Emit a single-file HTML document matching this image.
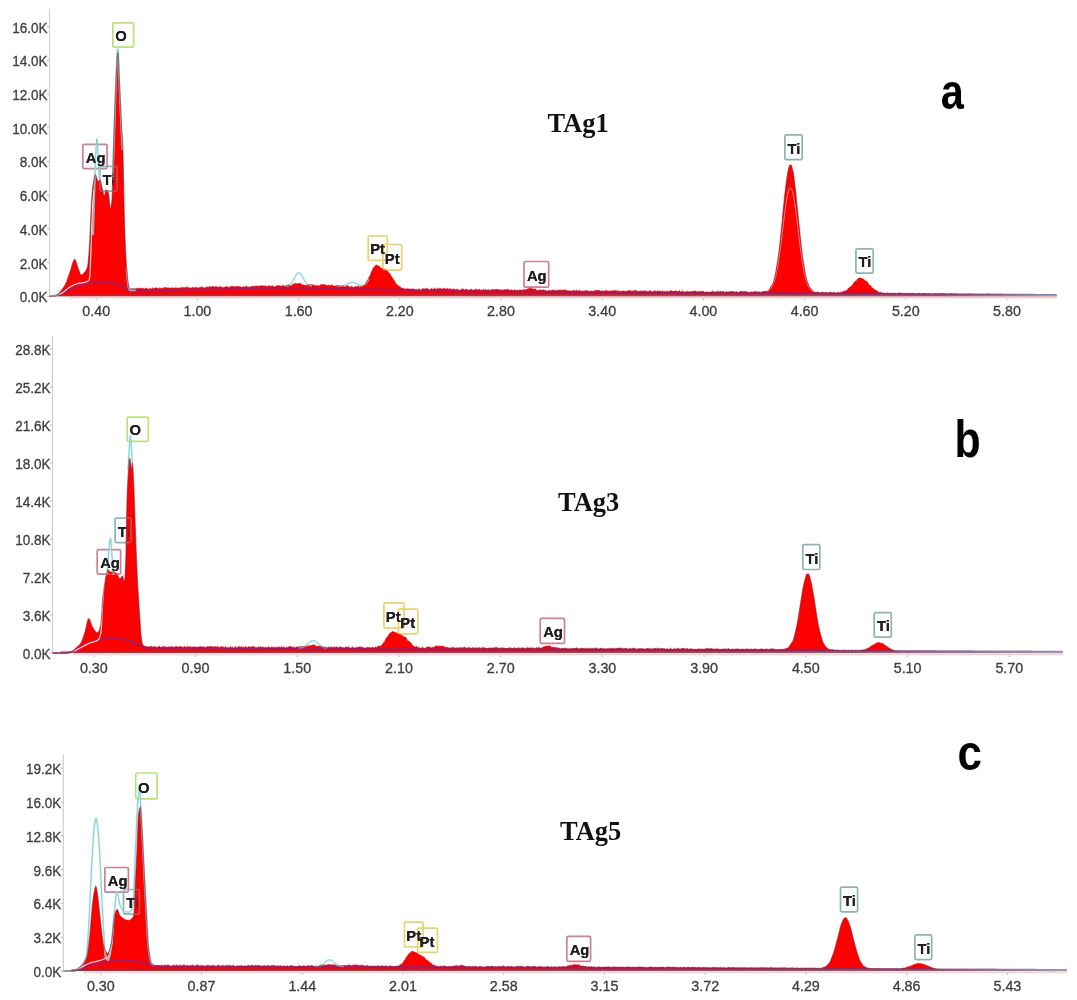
<!DOCTYPE html>
<html><head><meta charset="utf-8"><title>EDS spectra</title><style>
html,body{margin:0;padding:0;background:#fff;}
body{width:1077px;height:1000px;overflow:hidden;}
svg{display:block;}
.yl{font-family:"Liberation Sans", Arial, sans-serif;font-size:15.4px;fill:#3c3c3c;stroke:#3c3c3c;stroke-width:0.3px;text-anchor:end;}
.xl{font-family:"Liberation Sans", Arial, sans-serif;font-size:15.4px;fill:#3c3c3c;stroke:#3c3c3c;stroke-width:0.3px;text-anchor:middle;}
.el{font-family:"Liberation Sans", Arial, sans-serif;font-size:14.8px;font-weight:bold;fill:#1e1e1e;}
.ti{font-family:"Liberation Serif","Times New Roman",serif;font-size:26.4px;font-weight:bold;fill:#111;}
.le{font-family:"Liberation Sans",Arial,sans-serif;font-size:50px;font-weight:bold;fill:#000;}
</style></head><body>
<svg width="1077" height="1000" viewBox="0 0 1077 1000">
<rect width="1077" height="1000" fill="#fff"/>
<g><line x1="49.5" y1="9.0" x2="49.5" y2="296.3" stroke="#cfcfcf" stroke-width="1.2"/>
<line x1="47.0" y1="296.3" x2="49.5" y2="296.3" stroke="#bbb" stroke-width="1"/>
<text x="0" y="0" class="yl" transform="translate(47.6 302.2) scale(0.88 1)">0.0K</text>
<line x1="47.0" y1="262.6" x2="49.5" y2="262.6" stroke="#bbb" stroke-width="1"/>
<text x="0" y="0" class="yl" transform="translate(47.6 268.5) scale(0.88 1)">2.0K</text>
<line x1="47.0" y1="228.9" x2="49.5" y2="228.9" stroke="#bbb" stroke-width="1"/>
<text x="0" y="0" class="yl" transform="translate(47.6 234.8) scale(0.88 1)">4.0K</text>
<line x1="47.0" y1="195.2" x2="49.5" y2="195.2" stroke="#bbb" stroke-width="1"/>
<text x="0" y="0" class="yl" transform="translate(47.6 201.1) scale(0.88 1)">6.0K</text>
<line x1="47.0" y1="161.5" x2="49.5" y2="161.5" stroke="#bbb" stroke-width="1"/>
<text x="0" y="0" class="yl" transform="translate(47.6 167.4) scale(0.88 1)">8.0K</text>
<line x1="47.0" y1="127.8" x2="49.5" y2="127.8" stroke="#bbb" stroke-width="1"/>
<text x="0" y="0" class="yl" transform="translate(47.6 133.7) scale(0.88 1)">10.0K</text>
<line x1="47.0" y1="94.1" x2="49.5" y2="94.1" stroke="#bbb" stroke-width="1"/>
<text x="0" y="0" class="yl" transform="translate(47.6 100.0) scale(0.88 1)">12.0K</text>
<line x1="47.0" y1="60.4" x2="49.5" y2="60.4" stroke="#bbb" stroke-width="1"/>
<text x="0" y="0" class="yl" transform="translate(47.6 66.3) scale(0.88 1)">14.0K</text>
<line x1="47.0" y1="26.7" x2="49.5" y2="26.7" stroke="#bbb" stroke-width="1"/>
<text x="0" y="0" class="yl" transform="translate(47.6 32.6) scale(0.88 1)">16.0K</text>
<line x1="96.2" y1="298.5" x2="96.2" y2="300.1" stroke="#aaa" stroke-width="1"/>
<text x="0" y="0" class="xl" transform="translate(96.2 316.2) scale(0.93 1)">0.40</text>
<line x1="197.4" y1="298.5" x2="197.4" y2="300.1" stroke="#aaa" stroke-width="1"/>
<text x="0" y="0" class="xl" transform="translate(197.4 316.2) scale(0.93 1)">1.00</text>
<line x1="298.6" y1="298.5" x2="298.6" y2="300.1" stroke="#aaa" stroke-width="1"/>
<text x="0" y="0" class="xl" transform="translate(298.6 316.2) scale(0.93 1)">1.60</text>
<line x1="399.8" y1="298.5" x2="399.8" y2="300.1" stroke="#aaa" stroke-width="1"/>
<text x="0" y="0" class="xl" transform="translate(399.8 316.2) scale(0.93 1)">2.20</text>
<line x1="501.0" y1="298.5" x2="501.0" y2="300.1" stroke="#aaa" stroke-width="1"/>
<text x="0" y="0" class="xl" transform="translate(501.0 316.2) scale(0.93 1)">2.80</text>
<line x1="602.2" y1="298.5" x2="602.2" y2="300.1" stroke="#aaa" stroke-width="1"/>
<text x="0" y="0" class="xl" transform="translate(602.2 316.2) scale(0.93 1)">3.40</text>
<line x1="703.4" y1="298.5" x2="703.4" y2="300.1" stroke="#aaa" stroke-width="1"/>
<text x="0" y="0" class="xl" transform="translate(703.4 316.2) scale(0.93 1)">4.00</text>
<line x1="804.6" y1="298.5" x2="804.6" y2="300.1" stroke="#aaa" stroke-width="1"/>
<text x="0" y="0" class="xl" transform="translate(804.6 316.2) scale(0.93 1)">4.60</text>
<line x1="905.8" y1="298.5" x2="905.8" y2="300.1" stroke="#aaa" stroke-width="1"/>
<text x="0" y="0" class="xl" transform="translate(905.8 316.2) scale(0.93 1)">5.20</text>
<line x1="1007.0" y1="298.5" x2="1007.0" y2="300.1" stroke="#aaa" stroke-width="1"/>
<text x="0" y="0" class="xl" transform="translate(1007.0 316.2) scale(0.93 1)">5.80</text>
<rect x="112.8" y="22.9" width="20.8" height="24.3" rx="1.5" fill="none" stroke="#b8e27c" stroke-width="1.7"/><text x="115.2" y="41.2" class="el">O</text><rect x="82.8" y="144.3" width="24.3" height="24.4" rx="1.5" fill="none" stroke="#cc7f96" stroke-width="1.7"/><text x="85.8" y="162.8" class="el">Ag</text><rect x="99.8" y="166.4" width="17.3" height="24.7" rx="1.5" fill="none" stroke="#8fb2b5" stroke-width="1.7"/><text x="102.5" y="185.2" class="el">Ti</text><rect x="368.2" y="236.0" width="19.1" height="24.3" rx="1.5" fill="none" stroke="#e8d46a" stroke-width="1.7"/><text x="370.2" y="254.4" class="el">Pt</text><rect x="382.9" y="244.5" width="18.8" height="25.6" rx="1.5" fill="none" stroke="#e8d46a" stroke-width="1.7"/><text x="384.8" y="264.2" class="el">Pt</text><rect x="524.0" y="261.5" width="24.7" height="25.7" rx="1.5" fill="none" stroke="#cc7f96" stroke-width="1.7"/><text x="526.9" y="281.2" class="el">Ag</text><rect x="784.9" y="134.8" width="17.3" height="24.9" rx="1.5" fill="none" stroke="#8fb2b5" stroke-width="1.7"/><text x="787.5" y="153.8" class="el">Ti</text><rect x="855.9" y="248.8" width="17.3" height="24.3" rx="1.5" fill="none" stroke="#8fb2b5" stroke-width="1.7"/><text x="858.5" y="267.2" class="el">Ti</text>
<defs><path id="sp0path" d="M49.5 296.3 L49.5 296.3 L50.0 296.3 L50.5 296.3 L51.0 296.2 L51.5 296.2 L52.0 296.2 L52.5 296.2 L53.0 296.2 L53.5 296.1 L54.0 296.1 L54.5 296.1 L55.0 296.0 L55.5 295.9 L56.0 295.7 L56.5 295.4 L57.0 295.0 L57.5 294.6 L58.0 294.1 L58.5 293.6 L59.0 293.1 L59.5 292.5 L60.0 292.0 L60.5 291.5 L61.0 290.9 L61.5 290.3 L62.0 289.7 L62.5 289.0 L63.0 288.3 L63.5 287.6 L64.0 286.8 L64.5 286.0 L65.0 285.1 L65.5 284.2 L66.0 283.2 L66.5 282.0 L67.0 280.7 L67.5 279.3 L68.0 277.8 L68.5 276.3 L69.0 274.9 L69.5 273.4 L70.0 272.0 L70.5 270.5 L71.0 268.9 L71.5 267.1 L72.0 265.4 L72.5 263.7 L73.0 262.2 L73.5 260.9 L74.0 260.0 L74.5 259.5 L75.0 259.6 L75.5 260.4 L76.0 261.7 L76.5 263.3 L77.0 265.0 L77.5 266.6 L78.0 268.0 L78.5 269.3 L79.0 270.7 L79.5 272.2 L80.0 273.5 L80.5 274.4 L81.0 274.9 L81.5 275.0 L82.0 274.8 L82.5 274.5 L83.0 274.2 L83.5 273.7 L84.0 273.2 L84.5 272.6 L85.0 272.0 L85.5 271.4 L86.0 270.6 L86.5 269.6 L87.0 268.3 L87.5 266.7 L88.0 264.2 L88.5 259.2 L89.0 252.4 L89.5 245.0 L90.0 235.7 L90.5 224.1 L91.0 212.3 L91.5 202.5 L92.0 195.4 L92.5 189.3 L93.0 185.0 L93.5 182.0 L94.0 179.2 L94.5 177.0 L95.0 175.5 L95.5 175.0 L96.0 175.7 L96.5 177.4 L97.0 179.0 L97.5 180.6 L98.0 181.6 L98.5 181.3 L99.0 180.8 L99.5 180.2 L100.0 180.0 L100.5 180.9 L101.0 183.1 L101.5 185.7 L102.0 188.0 L102.5 190.0 L103.0 192.1 L103.5 194.0 L104.0 195.5 L104.5 196.0 L105.0 194.4 L105.5 191.6 L106.0 190.0 L106.5 190.2 L107.0 190.6 L107.5 191.3 L108.0 192.2 L108.5 193.3 L109.0 197.4 L109.5 203.2 L110.0 207.8 L110.5 208.7 L111.0 207.1 L111.5 204.1 L112.0 200.0 L112.5 188.1 L113.0 167.6 L113.5 147.3 L114.0 131.9 L114.5 117.1 L115.0 103.3 L115.5 90.7 L116.0 80.0 L116.5 69.7 L117.0 59.8 L117.5 53.3 L118.0 52.8 L118.5 60.8 L119.0 73.2 L119.5 85.0 L120.0 95.4 L120.5 106.3 L121.0 117.0 L121.5 126.6 L122.0 134.1 L122.5 140.5 L123.0 153.1 L123.5 177.2 L124.0 203.8 L124.5 223.0 L125.0 237.0 L125.5 249.4 L126.0 259.7 L126.5 267.4 L127.0 273.0 L127.5 278.1 L128.0 282.4 L128.5 285.6 L129.0 287.6 L129.5 288.3 L130.0 288.7 L130.5 289.0 L131.0 289.3 L131.5 288.9 L132.5 288.6 L133.5 289.3 L134.5 288.4 L135.5 289.1 L136.5 288.8 L137.5 288.3 L138.5 289.0 L139.5 288.2 L140.5 288.8 L141.5 288.2 L142.5 288.3 L143.5 288.7 L144.5 289.3 L145.5 288.2 L146.5 288.4 L147.5 288.9 L148.5 289.4 L149.5 288.8 L150.5 288.5 L151.5 289.4 L152.5 287.9 L153.5 289.1 L154.5 288.3 L155.5 288.0 L156.5 287.9 L157.5 288.2 L158.5 288.9 L159.5 288.0 L160.5 288.5 L161.5 288.6 L162.5 288.2 L163.5 288.4 L164.5 287.7 L165.5 287.6 L166.5 287.8 L167.5 288.5 L168.5 288.1 L169.5 287.9 L170.5 288.3 L171.5 288.1 L172.5 287.8 L173.5 288.5 L174.5 288.4 L175.5 287.7 L176.5 288.1 L177.5 288.0 L178.5 288.5 L179.5 288.3 L180.5 287.6 L181.5 288.6 L182.5 287.3 L183.5 287.7 L184.5 288.2 L185.5 287.3 L186.5 287.8 L187.5 287.1 L188.5 288.0 L189.5 288.1 L190.5 287.8 L191.5 288.2 L192.5 287.4 L193.5 287.9 L194.5 287.7 L195.5 287.7 L196.5 287.5 L197.5 288.0 L198.5 288.2 L199.5 287.4 L200.5 287.7 L201.5 286.8 L202.5 287.7 L203.5 287.6 L204.5 288.1 L205.5 287.9 L206.5 287.0 L207.5 287.2 L208.5 287.6 L209.5 286.6 L210.5 287.2 L211.5 286.8 L212.5 286.7 L213.5 286.6 L214.5 287.6 L215.5 286.7 L216.5 286.8 L217.5 287.0 L218.5 287.7 L219.5 286.5 L220.5 287.1 L221.5 287.2 L222.5 287.7 L223.5 287.6 L224.5 287.6 L225.5 286.7 L226.5 286.9 L227.5 286.8 L228.5 287.6 L229.5 287.7 L230.5 286.5 L231.5 286.5 L232.5 286.6 L233.5 286.6 L234.5 286.9 L235.5 287.1 L236.5 286.6 L237.5 286.2 L238.5 286.8 L239.5 286.7 L240.5 287.0 L241.5 287.5 L242.5 287.1 L243.5 286.8 L244.5 287.0 L245.5 287.1 L246.5 286.1 L247.5 287.4 L248.5 287.2 L249.5 287.3 L250.5 287.2 L251.5 286.5 L252.5 286.5 L253.5 286.1 L254.5 286.9 L255.5 286.0 L256.5 286.0 L257.5 286.2 L258.5 286.1 L259.5 286.4 L260.5 285.9 L261.5 285.8 L262.5 286.0 L263.5 285.9 L264.5 286.3 L265.5 285.8 L266.5 287.1 L267.5 286.6 L268.5 285.9 L269.5 286.1 L270.5 286.2 L271.5 286.2 L272.5 285.8 L273.5 286.9 L274.5 287.1 L275.5 286.3 L276.5 286.3 L277.5 285.7 L278.5 285.7 L279.5 286.1 L280.5 285.9 L281.5 286.7 L282.5 285.7 L283.5 285.5 L284.5 286.8 L285.5 286.1 L286.5 285.5 L287.5 285.9 L288.5 285.0 L289.5 285.5 L290.5 286.0 L291.5 285.6 L292.5 285.0 L293.5 284.1 L294.5 283.9 L295.5 283.4 L296.5 284.1 L297.5 283.6 L298.5 284.0 L299.5 283.4 L300.5 283.4 L301.5 284.5 L302.5 285.0 L303.5 285.0 L304.5 285.2 L305.5 285.5 L306.5 285.5 L307.5 284.9 L308.5 285.4 L309.5 285.2 L310.5 284.7 L311.5 284.7 L312.5 285.1 L313.5 285.0 L314.5 285.6 L315.5 286.0 L316.5 285.2 L317.5 285.9 L318.5 285.9 L319.5 285.9 L320.5 285.0 L321.5 284.7 L322.5 284.7 L323.5 284.7 L324.5 284.7 L325.5 285.3 L326.5 285.8 L327.5 285.7 L328.5 285.2 L329.5 285.5 L330.5 285.8 L331.5 284.8 L332.5 285.7 L333.5 286.1 L334.5 286.0 L335.5 286.0 L336.5 285.7 L337.5 285.3 L338.5 286.3 L339.5 285.7 L340.5 286.5 L341.5 286.8 L342.5 286.1 L343.5 286.1 L344.5 287.0 L345.5 286.8 L346.5 286.0 L347.5 286.0 L348.5 286.1 L349.5 287.3 L350.5 287.2 L351.5 286.2 L352.5 287.3 L353.5 287.6 L354.5 287.1 L355.5 286.7 L356.5 287.0 L357.5 286.4 L358.5 286.2 L359.5 287.5 L360.5 286.9 L361.5 286.5 L362.5 286.8 L363.5 285.6 L364.5 285.5 L365.5 284.4 L366.5 282.2 L367.5 280.7 L368.5 278.8 L369.5 276.6 L370.5 274.8 L371.5 272.0 L372.5 270.1 L373.5 267.7 L374.5 267.4 L375.5 265.5 L376.5 265.2 L377.5 265.4 L378.5 266.3 L379.5 266.4 L380.5 268.0 L381.5 268.2 L382.5 269.1 L383.5 269.7 L384.5 269.5 L385.5 270.6 L386.5 270.8 L387.5 271.1 L388.5 273.1 L389.5 273.2 L390.5 275.0 L391.5 276.8 L392.5 278.2 L393.5 279.5 L394.5 281.4 L395.5 283.0 L396.5 284.7 L397.5 284.8 L398.5 286.4 L399.5 286.6 L400.5 287.2 L401.5 288.4 L402.5 288.3 L403.5 288.6 L404.5 289.0 L405.5 289.3 L406.5 288.7 L407.5 289.0 L408.5 288.9 L409.5 289.0 L410.5 289.3 L411.5 289.0 L412.5 289.1 L413.5 289.1 L414.5 289.8 L415.5 289.5 L416.5 289.8 L417.5 289.9 L418.5 288.9 L419.5 289.4 L420.5 290.0 L421.5 289.9 L422.5 288.8 L423.5 288.8 L424.5 289.3 L425.5 288.7 L426.5 288.9 L427.5 288.7 L428.5 289.5 L429.5 289.7 L430.5 289.8 L431.5 288.6 L432.5 289.3 L433.5 289.2 L434.5 288.3 L435.5 289.3 L436.5 289.4 L437.5 288.2 L438.5 289.2 L439.5 288.4 L440.5 288.5 L441.5 289.3 L442.5 289.2 L443.5 288.2 L444.5 288.7 L445.5 289.0 L446.5 288.8 L447.5 288.7 L448.5 289.0 L449.5 289.7 L450.5 288.7 L451.5 289.6 L452.5 289.5 L453.5 288.9 L454.5 289.4 L455.5 289.9 L456.5 289.7 L457.5 289.1 L458.5 290.5 L459.5 290.2 L460.5 290.5 L461.5 289.2 L462.5 289.4 L463.5 289.1 L464.5 290.2 L465.5 289.5 L466.5 289.3 L467.5 289.7 L468.5 290.5 L469.5 290.3 L470.5 289.5 L471.5 289.3 L472.5 290.5 L473.5 290.0 L474.5 290.2 L475.5 289.3 L476.5 289.3 L477.5 290.2 L478.5 289.8 L479.5 289.3 L480.5 290.6 L481.5 290.2 L482.5 290.4 L483.5 289.4 L484.5 290.5 L485.5 289.4 L486.5 290.6 L487.5 290.0 L488.5 289.8 L489.5 290.1 L490.5 290.7 L491.5 289.7 L492.5 289.5 L493.5 290.1 L494.5 289.7 L495.5 289.5 L496.5 289.6 L497.5 289.5 L498.5 289.7 L499.5 289.9 L500.5 289.9 L501.5 290.6 L502.5 289.9 L503.5 290.2 L504.5 289.7 L505.5 290.0 L506.5 289.5 L507.5 289.9 L508.5 289.5 L509.5 290.6 L510.5 290.3 L511.5 289.8 L512.5 290.2 L513.5 290.9 L514.5 289.7 L515.5 290.8 L516.5 290.2 L517.5 290.3 L518.5 290.7 L519.5 290.0 L520.5 290.1 L521.5 290.3 L522.5 290.6 L523.5 289.5 L524.5 290.1 L525.5 289.7 L526.5 289.4 L527.5 289.0 L528.5 288.8 L529.5 288.3 L530.5 288.4 L531.5 288.4 L532.5 289.5 L533.5 288.9 L534.5 289.0 L535.5 289.1 L536.5 290.4 L537.5 290.6 L538.5 290.4 L539.5 290.0 L540.5 290.0 L541.5 290.1 L542.5 290.4 L543.5 290.0 L544.5 290.5 L545.5 290.2 L546.5 291.3 L547.5 291.3 L548.5 290.7 L549.5 290.2 L550.5 291.3 L551.5 290.4 L552.5 290.4 L553.5 289.9 L554.5 290.5 L555.5 290.6 L556.5 290.7 L557.5 290.2 L558.5 290.7 L559.5 290.0 L560.5 290.4 L561.5 290.1 L562.5 290.6 L563.5 290.0 L564.5 290.0 L565.5 290.4 L566.5 290.3 L567.5 290.9 L568.5 290.8 L569.5 291.1 L570.5 291.0 L571.5 291.1 L572.5 291.4 L573.5 290.6 L574.5 290.5 L575.5 291.5 L576.5 290.3 L577.5 291.2 L578.5 291.1 L579.5 290.2 L580.5 291.4 L581.5 291.4 L582.5 291.1 L583.5 291.2 L584.5 291.4 L585.5 290.4 L586.5 290.9 L587.5 290.9 L588.5 291.4 L589.5 291.4 L590.5 291.4 L591.5 291.1 L592.5 291.5 L593.5 291.2 L594.5 291.2 L595.5 290.6 L596.5 290.3 L597.5 290.4 L598.5 290.8 L599.5 290.4 L600.5 291.5 L601.5 291.1 L602.5 291.2 L603.5 291.2 L604.5 291.3 L605.5 291.0 L606.5 290.3 L607.5 291.5 L608.5 291.4 L609.5 291.1 L610.5 291.1 L611.5 291.3 L612.5 290.4 L613.5 291.5 L614.5 290.7 L615.5 290.5 L616.5 290.8 L617.5 291.5 L618.5 290.7 L619.5 291.5 L620.5 291.9 L621.5 291.2 L622.5 291.0 L623.5 291.1 L624.5 291.5 L625.5 291.6 L626.5 291.4 L627.5 291.4 L628.5 290.6 L629.5 290.7 L630.5 290.9 L631.5 291.6 L632.5 291.0 L633.5 291.4 L634.5 290.5 L635.5 290.6 L636.5 290.9 L637.5 291.5 L638.5 291.6 L639.5 291.6 L640.5 291.0 L641.5 291.3 L642.5 291.3 L643.5 291.3 L644.5 290.8 L645.5 291.9 L646.5 290.9 L647.5 292.1 L648.5 292.0 L649.5 290.6 L650.5 291.3 L651.5 291.9 L652.5 292.1 L653.5 291.3 L654.5 291.1 L655.5 291.0 L656.5 292.1 L657.5 291.0 L658.5 291.6 L659.5 290.9 L660.5 291.5 L661.5 292.1 L662.5 290.9 L663.5 292.0 L664.5 291.5 L665.5 292.1 L666.5 291.8 L667.5 291.1 L668.5 292.1 L669.5 291.5 L670.5 290.8 L671.5 290.8 L672.5 291.5 L673.5 291.5 L674.5 291.3 L675.5 291.0 L676.5 291.3 L677.5 291.3 L678.5 292.1 L679.5 290.8 L680.5 292.0 L681.5 292.1 L682.5 291.0 L683.5 292.3 L684.5 292.0 L685.5 292.2 L686.5 291.3 L687.5 291.5 L688.5 291.5 L689.5 292.4 L690.5 291.8 L691.5 291.5 L692.5 291.6 L693.5 291.4 L694.5 291.0 L695.5 291.1 L696.5 292.2 L697.5 291.4 L698.5 292.4 L699.5 291.4 L700.5 291.4 L701.5 291.8 L702.5 291.3 L703.5 291.6 L704.5 292.5 L705.5 292.4 L706.5 292.3 L707.5 292.0 L708.5 292.4 L709.5 292.5 L710.5 291.9 L711.5 292.2 L712.5 291.2 L713.5 292.2 L714.5 291.8 L715.5 292.2 L716.5 292.1 L717.5 291.6 L718.5 291.2 L719.5 292.5 L720.5 291.3 L721.5 291.9 L722.5 291.7 L723.5 291.6 L724.5 292.3 L725.5 292.7 L726.5 291.6 L727.5 292.2 L728.5 291.7 L729.5 292.1 L730.5 291.8 L731.5 291.5 L732.5 291.5 L733.5 291.6 L734.5 292.6 L735.5 292.0 L736.5 291.6 L737.5 292.6 L738.5 292.8 L739.5 292.0 L740.5 291.5 L741.5 291.6 L742.5 291.5 L743.5 291.8 L744.5 291.5 L745.5 291.7 L746.5 291.7 L747.5 292.2 L748.5 292.7 L749.5 292.5 L750.5 292.0 L751.5 292.0 L752.5 292.2 L753.5 292.0 L754.5 291.9 L755.5 291.5 L756.5 291.8 L757.5 292.9 L758.5 291.6 L759.5 292.2 L760.5 292.3 L761.5 292.7 L762.5 291.7 L763.5 291.6 L764.5 291.5 L765.5 291.5 L766.5 291.3 L767.5 291.6 L768.5 290.8 L769.5 289.9 L770.5 287.4 L771.5 285.8 L772.5 284.6 L773.5 282.1 L774.5 277.9 L775.5 273.7 L776.5 267.6 L777.5 261.9 L778.5 255.4 L779.5 247.1 L780.5 238.1 L781.5 228.6 L782.5 217.5 L783.5 207.1 L784.5 197.2 L785.5 188.5 L786.5 180.5 L787.5 174.0 L788.5 168.7 L789.5 165.6 L790.5 164.8 L791.5 165.8 L792.5 169.4 L793.5 174.1 L794.5 182.2 L795.5 190.0 L796.5 200.3 L797.5 210.0 L798.5 219.7 L799.5 229.6 L800.5 239.3 L801.5 248.7 L802.5 256.8 L803.5 263.1 L804.5 269.1 L805.5 274.9 L806.5 279.2 L807.5 282.3 L808.5 284.8 L809.5 287.4 L810.5 288.2 L811.5 289.7 L812.5 290.8 L813.5 292.0 L814.5 292.1 L815.5 292.7 L816.5 292.4 L817.5 292.2 L818.5 292.3 L819.5 293.3 L820.5 293.0 L821.5 292.5 L822.5 292.2 L823.5 292.8 L824.5 293.0 L825.5 292.7 L826.5 292.5 L827.5 293.1 L828.5 293.4 L829.5 292.5 L830.5 292.3 L831.5 292.7 L832.5 292.8 L833.5 293.1 L834.5 292.5 L835.5 293.2 L836.5 293.1 L837.5 292.8 L838.5 292.4 L839.5 293.2 L840.5 292.3 L841.5 292.7 L842.5 291.8 L843.5 291.5 L844.5 291.7 L845.5 290.7 L846.5 290.9 L847.5 289.7 L848.5 288.5 L849.5 287.7 L850.5 286.9 L851.5 286.1 L852.5 285.3 L853.5 283.3 L854.5 282.4 L855.5 281.1 L856.5 281.0 L857.5 279.2 L858.5 278.4 L859.5 278.0 L860.5 278.1 L861.5 278.7 L862.5 278.9 L863.5 279.2 L864.5 280.2 L865.5 281.0 L866.5 281.4 L867.5 282.3 L868.5 284.3 L869.5 285.3 L870.5 285.6 L871.5 287.4 L872.5 288.1 L873.5 289.0 L874.5 289.8 L875.5 290.3 L876.5 290.7 L877.5 291.5 L878.5 292.0 L879.5 293.0 L880.5 292.3 L881.5 293.4 L882.5 292.8 L883.5 293.0 L884.5 293.6 L885.5 293.7 L886.5 293.3 L887.5 293.0 L888.5 293.4 L889.5 293.3 L890.5 293.9 L891.5 293.2 L892.5 293.4 L893.5 293.9 L894.5 293.1 L895.5 293.5 L896.5 293.9 L897.5 293.8 L898.5 293.1 L899.5 293.1 L900.5 293.2 L901.5 294.0 L902.5 293.4 L903.5 293.9 L904.5 294.0 L905.5 293.5 L906.5 293.5 L907.5 294.1 L908.5 293.8 L909.5 293.5 L910.5 293.9 L911.5 293.6 L912.5 293.5 L913.5 293.3 L914.5 294.0 L915.5 294.1 L916.5 293.9 L917.5 294.2 L918.5 293.4 L919.5 293.6 L920.5 293.8 L921.5 294.2 L922.5 294.2 L923.5 293.7 L924.5 293.6 L925.5 293.8 L926.5 293.9 L927.5 294.3 L928.5 293.6 L929.5 294.2 L930.5 294.1 L931.5 294.2 L932.5 294.2 L933.5 294.0 L934.5 293.8 L935.5 293.8 L936.5 293.9 L937.5 294.2 L938.5 293.7 L939.5 293.8 L940.5 294.2 L941.5 293.8 L942.5 293.7 L943.5 293.7 L944.5 294.1 L945.5 293.9 L946.5 294.5 L947.5 294.4 L948.5 294.5 L949.5 293.9 L950.5 293.8 L951.5 293.8 L952.5 294.1 L953.5 294.3 L954.5 294.1 L955.5 294.0 L956.5 294.1 L957.5 294.3 L958.5 294.3 L959.5 294.4 L960.5 294.5 L961.5 294.4 L962.5 294.0 L963.5 294.5 L964.5 294.1 L965.5 294.3 L966.5 294.2 L967.5 294.5 L968.5 294.1 L969.5 294.1 L970.5 294.2 L971.5 294.1 L972.5 294.6 L973.5 294.4 L974.5 294.3 L975.5 294.3 L976.5 294.7 L977.5 294.4 L978.5 294.2 L979.5 294.6 L980.5 294.5 L981.5 294.8 L982.5 294.2 L983.5 294.5 L984.5 294.7 L985.5 294.7 L986.5 294.8 L987.5 294.2 L988.5 294.4 L989.5 294.3 L990.5 294.3 L991.5 294.9 L992.5 294.6 L993.5 294.8 L994.5 294.5 L995.5 294.8 L996.5 294.6 L997.5 294.5 L998.5 294.8 L999.5 294.9 L1000.5 294.4 L1001.5 294.7 L1002.5 294.7 L1003.5 294.5 L1004.5 294.6 L1005.5 294.5 L1006.5 294.6 L1007.5 294.6 L1008.5 294.8 L1009.5 294.9 L1010.5 294.6 L1011.5 294.5 L1012.5 294.7 L1013.5 294.9 L1014.5 294.7 L1015.5 294.8 L1016.5 294.7 L1017.5 295.0 L1018.5 294.9 L1019.5 294.7 L1020.5 294.7 L1021.5 294.9 L1022.5 295.0 L1023.5 295.0 L1024.5 294.8 L1025.5 294.9 L1026.5 295.1 L1027.5 295.0 L1028.5 295.0 L1029.5 295.0 L1030.5 295.3 L1031.5 295.0 L1032.5 295.1 L1033.5 295.1 L1034.5 295.1 L1035.5 295.3 L1036.5 295.4 L1037.5 295.1 L1038.5 295.1 L1039.5 295.3 L1040.5 295.1 L1041.5 295.1 L1042.5 295.4 L1043.5 295.2 L1044.5 295.4 L1045.5 295.3 L1046.5 295.5 L1047.5 295.3 L1048.5 295.2 L1049.5 295.2 L1050.5 295.4 L1051.5 295.4 L1052.5 295.5 L1053.5 295.3 L1054.5 295.5 L1055.5 295.4 L1056.5 295.5 L1056.5 296.3 Z"/></defs>
<use href="#sp0path" fill="#fd0000"/>
<linearGradient id="bl0" gradientUnits="userSpaceOnUse" x1="49.5" y1="0" x2="1057.0" y2="0"><stop offset="0" stop-color="#b02a3c" stop-opacity="0.7"/><stop offset="0.880" stop-color="#8a5a78"/><stop offset="1" stop-color="#86a4b8"/></linearGradient>
<line x1="69.5" y1="297.5" x2="1057.0" y2="297.5" stroke="#f6cfd6" stroke-width="2"/>
<path d="M49.5 296.3 L50.0 296.3 L50.5 296.2 L51.0 296.2 L51.5 296.1 L52.0 296.1 L52.5 296.0 L53.0 295.9 L53.5 295.9 L54.0 295.8 L54.5 295.7 L55.0 295.7 L55.5 295.6 L56.0 295.5 L56.5 295.4 L57.0 295.3 L57.5 295.1 L58.0 295.0 L58.5 294.8 L59.0 294.6 L59.5 294.4 L60.0 294.2 L60.5 294.0 L61.0 293.8 L61.5 293.5 L62.0 293.3 L62.5 293.1 L63.0 292.9 L63.5 292.6 L64.0 292.4 L64.5 292.2 L65.0 292.0 L65.5 291.8 L66.0 291.6 L66.5 291.4 L67.0 291.2 L67.5 291.0 L68.0 290.8 L68.5 290.6 L69.0 290.4 L69.5 290.2 L70.0 290.0 L70.5 289.8 L71.0 289.6 L71.5 289.4 L72.0 289.2 L72.5 289.0 L73.0 288.8 L73.5 288.6 L74.0 288.4 L74.5 288.2 L75.0 288.0 L75.5 287.8 L76.0 287.6 L76.5 287.4 L77.0 287.2 L77.5 287.0 L78.0 286.9 L78.5 286.7 L79.0 286.5 L79.5 286.3 L80.0 286.1 L80.5 285.9 L81.0 285.7 L81.5 285.6 L82.0 285.4 L82.5 285.2 L83.0 285.1 L83.5 284.9 L84.0 284.8 L84.5 284.6 L85.0 284.5 L85.5 284.4 L86.0 284.2 L86.5 284.1 L87.0 284.0 L87.5 283.8 L88.0 283.7 L88.5 283.6 L89.0 283.4 L89.5 283.3 L90.0 283.2 L90.5 283.1 L91.0 283.0 L91.5 282.9 L92.0 282.8 L92.5 282.7 L93.0 282.6 L93.5 282.6 L94.0 282.5 L94.5 282.5 L95.0 282.5 L95.5 282.5 L96.0 282.5 L96.5 282.5 L97.0 282.5 L97.5 282.5 L98.0 282.5 L98.5 282.5 L99.0 282.5 L99.5 282.5 L100.0 282.5 L100.5 282.5 L101.0 282.5 L101.5 282.5 L102.0 282.5 L102.5 282.5 L103.0 282.5 L103.5 282.5 L104.0 282.5 L104.5 282.5 L105.0 282.5 L105.5 282.5 L106.0 282.5 L106.5 282.5 L107.0 282.6 L107.5 282.6 L108.0 282.7 L108.5 282.7 L109.0 282.8 L109.5 282.9 L110.0 283.0 L110.5 283.1 L111.0 283.2 L111.5 283.3 L112.0 283.4 L112.5 283.5 L113.0 283.6 L113.5 283.7 L114.0 283.8 L114.5 283.9 L115.0 284.0 L115.5 284.1 L116.0 284.3 L116.5 284.4 L117.0 284.6 L117.5 284.7 L118.0 284.9 L118.5 285.1 L119.0 285.3 L119.5 285.5 L120.0 285.7 L120.5 286.0 L121.0 286.2 L121.5 286.4 L122.0 286.7 L122.5 286.9 L123.0 287.1 L123.5 287.3 L124.0 287.6 L124.5 287.8 L125.0 288.0 L125.5 288.2 L126.0 288.5 L126.5 288.7 L127.0 289.0 L127.5 289.3 L128.0 289.6 L128.5 289.9 L129.0 290.2 L129.5 290.4 L130.0 290.7 L130.5 290.9 L131.0 291.1 L131.5 291.3 L132.5 291.5 L133.5 291.5 L134.5 291.5 L135.5 291.5 L136.5 291.5 L137.5 291.5 L138.5 291.5 L139.5 291.5 L140.5 291.5 L141.5 291.5 L142.5 291.4 L143.5 291.4 L144.5 291.4 L145.5 291.4 L146.5 291.4 L147.5 291.4 L148.5 291.3 L149.5 291.3 L150.5 291.3 L151.5 291.3 L152.5 291.3 L153.5 291.2 L154.5 291.2 L155.5 291.2 L156.5 291.2 L157.5 291.2 L158.5 291.1 L159.5 291.1 L160.5 291.1 L161.5 291.1 L162.5 291.0 L163.5 291.0 L164.5 291.0 L165.5 290.9 L166.5 290.9 L167.5 290.9 L168.5 290.9 L169.5 290.8 L170.5 290.8 L171.5 290.8 L172.5 290.7 L173.5 290.7 L174.5 290.7 L175.5 290.6 L176.5 290.6 L177.5 290.6 L178.5 290.6 L179.5 290.5 L180.5 290.5 L181.5 290.5 L182.5 290.4 L183.5 290.4 L184.5 290.4 L185.5 290.4 L186.5 290.3 L187.5 290.3 L188.5 290.3 L189.5 290.2 L190.5 290.2 L191.5 290.2 L192.5 290.2 L193.5 290.1 L194.5 290.1 L195.5 290.1 L196.5 290.1 L197.5 290.1 L198.5 290.0 L199.5 290.0 L200.5 290.0 L201.5 290.0 L202.5 290.0 L203.5 289.9 L204.5 289.9 L205.5 289.9 L206.5 289.9 L207.5 289.8 L208.5 289.8 L209.5 289.8 L210.5 289.8 L211.5 289.8 L212.5 289.7 L213.5 289.7 L214.5 289.7 L215.5 289.7 L216.5 289.7 L217.5 289.6 L218.5 289.6 L219.5 289.6 L220.5 289.6 L221.5 289.5 L222.5 289.5 L223.5 289.5 L224.5 289.5 L225.5 289.5 L226.5 289.4 L227.5 289.4 L228.5 289.4 L229.5 289.4 L230.5 289.3 L231.5 289.3 L232.5 289.3 L233.5 289.3 L234.5 289.3 L235.5 289.2 L236.5 289.2 L237.5 289.2 L238.5 289.2 L239.5 289.1 L240.5 289.1 L241.5 289.1 L242.5 289.1 L243.5 289.1 L244.5 289.0 L245.5 289.0 L246.5 289.0 L247.5 289.0 L248.5 289.0 L249.5 288.9 L250.5 288.9 L251.5 288.9 L252.5 288.9 L253.5 288.9 L254.5 288.9 L255.5 288.8 L256.5 288.8 L257.5 288.8 L258.5 288.8 L259.5 288.8 L260.5 288.8 L261.5 288.7 L262.5 288.7 L263.5 288.7 L264.5 288.7 L265.5 288.7 L266.5 288.7 L267.5 288.7 L268.5 288.6 L269.5 288.6 L270.5 288.6 L271.5 288.6 L272.5 288.6 L273.5 288.6 L274.5 288.6 L275.5 288.6 L276.5 288.6 L277.5 288.5 L278.5 288.5 L279.5 288.5 L280.5 288.5 L281.5 288.5 L282.5 288.5 L283.5 288.5 L284.5 288.5 L285.5 288.5 L286.5 288.5 L287.5 288.5 L288.5 288.5 L289.5 288.5 L290.5 288.5 L291.5 288.5 L292.5 288.5 L293.5 288.5 L294.5 288.5 L295.5 288.5 L296.5 288.5 L297.5 288.5 L298.5 288.5 L299.5 288.5 L300.5 288.5 L301.5 288.5 L302.5 288.6 L303.5 288.6 L304.5 288.6 L305.5 288.6 L306.5 288.6 L307.5 288.6 L308.5 288.6 L309.5 288.6 L310.5 288.6 L311.5 288.6 L312.5 288.7 L313.5 288.7 L314.5 288.7 L315.5 288.7 L316.5 288.7 L317.5 288.7 L318.5 288.7 L319.5 288.8 L320.5 288.8 L321.5 288.8 L322.5 288.8 L323.5 288.8 L324.5 288.8 L325.5 288.8 L326.5 288.9 L327.5 288.9 L328.5 288.9 L329.5 288.9 L330.5 288.9 L331.5 289.0 L332.5 289.0 L333.5 289.0 L334.5 289.0 L335.5 289.0 L336.5 289.0 L337.5 289.1 L338.5 289.1 L339.5 289.1 L340.5 289.1 L341.5 289.1 L342.5 289.2 L343.5 289.2 L344.5 289.2 L345.5 289.2 L346.5 289.2 L347.5 289.3 L348.5 289.3 L349.5 289.3 L350.5 289.3 L351.5 289.3 L352.5 289.4 L353.5 289.4 L354.5 289.4 L355.5 289.4 L356.5 289.4 L357.5 289.5 L358.5 289.5 L359.5 289.5 L360.5 289.5 L361.5 289.5 L362.5 289.5 L363.5 289.6 L364.5 289.6 L365.5 289.6 L366.5 289.6 L367.5 289.7 L368.5 289.7 L369.5 289.7 L370.5 289.7 L371.5 289.8 L372.5 289.8 L373.5 289.8 L374.5 289.8 L375.5 289.9 L376.5 289.9 L377.5 289.9 L378.5 289.9 L379.5 290.0 L380.5 290.0 L381.5 290.0 L382.5 290.1 L383.5 290.1 L384.5 290.1 L385.5 290.1 L386.5 290.2 L387.5 290.2 L388.5 290.2 L389.5 290.3 L390.5 290.3 L391.5 290.3 L392.5 290.3 L393.5 290.4 L394.5 290.4 L395.5 290.4 L396.5 290.5 L397.5 290.5 L398.5 290.5 L399.5 290.5 L400.5 290.6 L401.5 290.6 L402.5 290.6 L403.5 290.6 L404.5 290.7 L405.5 290.7 L406.5 290.7 L407.5 290.7 L408.5 290.8 L409.5 290.8 L410.5 290.8 L411.5 290.8 L412.5 290.9 L413.5 290.9 L414.5 290.9 L415.5 290.9 L416.5 290.9 L417.5 291.0 L418.5 291.0 L419.5 291.0 L420.5 291.0 L421.5 291.0 L422.5 291.0 L423.5 291.1 L424.5 291.1 L425.5 291.1 L426.5 291.1 L427.5 291.1 L428.5 291.1 L429.5 291.1 L430.5 291.2 L431.5 291.2 L432.5 291.2 L433.5 291.2 L434.5 291.2 L435.5 291.2 L436.5 291.2 L437.5 291.3 L438.5 291.3 L439.5 291.3 L440.5 291.3 L441.5 291.3 L442.5 291.3 L443.5 291.3 L444.5 291.4 L445.5 291.4 L446.5 291.4 L447.5 291.4 L448.5 291.4 L449.5 291.4 L450.5 291.4 L451.5 291.5 L452.5 291.5 L453.5 291.5 L454.5 291.5 L455.5 291.5 L456.5 291.5 L457.5 291.5 L458.5 291.5 L459.5 291.6 L460.5 291.6 L461.5 291.6 L462.5 291.6 L463.5 291.6 L464.5 291.6 L465.5 291.6 L466.5 291.6 L467.5 291.7 L468.5 291.7 L469.5 291.7 L470.5 291.7 L471.5 291.7 L472.5 291.7 L473.5 291.7 L474.5 291.7 L475.5 291.7 L476.5 291.8 L477.5 291.8 L478.5 291.8 L479.5 291.8 L480.5 291.8 L481.5 291.8 L482.5 291.8 L483.5 291.8 L484.5 291.8 L485.5 291.8 L486.5 291.9 L487.5 291.9 L488.5 291.9 L489.5 291.9 L490.5 291.9 L491.5 291.9 L492.5 291.9 L493.5 291.9 L494.5 291.9 L495.5 291.9 L496.5 292.0 L497.5 292.0 L498.5 292.0 L499.5 292.0 L500.5 292.0 L501.5 292.0 L502.5 292.0 L503.5 292.0 L504.5 292.0 L505.5 292.0 L506.5 292.0 L507.5 292.1 L508.5 292.1 L509.5 292.1 L510.5 292.1 L511.5 292.1 L512.5 292.1 L513.5 292.1 L514.5 292.1 L515.5 292.1 L516.5 292.1 L517.5 292.1 L518.5 292.1 L519.5 292.2 L520.5 292.2 L521.5 292.2 L522.5 292.2 L523.5 292.2 L524.5 292.2 L525.5 292.2 L526.5 292.2 L527.5 292.2 L528.5 292.2 L529.5 292.2 L530.5 292.2 L531.5 292.2 L532.5 292.3 L533.5 292.3 L534.5 292.3 L535.5 292.3 L536.5 292.3 L537.5 292.3 L538.5 292.3 L539.5 292.3 L540.5 292.3 L541.5 292.3 L542.5 292.3 L543.5 292.3 L544.5 292.3 L545.5 292.3 L546.5 292.3 L547.5 292.3 L548.5 292.4 L549.5 292.4 L550.5 292.4 L551.5 292.4 L552.5 292.4 L553.5 292.4 L554.5 292.4 L555.5 292.4 L556.5 292.4 L557.5 292.4 L558.5 292.4 L559.5 292.4 L560.5 292.4 L561.5 292.4 L562.5 292.4 L563.5 292.4 L564.5 292.4 L565.5 292.4 L566.5 292.5 L567.5 292.5 L568.5 292.5 L569.5 292.5 L570.5 292.5 L571.5 292.5 L572.5 292.5 L573.5 292.5 L574.5 292.5 L575.5 292.5 L576.5 292.5 L577.5 292.5 L578.5 292.5 L579.5 292.5 L580.5 292.5 L581.5 292.5 L582.5 292.5 L583.5 292.5 L584.5 292.5 L585.5 292.5 L586.5 292.5 L587.5 292.6 L588.5 292.6 L589.5 292.6 L590.5 292.6 L591.5 292.6 L592.5 292.6 L593.5 292.6 L594.5 292.6 L595.5 292.6 L596.5 292.6 L597.5 292.6 L598.5 292.6 L599.5 292.6 L600.5 292.6 L601.5 292.6 L602.5 292.6 L603.5 292.6 L604.5 292.6 L605.5 292.6 L606.5 292.6 L607.5 292.6 L608.5 292.6 L609.5 292.6 L610.5 292.6 L611.5 292.7 L612.5 292.7 L613.5 292.7 L614.5 292.7 L615.5 292.7 L616.5 292.7 L617.5 292.7 L618.5 292.7 L619.5 292.7 L620.5 292.7 L621.5 292.7 L622.5 292.7 L623.5 292.7 L624.5 292.7 L625.5 292.7 L626.5 292.7 L627.5 292.7 L628.5 292.7 L629.5 292.7 L630.5 292.7 L631.5 292.7 L632.5 292.7 L633.5 292.7 L634.5 292.7 L635.5 292.7 L636.5 292.7 L637.5 292.7 L638.5 292.8 L639.5 292.8 L640.5 292.8 L641.5 292.8 L642.5 292.8 L643.5 292.8 L644.5 292.8 L645.5 292.8 L646.5 292.8 L647.5 292.8 L648.5 292.8 L649.5 292.8 L650.5 292.8 L651.5 292.8 L652.5 292.8 L653.5 292.8 L654.5 292.8 L655.5 292.8 L656.5 292.8 L657.5 292.8 L658.5 292.8 L659.5 292.8 L660.5 292.8 L661.5 292.8 L662.5 292.8 L663.5 292.8 L664.5 292.9 L665.5 292.9 L666.5 292.9 L667.5 292.9 L668.5 292.9 L669.5 292.9 L670.5 292.9 L671.5 292.9 L672.5 292.9 L673.5 292.9 L674.5 292.9 L675.5 292.9 L676.5 292.9 L677.5 292.9 L678.5 292.9 L679.5 292.9 L680.5 292.9 L681.5 292.9 L682.5 292.9 L683.5 292.9 L684.5 292.9 L685.5 292.9 L686.5 292.9 L687.5 292.9 L688.5 292.9 L689.5 293.0 L690.5 293.0 L691.5 293.0 L692.5 293.0 L693.5 293.0 L694.5 293.0 L695.5 293.0 L696.5 293.0 L697.5 293.0 L698.5 293.0 L699.5 293.0 L700.5 293.0 L701.5 293.0 L702.5 293.0 L703.5 293.0 L704.5 293.0 L705.5 293.0 L706.5 293.0 L707.5 293.0 L708.5 293.0 L709.5 293.0 L710.5 293.0 L711.5 293.1 L712.5 293.1 L713.5 293.1 L714.5 293.1 L715.5 293.1 L716.5 293.1 L717.5 293.1 L718.5 293.1 L719.5 293.1 L720.5 293.1 L721.5 293.1 L722.5 293.1 L723.5 293.1 L724.5 293.1 L725.5 293.1 L726.5 293.1 L727.5 293.1 L728.5 293.1 L729.5 293.1 L730.5 293.1 L731.5 293.1 L732.5 293.2 L733.5 293.2 L734.5 293.2 L735.5 293.2 L736.5 293.2 L737.5 293.2 L738.5 293.2 L739.5 293.2 L740.5 293.2 L741.5 293.2 L742.5 293.2 L743.5 293.2 L744.5 293.2 L745.5 293.2 L746.5 293.2 L747.5 293.2 L748.5 293.2 L749.5 293.2 L750.5 293.2 L751.5 293.2 L752.5 293.2 L753.5 293.3 L754.5 293.3 L755.5 293.3 L756.5 293.3 L757.5 293.3 L758.5 293.3 L759.5 293.3 L760.5 293.3 L761.5 293.3 L762.5 293.3 L763.5 293.3 L764.5 293.3 L765.5 293.3 L766.5 293.3 L767.5 293.3 L768.5 293.3 L769.5 293.3 L770.5 293.3 L771.5 293.3 L772.5 293.3 L773.5 293.3 L774.5 293.4 L775.5 293.4 L776.5 293.4 L777.5 293.4 L778.5 293.4 L779.5 293.4 L780.5 293.4 L781.5 293.4 L782.5 293.4 L783.5 293.4 L784.5 293.4 L785.5 293.4 L786.5 293.4 L787.5 293.4 L788.5 293.4 L789.5 293.4 L790.5 293.4 L791.5 293.4 L792.5 293.4 L793.5 293.4 L794.5 293.4 L795.5 293.5 L796.5 293.5 L797.5 293.5 L798.5 293.5 L799.5 293.5 L800.5 293.5 L801.5 293.5 L802.5 293.5 L803.5 293.5 L804.5 293.5 L805.5 293.5 L806.5 293.5 L807.5 293.5 L808.5 293.5 L809.5 293.5 L810.5 293.5 L811.5 293.5 L812.5 293.5 L813.5 293.5 L814.5 293.5 L815.5 293.6 L816.5 293.6 L817.5 293.6 L818.5 293.6 L819.5 293.6 L820.5 293.6 L821.5 293.6 L822.5 293.6 L823.5 293.6 L824.5 293.6 L825.5 293.6 L826.5 293.6 L827.5 293.6 L828.5 293.6 L829.5 293.6 L830.5 293.6 L831.5 293.6 L832.5 293.6 L833.5 293.6 L834.5 293.6 L835.5 293.7 L836.5 293.7 L837.5 293.7 L838.5 293.7 L839.5 293.7 L840.5 293.7 L841.5 293.7 L842.5 293.7 L843.5 293.7 L844.5 293.7 L845.5 293.7 L846.5 293.7 L847.5 293.7 L848.5 293.7 L849.5 293.7 L850.5 293.7 L851.5 293.7 L852.5 293.7 L853.5 293.7 L854.5 293.8 L855.5 293.8 L856.5 293.8 L857.5 293.8 L858.5 293.8 L859.5 293.8 L860.5 293.8 L861.5 293.8 L862.5 293.8 L863.5 293.8 L864.5 293.8 L865.5 293.8 L866.5 293.8 L867.5 293.8 L868.5 293.8 L869.5 293.8 L870.5 293.8 L871.5 293.8 L872.5 293.8 L873.5 293.9 L874.5 293.9 L875.5 293.9 L876.5 293.9 L877.5 293.9 L878.5 293.9 L879.5 293.9 L880.5 293.9 L881.5 293.9 L882.5 293.9 L883.5 293.9 L884.5 293.9 L885.5 293.9 L886.5 293.9 L887.5 293.9 L888.5 293.9 L889.5 293.9 L890.5 293.9 L891.5 294.0 L892.5 294.0 L893.5 294.0 L894.5 294.0 L895.5 294.0 L896.5 294.0 L897.5 294.0 L898.5 294.0 L899.5 294.0 L900.5 294.0 L901.5 294.0 L902.5 294.0 L903.5 294.0 L904.5 294.0 L905.5 294.0 L906.5 294.0 L907.5 294.0 L908.5 294.0 L909.5 294.1 L910.5 294.1 L911.5 294.1 L912.5 294.1 L913.5 294.1 L914.5 294.1 L915.5 294.1 L916.5 294.1 L917.5 294.1 L918.5 294.1 L919.5 294.1 L920.5 294.1 L921.5 294.1 L922.5 294.1 L923.5 294.1 L924.5 294.1 L925.5 294.1 L926.5 294.2 L927.5 294.2 L928.5 294.2 L929.5 294.2 L930.5 294.2 L931.5 294.2 L932.5 294.2 L933.5 294.2 L934.5 294.2 L935.5 294.2 L936.5 294.2 L937.5 294.2 L938.5 294.2 L939.5 294.2 L940.5 294.2 L941.5 294.2 L942.5 294.3 L943.5 294.3 L944.5 294.3 L945.5 294.3 L946.5 294.3 L947.5 294.3 L948.5 294.3 L949.5 294.3 L950.5 294.3 L951.5 294.3 L952.5 294.3 L953.5 294.3 L954.5 294.3 L955.5 294.3 L956.5 294.3 L957.5 294.3 L958.5 294.4 L959.5 294.4 L960.5 294.4 L961.5 294.4 L962.5 294.4 L963.5 294.4 L964.5 294.4 L965.5 294.4 L966.5 294.4 L967.5 294.4 L968.5 294.4 L969.5 294.4 L970.5 294.4 L971.5 294.4 L972.5 294.4 L973.5 294.5 L974.5 294.5 L975.5 294.5 L976.5 294.5 L977.5 294.5 L978.5 294.5 L979.5 294.5 L980.5 294.5 L981.5 294.5 L982.5 294.5 L983.5 294.5 L984.5 294.5 L985.5 294.5 L986.5 294.5 L987.5 294.5 L988.5 294.6 L989.5 294.6 L990.5 294.6 L991.5 294.6 L992.5 294.6 L993.5 294.6 L994.5 294.6 L995.5 294.6 L996.5 294.6 L997.5 294.6 L998.5 294.6 L999.5 294.6 L1000.5 294.6 L1001.5 294.6 L1002.5 294.6 L1003.5 294.7 L1004.5 294.7 L1005.5 294.7 L1006.5 294.7 L1007.5 294.7 L1008.5 294.7 L1009.5 294.7 L1010.5 294.7 L1011.5 294.7 L1012.5 294.7 L1013.5 294.7 L1014.5 294.7 L1015.5 294.7 L1016.5 294.7 L1017.5 294.7 L1018.5 294.7 L1019.5 294.8 L1020.5 294.8 L1021.5 294.8 L1022.5 294.8 L1023.5 294.8 L1024.5 294.8 L1025.5 294.8 L1026.5 294.8 L1027.5 294.8 L1028.5 294.8 L1029.5 294.8 L1030.5 294.8 L1031.5 294.8 L1032.5 294.8 L1033.5 294.8 L1034.5 294.9 L1035.5 294.9 L1036.5 294.9 L1037.5 294.9 L1038.5 294.9 L1039.5 294.9 L1040.5 294.9 L1041.5 294.9 L1042.5 294.9 L1043.5 294.9 L1044.5 294.9 L1045.5 294.9 L1046.5 294.9 L1047.5 294.9 L1048.5 294.9 L1049.5 295.0 L1050.5 295.0 L1051.5 295.0 L1052.5 295.0 L1053.5 295.0 L1054.5 295.0 L1055.5 295.0 L1056.5 295.0" fill="none" stroke="#7a2890" stroke-opacity="0.65" stroke-width="2"/>
<path d="M767.9 291.1 L768.4 290.8 L768.9 290.5 L769.4 290.1 L769.9 289.7 L770.4 289.1 L770.9 288.5 L771.4 287.8 L771.9 287.0 L772.4 286.1 L772.9 285.0 L773.4 283.8 L773.9 282.5 L774.4 281.0 L774.9 279.3 L775.4 277.5 L775.9 275.5 L776.4 273.2 L776.9 270.8 L777.4 268.2 L777.9 265.3 L778.4 262.3 L778.9 259.1 L779.4 255.7 L779.9 252.1 L780.4 248.3 L780.9 244.5 L781.4 240.5 L781.9 236.4 L782.4 232.2 L782.9 228.0 L783.4 223.9 L783.9 219.7 L784.4 215.7 L784.9 211.8 L785.4 208.0 L785.9 204.5 L786.4 201.2 L786.9 198.2 L787.4 195.5 L787.9 193.1 L788.4 191.2 L788.9 189.7 L789.4 188.5 L789.9 187.9 L790.4 187.6 L790.9 187.9 L791.4 188.6 L791.9 189.7 L792.4 191.2 L792.9 193.2 L793.4 195.5 L793.9 198.2 L794.4 201.3 L794.9 204.6 L795.4 208.1 L795.9 211.9 L796.4 215.8 L796.9 219.9 L797.4 224.0 L797.9 228.2 L798.4 232.4 L798.9 236.5 L799.4 240.6 L799.9 244.6 L800.4 248.5 L800.9 252.3 L801.4 255.9 L801.9 259.3 L802.4 262.5 L802.9 265.6 L803.4 268.4 L803.9 271.1 L804.4 273.5 L804.9 275.7 L805.4 277.8 L805.9 279.6 L806.4 281.3 L806.9 282.8 L807.4 284.2 L807.9 285.4 L808.4 286.4 L808.9 287.4 L809.4 288.2 L809.9 288.9 L810.4 289.5 L810.9 290.0 L811.4 290.5 L811.9 290.9 L812.4 291.2 L812.9 291.5" fill="none" stroke="#eaa0a0" stroke-opacity="0.85" stroke-width="1"/>
<path d="M56.0 296.0 L56.5 295.8 L57.0 295.5 L57.5 295.3 L58.0 295.0 L58.5 294.8 L59.0 294.6 L59.5 294.3 L60.0 294.1 L60.5 293.8 L61.0 293.6 L61.5 293.3 L62.0 293.0 L62.5 292.7 L63.0 292.3 L63.5 292.0 L64.0 291.6 L64.5 291.2 L65.0 290.8 L65.5 290.4 L66.0 290.0 L66.5 289.5 L67.0 289.1 L67.5 288.7 L68.0 288.3 L68.5 288.0 L69.0 287.6 L69.5 287.3 L70.0 287.0 L70.5 286.7 L71.0 286.5 L71.5 286.2 L72.0 285.9 L72.5 285.7 L73.0 285.4 L73.5 285.2 L74.0 285.0 L74.5 284.7 L75.0 284.5 L75.5 284.3 L76.0 284.1 L76.5 284.0 L77.0 283.8 L77.5 283.6 L78.0 283.5 L78.5 283.4 L79.0 283.3 L79.5 283.2 L80.0 283.1 L80.5 283.0 L81.0 283.0 L81.5 282.9 L82.0 282.8 L82.5 282.8 L83.0 282.7 L83.5 282.6 L84.0 282.5 L84.5 282.4 L85.0 282.3 L85.5 282.2 L86.0 282.0 L86.5 281.8 L87.0 281.6 L87.5 281.3 L88.0 281.0 L88.5 280.5 L89.0 279.8 L89.5 279.0 L90.0 273.7 L90.5 262.5 L91.0 250.0 L91.5 234.8 L92.0 217.4 L92.5 205.0 L93.0 198.9 L93.5 194.4 L94.0 190.0" fill="none" stroke="#ffd8d8" stroke-width="1.2"/>
<path d="M49.5 296.3 L50.0 296.2 L50.5 296.2 L51.0 296.1 L51.5 296.1 L52.0 296.0 L52.5 296.0 L53.0 295.9 L53.5 295.9 L54.0 295.8 L54.5 295.7 L55.0 295.6 L55.5 295.5 L56.0 295.4 L56.5 295.3 L57.0 295.1 L57.5 295.0 L58.0 294.8 L58.5 294.6 L59.0 294.4 L59.5 294.2 L60.0 294.0 L60.5 293.7 L61.0 293.5 M93.0 235.0 L93.5 216.9 L94.0 200.0 L94.5 184.9 L95.0 171.1 L95.5 160.0 L96.0 150.4 L96.5 142.2 L97.0 138.7 L97.5 143.7 L98.0 154.6 L98.5 165.0 L99.0 172.6 L99.5 180.0 M112.5 180.0 L113.0 166.8 L113.5 153.7 L114.0 140.0 L114.5 124.8 L115.0 108.5 L115.5 93.0 L116.0 80.0 L116.5 68.2 L117.0 57.0 L117.5 49.4 L118.0 49.0 L118.5 57.9 L119.0 71.8 L119.5 85.0 L120.0 96.3 L120.5 107.8 L121.0 119.1 L121.5 130.0 L122.0 140.1 L122.5 150.0 M126.6 268.6 L127.1 274.7 L127.6 280.6 L128.1 284.6 L128.6 287.2 L129.1 288.8 L129.6 289.5 L130.1 289.9 L130.6 290.2 L131.1 290.3 L131.6 290.3 L132.1 290.3 L132.6 290.3 L133.1 290.3 L133.6 290.3 L134.1 290.3 L134.6 290.3 L135.1 290.3 L135.6 290.3 M285.9 286.1 L286.4 286.0 L286.9 285.9 L287.4 285.8 L287.9 285.6 L288.4 285.4 L288.9 285.1 L289.4 284.8 L289.9 284.5 L290.4 284.0 L290.9 283.5 L291.4 283.0 L291.9 282.3 L292.4 281.6 L292.9 280.8 L293.4 279.9 L293.9 279.0 L294.4 278.1 L294.9 277.2 L295.4 276.3 L295.9 275.4 L296.4 274.6 L296.9 273.9 L297.4 273.4 L297.9 273.0 L298.4 272.8 L298.9 272.7 L299.4 272.8 L299.9 273.1 L300.4 273.6 L300.9 274.2 L301.4 274.9 L301.9 275.7 L302.4 276.6 L302.9 277.5 L303.4 278.4 L303.9 279.4 L304.4 280.2 L304.9 281.0 L305.4 281.8 L305.9 282.5 L306.4 283.1 L306.9 283.6 L307.4 284.0 L307.9 284.4 L308.4 284.7 L308.9 284.9 L309.4 285.1 L309.9 285.2 L310.4 285.3 L310.9 285.4 L311.4 285.5 L311.9 285.5 M336.8 285.9 L337.3 285.9 L337.8 285.9 L338.3 286.0 L338.8 286.0 L339.3 286.0 L339.8 286.0 L340.3 286.0 L340.8 286.0 L341.3 286.0 L341.8 285.9 L342.3 285.9 L342.8 285.8 L343.3 285.7 L343.8 285.6 L344.3 285.4 L344.8 285.3 L345.3 285.1 L345.8 284.9 L346.3 284.7 L346.8 284.5 L347.3 284.2 L347.8 284.0 L348.3 283.8 L348.8 283.5 L349.3 283.3 L349.8 283.1 L350.3 282.9 L350.8 282.7 L351.3 282.6 L351.8 282.5 L352.3 282.5 L352.8 282.5 L353.3 282.5 L353.8 282.6 L354.3 282.7 L354.8 282.9 L355.3 283.1 L355.8 283.3 L356.3 283.6 L356.8 283.8 L357.3 284.1 L357.8 284.4 L358.3 284.6 L358.8 284.9 L359.3 285.1 L359.8 285.3 L360.3 285.4 L360.8 285.6 L361.3 285.6 L361.8 285.7 L362.3 285.7 L362.8 285.6 L363.3 285.4 L363.8 285.2 L364.3 284.9 L364.8 284.6 L365.3 284.1 L365.8 283.6 L366.3 283.0 L366.8 282.3 L367.3 281.5 L367.8 280.6 L368.3 279.7 L368.8 278.6" fill="none" stroke="#a8f0f4" stroke-opacity="0.75" stroke-width="2"/><path d="M49.5 296.3 L50.0 296.2 L50.5 296.2 L51.0 296.1 L51.5 296.1 L52.0 296.0 L52.5 296.0 L53.0 295.9 L53.5 295.9 L54.0 295.8 L54.5 295.7 L55.0 295.6 L55.5 295.5 L56.0 295.4 L56.5 295.3 L57.0 295.1 L57.5 295.0 L58.0 294.8 L58.5 294.6 L59.0 294.4 L59.5 294.2 L60.0 294.0 L60.5 293.7 L61.0 293.5 M93.0 235.0 L93.5 216.9 L94.0 200.0 L94.5 184.9 L95.0 171.1 L95.5 160.0 L96.0 150.4 L96.5 142.2 L97.0 138.7 L97.5 143.7 L98.0 154.6 L98.5 165.0 L99.0 172.6 L99.5 180.0 M112.5 180.0 L113.0 166.8 L113.5 153.7 L114.0 140.0 L114.5 124.8 L115.0 108.5 L115.5 93.0 L116.0 80.0 L116.5 68.2 L117.0 57.0 L117.5 49.4 L118.0 49.0 L118.5 57.9 L119.0 71.8 L119.5 85.0 L120.0 96.3 L120.5 107.8 L121.0 119.1 L121.5 130.0 L122.0 140.1 L122.5 150.0 M126.6 268.6 L127.1 274.7 L127.6 280.6 L128.1 284.6 L128.6 287.2 L129.1 288.8 L129.6 289.5 L130.1 289.9 L130.6 290.2 L131.1 290.3 L131.6 290.3 L132.1 290.3 L132.6 290.3 L133.1 290.3 L133.6 290.3 L134.1 290.3 L134.6 290.3 L135.1 290.3 L135.6 290.3 M285.9 286.1 L286.4 286.0 L286.9 285.9 L287.4 285.8 L287.9 285.6 L288.4 285.4 L288.9 285.1 L289.4 284.8 L289.9 284.5 L290.4 284.0 L290.9 283.5 L291.4 283.0 L291.9 282.3 L292.4 281.6 L292.9 280.8 L293.4 279.9 L293.9 279.0 L294.4 278.1 L294.9 277.2 L295.4 276.3 L295.9 275.4 L296.4 274.6 L296.9 273.9 L297.4 273.4 L297.9 273.0 L298.4 272.8 L298.9 272.7 L299.4 272.8 L299.9 273.1 L300.4 273.6 L300.9 274.2 L301.4 274.9 L301.9 275.7 L302.4 276.6 L302.9 277.5 L303.4 278.4 L303.9 279.4 L304.4 280.2 L304.9 281.0 L305.4 281.8 L305.9 282.5 L306.4 283.1 L306.9 283.6 L307.4 284.0 L307.9 284.4 L308.4 284.7 L308.9 284.9 L309.4 285.1 L309.9 285.2 L310.4 285.3 L310.9 285.4 L311.4 285.5 L311.9 285.5 M336.8 285.9 L337.3 285.9 L337.8 285.9 L338.3 286.0 L338.8 286.0 L339.3 286.0 L339.8 286.0 L340.3 286.0 L340.8 286.0 L341.3 286.0 L341.8 285.9 L342.3 285.9 L342.8 285.8 L343.3 285.7 L343.8 285.6 L344.3 285.4 L344.8 285.3 L345.3 285.1 L345.8 284.9 L346.3 284.7 L346.8 284.5 L347.3 284.2 L347.8 284.0 L348.3 283.8 L348.8 283.5 L349.3 283.3 L349.8 283.1 L350.3 282.9 L350.8 282.7 L351.3 282.6 L351.8 282.5 L352.3 282.5 L352.8 282.5 L353.3 282.5 L353.8 282.6 L354.3 282.7 L354.8 282.9 L355.3 283.1 L355.8 283.3 L356.3 283.6 L356.8 283.8 L357.3 284.1 L357.8 284.4 L358.3 284.6 L358.8 284.9 L359.3 285.1 L359.8 285.3 L360.3 285.4 L360.8 285.6 L361.3 285.6 L361.8 285.7 L362.3 285.7 L362.8 285.6 L363.3 285.4 L363.8 285.2 L364.3 284.9 L364.8 284.6 L365.3 284.1 L365.8 283.6 L366.3 283.0 L366.8 282.3 L367.3 281.5 L367.8 280.6 L368.3 279.7 L368.8 278.6" fill="none" stroke="#78b8bc" stroke-opacity="0.85" stroke-width="0.8"/>
<path d="M49.5 296.3 L50.0 296.3 L50.5 296.3 L51.0 296.2 L51.5 296.2 L52.0 296.2 L52.5 296.2 L53.0 296.2 L53.5 296.1 L54.0 296.1 L54.5 296.1 L55.0 296.0 L55.5 295.9 L56.0 295.7 L56.5 295.4 L57.0 295.0 L57.5 294.6 L58.0 294.1 L58.5 293.6 L59.0 293.1 L59.5 292.5 L60.0 292.0 L60.5 291.5 L61.0 290.9 L61.5 290.3 L62.0 289.7 L62.5 289.0 L63.0 288.3 L63.5 287.6 L64.0 286.8 L64.5 286.0 L65.0 285.1 L65.5 284.2 L66.0 283.2 L66.5 282.0 L67.0 280.7 L67.5 279.3 L68.0 277.8 L68.5 276.3 L69.0 274.9 L69.5 273.4 L70.0 272.0 L70.5 270.5 L71.0 268.9 L71.5 267.1 L72.0 265.4 L72.5 263.7 L73.0 262.2 L73.5 260.9 L74.0 260.0 L74.5 259.5 L75.0 259.6 L75.5 260.4 L76.0 261.7 L76.5 263.3 L77.0 265.0 L77.5 266.6 L78.0 268.0 L78.5 269.3 L79.0 270.7 L79.5 272.2 L80.0 273.5 L80.5 274.4 L81.0 274.9 L81.5 275.0 L82.0 274.8 L82.5 274.5 L83.0 274.2 L83.5 273.7 L84.0 273.2 L84.5 272.6 L85.0 272.0 L85.5 271.4 L86.0 270.6 L86.5 269.6 L87.0 268.3 L87.5 266.7 L88.0 264.2 L88.5 259.2 L89.0 252.4 L89.5 245.0 L90.0 235.7 L90.5 224.1 L91.0 212.3 L91.5 202.5 L92.0 195.4 L92.5 189.3 L93.0 185.0 L93.5 182.0 L94.0 179.2 L94.5 177.0 L95.0 175.5 L95.5 175.0 L96.0 175.7 L96.5 177.4 L97.0 179.0 L97.5 180.6 L98.0 181.6 L98.5 181.3 L99.0 180.8 L99.5 180.2 L100.0 180.0 L100.5 180.9 L101.0 183.1 L101.5 185.7 L102.0 188.0 L102.5 190.0 L103.0 192.1 L103.5 194.0 L104.0 195.5 L104.5 196.0 L105.0 194.4 L105.5 191.6 L106.0 190.0 L106.5 190.2 L107.0 190.6 L107.5 191.3 L108.0 192.2 L108.5 193.3 L109.0 197.4 L109.5 203.2 L110.0 207.8 L110.5 208.7 L111.0 207.1 L111.5 204.1 L112.0 200.0 L112.5 188.1 L113.0 167.6 L113.5 147.3 L114.0 131.9 L114.5 117.1 L115.0 103.3 L115.5 90.7 L116.0 80.0 L116.5 69.7 L117.0 59.8 L117.5 53.3 L118.0 52.8 L118.5 60.8 L119.0 73.2 L119.5 85.0 L120.0 95.4 L120.5 106.3 L121.0 117.0 L121.5 126.6 L122.0 134.1 L122.5 140.5 L123.0 153.1 L123.5 177.2 L124.0 203.8 L124.5 223.0 L125.0 237.0 L125.5 249.4 L126.0 259.7 L126.5 267.4 L127.0 273.0 L127.5 278.1 L128.0 282.4 L128.5 285.6 L129.0 287.6 L129.5 288.3 L130.0 288.7 L130.5 289.0 L131.0 289.3 L131.5 288.9 L132.5 288.6 L133.5 289.3 L134.5 288.4 L135.5 289.1 L136.5 288.8 L137.5 288.3 L138.5 289.0 L139.5 288.2 L140.5 288.8 L141.5 288.2 L142.5 288.3 L143.5 288.7 L144.5 289.3 L145.5 288.2 L146.5 288.4 L147.5 288.9 L148.5 289.4 L149.5 288.8 L150.5 288.5 L151.5 289.4 L152.5 287.9 L153.5 289.1 L154.5 288.3 L155.5 288.0 L156.5 287.9 L157.5 288.2 L158.5 288.9 L159.5 288.0 L160.5 288.5 L161.5 288.6 L162.5 288.2 L163.5 288.4 L164.5 287.7 L165.5 287.6 L166.5 287.8 L167.5 288.5 L168.5 288.1 L169.5 287.9 L170.5 288.3 L171.5 288.1 L172.5 287.8 L173.5 288.5 L174.5 288.4 L175.5 287.7 L176.5 288.1 L177.5 288.0 L178.5 288.5 L179.5 288.3 L180.5 287.6 L181.5 288.6 L182.5 287.3 L183.5 287.7 L184.5 288.2 L185.5 287.3 L186.5 287.8 L187.5 287.1 L188.5 288.0 L189.5 288.1 L190.5 287.8 L191.5 288.2 L192.5 287.4 L193.5 287.9 L194.5 287.7 L195.5 287.7 L196.5 287.5 L197.5 288.0 L198.5 288.2 L199.5 287.4 L200.5 287.7 L201.5 286.8 L202.5 287.7 L203.5 287.6 L204.5 288.1 L205.5 287.9 L206.5 287.0 L207.5 287.2 L208.5 287.6 L209.5 286.6 L210.5 287.2 L211.5 286.8 L212.5 286.7 L213.5 286.6 L214.5 287.6 L215.5 286.7 L216.5 286.8 L217.5 287.0 L218.5 287.7 L219.5 286.5 L220.5 287.1 L221.5 287.2 L222.5 287.7 L223.5 287.6 L224.5 287.6 L225.5 286.7 L226.5 286.9 L227.5 286.8 L228.5 287.6 L229.5 287.7 L230.5 286.5 L231.5 286.5 L232.5 286.6 L233.5 286.6 L234.5 286.9 L235.5 287.1 L236.5 286.6 L237.5 286.2 L238.5 286.8 L239.5 286.7 L240.5 287.0 L241.5 287.5 L242.5 287.1 L243.5 286.8 L244.5 287.0 L245.5 287.1 L246.5 286.1 L247.5 287.4 L248.5 287.2 L249.5 287.3 L250.5 287.2 L251.5 286.5 L252.5 286.5 L253.5 286.1 L254.5 286.9 L255.5 286.0 L256.5 286.0 L257.5 286.2 L258.5 286.1 L259.5 286.4 L260.5 285.9 L261.5 285.8 L262.5 286.0 L263.5 285.9 L264.5 286.3 L265.5 285.8 L266.5 287.1 L267.5 286.6 L268.5 285.9 L269.5 286.1 L270.5 286.2 L271.5 286.2 L272.5 285.8 L273.5 286.9 L274.5 287.1 L275.5 286.3 L276.5 286.3 L277.5 285.7 L278.5 285.7 L279.5 286.1 L280.5 285.9 L281.5 286.7 L282.5 285.7 L283.5 285.5 L284.5 286.8 L285.5 286.1 L286.5 285.5 L287.5 285.9 L288.5 285.0 L289.5 285.5 L290.5 286.0 L291.5 285.6 L292.5 285.0 L293.5 284.1 L294.5 283.9 L295.5 283.4 L296.5 284.1 L297.5 283.6 L298.5 284.0 L299.5 283.4 L300.5 283.4 L301.5 284.5 L302.5 285.0 L303.5 285.0 L304.5 285.2 L305.5 285.5 L306.5 285.5 L307.5 284.9 L308.5 285.4 L309.5 285.2 L310.5 284.7 L311.5 284.7 L312.5 285.1 L313.5 285.0 L314.5 285.6 L315.5 286.0 L316.5 285.2 L317.5 285.9 L318.5 285.9 L319.5 285.9 L320.5 285.0 L321.5 284.7 L322.5 284.7 L323.5 284.7 L324.5 284.7 L325.5 285.3 L326.5 285.8 L327.5 285.7 L328.5 285.2 L329.5 285.5 L330.5 285.8 L331.5 284.8 L332.5 285.7 L333.5 286.1 L334.5 286.0 L335.5 286.0 L336.5 285.7 L337.5 285.3 L338.5 286.3 L339.5 285.7 L340.5 286.5 L341.5 286.8 L342.5 286.1 L343.5 286.1 L344.5 287.0 L345.5 286.8 L346.5 286.0 L347.5 286.0 L348.5 286.1 L349.5 287.3 L350.5 287.2 L351.5 286.2 L352.5 287.3 L353.5 287.6 L354.5 287.1 L355.5 286.7 L356.5 287.0 L357.5 286.4 L358.5 286.2 L359.5 287.5 L360.5 286.9 L361.5 286.5 L362.5 286.8 L363.5 285.6 L364.5 285.5 L365.5 284.4 L366.5 282.2 L367.5 280.7 L368.5 278.8 L369.5 276.6 L370.5 274.8 L371.5 272.0 L372.5 270.1 L373.5 267.7 L374.5 267.4 L375.5 265.5 L376.5 265.2 L377.5 265.4 L378.5 266.3 L379.5 266.4 L380.5 268.0 L381.5 268.2 L382.5 269.1 L383.5 269.7 L384.5 269.5 L385.5 270.6 L386.5 270.8 L387.5 271.1 L388.5 273.1 L389.5 273.2 L390.5 275.0 L391.5 276.8 L392.5 278.2 L393.5 279.5 L394.5 281.4 L395.5 283.0 L396.5 284.7 L397.5 284.8 L398.5 286.4 L399.5 286.6 L400.5 287.2 L401.5 288.4 L402.5 288.3 L403.5 288.6 L404.5 289.0 L405.5 289.3 L406.5 288.7 L407.5 289.0 L408.5 288.9 L409.5 289.0 L410.5 289.3 L411.5 289.0 L412.5 289.1 L413.5 289.1 L414.5 289.8 L415.5 289.5 L416.5 289.8 L417.5 289.9 L418.5 288.9 L419.5 289.4 L420.5 290.0 L421.5 289.9 L422.5 288.8 L423.5 288.8 L424.5 289.3 L425.5 288.7 L426.5 288.9 L427.5 288.7 L428.5 289.5 L429.5 289.7 L430.5 289.8 L431.5 288.6 L432.5 289.3 L433.5 289.2 L434.5 288.3 L435.5 289.3 L436.5 289.4 L437.5 288.2 L438.5 289.2 L439.5 288.4 L440.5 288.5 L441.5 289.3 L442.5 289.2 L443.5 288.2 L444.5 288.7 L445.5 289.0 L446.5 288.8 L447.5 288.7 L448.5 289.0 L449.5 289.7 L450.5 288.7 L451.5 289.6 L452.5 289.5 L453.5 288.9 L454.5 289.4 L455.5 289.9 L456.5 289.7 L457.5 289.1 L458.5 290.5 L459.5 290.2 L460.5 290.5 L461.5 289.2 L462.5 289.4 L463.5 289.1 L464.5 290.2 L465.5 289.5 L466.5 289.3 L467.5 289.7 L468.5 290.5 L469.5 290.3 L470.5 289.5 L471.5 289.3 L472.5 290.5 L473.5 290.0 L474.5 290.2 L475.5 289.3 L476.5 289.3 L477.5 290.2 L478.5 289.8 L479.5 289.3 L480.5 290.6 L481.5 290.2 L482.5 290.4 L483.5 289.4 L484.5 290.5 L485.5 289.4 L486.5 290.6 L487.5 290.0 L488.5 289.8 L489.5 290.1 L490.5 290.7 L491.5 289.7 L492.5 289.5 L493.5 290.1 L494.5 289.7 L495.5 289.5 L496.5 289.6 L497.5 289.5 L498.5 289.7 L499.5 289.9 L500.5 289.9 L501.5 290.6 L502.5 289.9 L503.5 290.2 L504.5 289.7 L505.5 290.0 L506.5 289.5 L507.5 289.9 L508.5 289.5 L509.5 290.6 L510.5 290.3 L511.5 289.8 L512.5 290.2 L513.5 290.9 L514.5 289.7 L515.5 290.8 L516.5 290.2 L517.5 290.3 L518.5 290.7 L519.5 290.0 L520.5 290.1 L521.5 290.3 L522.5 290.6 L523.5 289.5 L524.5 290.1 L525.5 289.7 L526.5 289.4 L527.5 289.0 L528.5 288.8 L529.5 288.3 L530.5 288.4 L531.5 288.4 L532.5 289.5 L533.5 288.9 L534.5 289.0 L535.5 289.1 L536.5 290.4 L537.5 290.6 L538.5 290.4 L539.5 290.0 L540.5 290.0 L541.5 290.1 L542.5 290.4 L543.5 290.0 L544.5 290.5 L545.5 290.2 L546.5 291.3 L547.5 291.3 L548.5 290.7 L549.5 290.2 L550.5 291.3 L551.5 290.4 L552.5 290.4 L553.5 289.9 L554.5 290.5 L555.5 290.6 L556.5 290.7 L557.5 290.2 L558.5 290.7 L559.5 290.0 L560.5 290.4 L561.5 290.1 L562.5 290.6 L563.5 290.0 L564.5 290.0 L565.5 290.4 L566.5 290.3 L567.5 290.9 L568.5 290.8 L569.5 291.1 L570.5 291.0 L571.5 291.1 L572.5 291.4 L573.5 290.6 L574.5 290.5 L575.5 291.5 L576.5 290.3 L577.5 291.2 L578.5 291.1 L579.5 290.2 L580.5 291.4 L581.5 291.4 L582.5 291.1 L583.5 291.2 L584.5 291.4 L585.5 290.4 L586.5 290.9 L587.5 290.9 L588.5 291.4 L589.5 291.4 L590.5 291.4 L591.5 291.1 L592.5 291.5 L593.5 291.2 L594.5 291.2 L595.5 290.6 L596.5 290.3 L597.5 290.4 L598.5 290.8 L599.5 290.4 L600.5 291.5 L601.5 291.1 L602.5 291.2 L603.5 291.2 L604.5 291.3 L605.5 291.0 L606.5 290.3 L607.5 291.5 L608.5 291.4 L609.5 291.1 L610.5 291.1 L611.5 291.3 L612.5 290.4 L613.5 291.5 L614.5 290.7 L615.5 290.5 L616.5 290.8 L617.5 291.5 L618.5 290.7 L619.5 291.5 L620.5 291.9 L621.5 291.2 L622.5 291.0 L623.5 291.1 L624.5 291.5 L625.5 291.6 L626.5 291.4 L627.5 291.4 L628.5 290.6 L629.5 290.7 L630.5 290.9 L631.5 291.6 L632.5 291.0 L633.5 291.4 L634.5 290.5 L635.5 290.6 L636.5 290.9 L637.5 291.5 L638.5 291.6 L639.5 291.6 L640.5 291.0 L641.5 291.3 L642.5 291.3 L643.5 291.3 L644.5 290.8 L645.5 291.9 L646.5 290.9 L647.5 292.1 L648.5 292.0 L649.5 290.6 L650.5 291.3 L651.5 291.9 L652.5 292.1 L653.5 291.3 L654.5 291.1 L655.5 291.0 L656.5 292.1 L657.5 291.0 L658.5 291.6 L659.5 290.9 L660.5 291.5 L661.5 292.1 L662.5 290.9 L663.5 292.0 L664.5 291.5 L665.5 292.1 L666.5 291.8 L667.5 291.1 L668.5 292.1 L669.5 291.5 L670.5 290.8 L671.5 290.8 L672.5 291.5 L673.5 291.5 L674.5 291.3 L675.5 291.0 L676.5 291.3 L677.5 291.3 L678.5 292.1 L679.5 290.8 L680.5 292.0 L681.5 292.1 L682.5 291.0 L683.5 292.3 L684.5 292.0 L685.5 292.2 L686.5 291.3 L687.5 291.5 L688.5 291.5 L689.5 292.4 L690.5 291.8 L691.5 291.5 L692.5 291.6 L693.5 291.4 L694.5 291.0 L695.5 291.1 L696.5 292.2 L697.5 291.4 L698.5 292.4 L699.5 291.4 L700.5 291.4 L701.5 291.8 L702.5 291.3 L703.5 291.6 L704.5 292.5 L705.5 292.4 L706.5 292.3 L707.5 292.0 L708.5 292.4 L709.5 292.5 L710.5 291.9 L711.5 292.2 L712.5 291.2 L713.5 292.2 L714.5 291.8 L715.5 292.2 L716.5 292.1 L717.5 291.6 L718.5 291.2 L719.5 292.5 L720.5 291.3 L721.5 291.9 L722.5 291.7 L723.5 291.6 L724.5 292.3 L725.5 292.7 L726.5 291.6 L727.5 292.2 L728.5 291.7 L729.5 292.1 L730.5 291.8 L731.5 291.5 L732.5 291.5 L733.5 291.6 L734.5 292.6 L735.5 292.0 L736.5 291.6 L737.5 292.6 L738.5 292.8 L739.5 292.0 L740.5 291.5 L741.5 291.6 L742.5 291.5 L743.5 291.8 L744.5 291.5 L745.5 291.7 L746.5 291.7 L747.5 292.2 L748.5 292.7 L749.5 292.5 L750.5 292.0 L751.5 292.0 L752.5 292.2 L753.5 292.0 L754.5 291.9 L755.5 291.5 L756.5 291.8 L757.5 292.9 L758.5 291.6 L759.5 292.2 L760.5 292.3 L761.5 292.7 L762.5 291.7 L763.5 291.6 L764.5 291.5 L765.5 291.5 L766.5 291.3 L767.5 291.6 L768.5 290.8 L769.5 289.9 L770.5 287.4 L771.5 285.8 L772.5 284.6 L773.5 282.1 L774.5 277.9 L775.5 273.7 L776.5 267.6 L777.5 261.9 L778.5 255.4 L779.5 247.1 L780.5 238.1 L781.5 228.6 L782.5 217.5 L783.5 207.1 L784.5 197.2 L785.5 188.5 L786.5 180.5 L787.5 174.0 L788.5 168.7 L789.5 165.6 L790.5 164.8 L791.5 165.8 L792.5 169.4 L793.5 174.1 L794.5 182.2 L795.5 190.0 L796.5 200.3 L797.5 210.0 L798.5 219.7 L799.5 229.6 L800.5 239.3 L801.5 248.7 L802.5 256.8 L803.5 263.1 L804.5 269.1 L805.5 274.9 L806.5 279.2 L807.5 282.3 L808.5 284.8 L809.5 287.4 L810.5 288.2 L811.5 289.7 L812.5 290.8 L813.5 292.0 L814.5 292.1 L815.5 292.7 L816.5 292.4 L817.5 292.2 L818.5 292.3 L819.5 293.3 L820.5 293.0 L821.5 292.5 L822.5 292.2 L823.5 292.8 L824.5 293.0 L825.5 292.7 L826.5 292.5 L827.5 293.1 L828.5 293.4 L829.5 292.5 L830.5 292.3 L831.5 292.7 L832.5 292.8 L833.5 293.1 L834.5 292.5 L835.5 293.2 L836.5 293.1 L837.5 292.8 L838.5 292.4 L839.5 293.2 L840.5 292.3 L841.5 292.7 L842.5 291.8 L843.5 291.5 L844.5 291.7 L845.5 290.7 L846.5 290.9 L847.5 289.7 L848.5 288.5 L849.5 287.7 L850.5 286.9 L851.5 286.1 L852.5 285.3 L853.5 283.3 L854.5 282.4 L855.5 281.1 L856.5 281.0 L857.5 279.2 L858.5 278.4 L859.5 278.0 L860.5 278.1 L861.5 278.7 L862.5 278.9 L863.5 279.2 L864.5 280.2 L865.5 281.0 L866.5 281.4 L867.5 282.3 L868.5 284.3 L869.5 285.3 L870.5 285.6 L871.5 287.4 L872.5 288.1 L873.5 289.0 L874.5 289.8 L875.5 290.3 L876.5 290.7 L877.5 291.5 L878.5 292.0 L879.5 293.0 L880.5 292.3 L881.5 293.4 L882.5 292.8 L883.5 293.0 L884.5 293.6 L885.5 293.7 L886.5 293.3 L887.5 293.0 L888.5 293.4 L889.5 293.3 L890.5 293.9 L891.5 293.2 L892.5 293.4 L893.5 293.9 L894.5 293.1 L895.5 293.5 L896.5 293.9 L897.5 293.8 L898.5 293.1 L899.5 293.1 L900.5 293.2 L901.5 294.0 L902.5 293.4 L903.5 293.9 L904.5 294.0 L905.5 293.5 L906.5 293.5 L907.5 294.1 L908.5 293.8 L909.5 293.5 L910.5 293.9 L911.5 293.6 L912.5 293.5 L913.5 293.3 L914.5 294.0 L915.5 294.1 L916.5 293.9 L917.5 294.2 L918.5 293.4 L919.5 293.6 L920.5 293.8 L921.5 294.2 L922.5 294.2 L923.5 293.7 L924.5 293.6 L925.5 293.8 L926.5 293.9 L927.5 294.3 L928.5 293.6 L929.5 294.2 L930.5 294.1 L931.5 294.2 L932.5 294.2 L933.5 294.0 L934.5 293.8 L935.5 293.8 L936.5 293.9 L937.5 294.2 L938.5 293.7 L939.5 293.8 L940.5 294.2 L941.5 293.8 L942.5 293.7 L943.5 293.7 L944.5 294.1 L945.5 293.9 L946.5 294.5 L947.5 294.4 L948.5 294.5 L949.5 293.9 L950.5 293.8 L951.5 293.8 L952.5 294.1 L953.5 294.3 L954.5 294.1 L955.5 294.0 L956.5 294.1 L957.5 294.3 L958.5 294.3 L959.5 294.4 L960.5 294.5 L961.5 294.4 L962.5 294.0 L963.5 294.5 L964.5 294.1 L965.5 294.3 L966.5 294.2 L967.5 294.5 L968.5 294.1 L969.5 294.1 L970.5 294.2 L971.5 294.1 L972.5 294.6 L973.5 294.4 L974.5 294.3 L975.5 294.3 L976.5 294.7 L977.5 294.4 L978.5 294.2 L979.5 294.6 L980.5 294.5 L981.5 294.8 L982.5 294.2 L983.5 294.5 L984.5 294.7 L985.5 294.7 L986.5 294.8 L987.5 294.2 L988.5 294.4 L989.5 294.3 L990.5 294.3 L991.5 294.9 L992.5 294.6 L993.5 294.8 L994.5 294.5 L995.5 294.8 L996.5 294.6 L997.5 294.5 L998.5 294.8 L999.5 294.9 L1000.5 294.4 L1001.5 294.7 L1002.5 294.7 L1003.5 294.5 L1004.5 294.6 L1005.5 294.5 L1006.5 294.6 L1007.5 294.6 L1008.5 294.8 L1009.5 294.9 L1010.5 294.6 L1011.5 294.5 L1012.5 294.7 L1013.5 294.9 L1014.5 294.7 L1015.5 294.8 L1016.5 294.7 L1017.5 295.0 L1018.5 294.9 L1019.5 294.7 L1020.5 294.7 L1021.5 294.9 L1022.5 295.0 L1023.5 295.0 L1024.5 294.8 L1025.5 294.9 L1026.5 295.1 L1027.5 295.0 L1028.5 295.0 L1029.5 295.0 L1030.5 295.3 L1031.5 295.0 L1032.5 295.1 L1033.5 295.1 L1034.5 295.1 L1035.5 295.3 L1036.5 295.4 L1037.5 295.1 L1038.5 295.1 L1039.5 295.3 L1040.5 295.1 L1041.5 295.1 L1042.5 295.4 L1043.5 295.2 L1044.5 295.4 L1045.5 295.3 L1046.5 295.5 L1047.5 295.3 L1048.5 295.2 L1049.5 295.2 L1050.5 295.4 L1051.5 295.4 L1052.5 295.5 L1053.5 295.3 L1054.5 295.5 L1055.5 295.4 L1056.5 295.5" fill="none" stroke="#7a1f2e" stroke-opacity="0.55" stroke-width="1.2"/>
<line x1="57.5" y1="295.4" x2="1057.0" y2="295.4" stroke="url(#bl0)" stroke-width="1.8"/>
<clipPath id="sp0"><use href="#sp0path"/></clipPath>
<g clip-path="url(#sp0)" opacity="0.4"><rect x="112.8" y="22.9" width="20.8" height="24.3" rx="1.5" fill="none" stroke="#b8e27c" stroke-width="1.7"/><text x="115.2" y="41.2" class="el">O</text><rect x="82.8" y="144.3" width="24.3" height="24.4" rx="1.5" fill="none" stroke="#cc7f96" stroke-width="1.7"/><text x="85.8" y="162.8" class="el">Ag</text><rect x="99.8" y="166.4" width="17.3" height="24.7" rx="1.5" fill="none" stroke="#8fb2b5" stroke-width="1.7"/><text x="102.5" y="185.2" class="el">Ti</text><rect x="368.2" y="236.0" width="19.1" height="24.3" rx="1.5" fill="none" stroke="#e8d46a" stroke-width="1.7"/><text x="370.2" y="254.4" class="el">Pt</text><rect x="382.9" y="244.5" width="18.8" height="25.6" rx="1.5" fill="none" stroke="#e8d46a" stroke-width="1.7"/><text x="384.8" y="264.2" class="el">Pt</text><rect x="524.0" y="261.5" width="24.7" height="25.7" rx="1.5" fill="none" stroke="#cc7f96" stroke-width="1.7"/><text x="526.9" y="281.2" class="el">Ag</text><rect x="784.9" y="134.8" width="17.3" height="24.9" rx="1.5" fill="none" stroke="#8fb2b5" stroke-width="1.7"/><text x="787.5" y="153.8" class="el">Ti</text><rect x="855.9" y="248.8" width="17.3" height="24.3" rx="1.5" fill="none" stroke="#8fb2b5" stroke-width="1.7"/><text x="858.5" y="267.2" class="el">Ti</text></g>
<mask id="nm0" maskUnits="userSpaceOnUse" x="0" y="0" width="1077" height="1000"><rect width="1077" height="1000" fill="#fff"/><use href="#sp0path" fill="#000"/></mask>
<g mask="url(#nm0)"><text x="115.2" y="41.2" class="el">O</text><text x="85.8" y="162.8" class="el">Ag</text><text x="102.5" y="185.2" class="el">Ti</text><text x="370.2" y="254.4" class="el">Pt</text><text x="384.8" y="264.2" class="el">Pt</text><text x="526.9" y="281.2" class="el">Ag</text><text x="787.5" y="153.8" class="el">Ti</text><text x="858.5" y="267.2" class="el">Ti</text></g>
<text x="547.6" y="131.8" class="ti">TAg1</text>
<text x="0" y="0" class="le" style="font-size:50px" transform="translate(940.8 108.9) scale(0.83 1)">a</text></g>
<g><line x1="52.5" y1="335.4" x2="52.5" y2="653.1" stroke="#cfcfcf" stroke-width="1.2"/>
<line x1="50.0" y1="653.1" x2="52.5" y2="653.1" stroke="#bbb" stroke-width="1"/>
<text x="0" y="0" class="yl" transform="translate(50.6 659.0) scale(0.88 1)">0.0K</text>
<line x1="50.0" y1="615.1" x2="52.5" y2="615.1" stroke="#bbb" stroke-width="1"/>
<text x="0" y="0" class="yl" transform="translate(50.6 621.0) scale(0.88 1)">3.6K</text>
<line x1="50.0" y1="577.1" x2="52.5" y2="577.1" stroke="#bbb" stroke-width="1"/>
<text x="0" y="0" class="yl" transform="translate(50.6 583.0) scale(0.88 1)">7.2K</text>
<line x1="50.0" y1="539.1" x2="52.5" y2="539.1" stroke="#bbb" stroke-width="1"/>
<text x="0" y="0" class="yl" transform="translate(50.6 545.0) scale(0.88 1)">10.8K</text>
<line x1="50.0" y1="501.1" x2="52.5" y2="501.1" stroke="#bbb" stroke-width="1"/>
<text x="0" y="0" class="yl" transform="translate(50.6 507.0) scale(0.88 1)">14.4K</text>
<line x1="50.0" y1="463.1" x2="52.5" y2="463.1" stroke="#bbb" stroke-width="1"/>
<text x="0" y="0" class="yl" transform="translate(50.6 469.0) scale(0.88 1)">18.0K</text>
<line x1="50.0" y1="425.1" x2="52.5" y2="425.1" stroke="#bbb" stroke-width="1"/>
<text x="0" y="0" class="yl" transform="translate(50.6 431.0) scale(0.88 1)">21.6K</text>
<line x1="50.0" y1="387.1" x2="52.5" y2="387.1" stroke="#bbb" stroke-width="1"/>
<text x="0" y="0" class="yl" transform="translate(50.6 393.0) scale(0.88 1)">25.2K</text>
<line x1="50.0" y1="349.1" x2="52.5" y2="349.1" stroke="#bbb" stroke-width="1"/>
<text x="0" y="0" class="yl" transform="translate(50.6 355.0) scale(0.88 1)">28.8K</text>
<line x1="93.8" y1="655.3" x2="93.8" y2="656.9" stroke="#aaa" stroke-width="1"/>
<text x="0" y="0" class="xl" transform="translate(93.8 673.0) scale(0.93 1)">0.30</text>
<line x1="195.5" y1="655.3" x2="195.5" y2="656.9" stroke="#aaa" stroke-width="1"/>
<text x="0" y="0" class="xl" transform="translate(195.5 673.0) scale(0.93 1)">0.90</text>
<line x1="297.2" y1="655.3" x2="297.2" y2="656.9" stroke="#aaa" stroke-width="1"/>
<text x="0" y="0" class="xl" transform="translate(297.2 673.0) scale(0.93 1)">1.50</text>
<line x1="399.0" y1="655.3" x2="399.0" y2="656.9" stroke="#aaa" stroke-width="1"/>
<text x="0" y="0" class="xl" transform="translate(399.0 673.0) scale(0.93 1)">2.10</text>
<line x1="500.7" y1="655.3" x2="500.7" y2="656.9" stroke="#aaa" stroke-width="1"/>
<text x="0" y="0" class="xl" transform="translate(500.7 673.0) scale(0.93 1)">2.70</text>
<line x1="602.4" y1="655.3" x2="602.4" y2="656.9" stroke="#aaa" stroke-width="1"/>
<text x="0" y="0" class="xl" transform="translate(602.4 673.0) scale(0.93 1)">3.30</text>
<line x1="704.1" y1="655.3" x2="704.1" y2="656.9" stroke="#aaa" stroke-width="1"/>
<text x="0" y="0" class="xl" transform="translate(704.1 673.0) scale(0.93 1)">3.90</text>
<line x1="805.8" y1="655.3" x2="805.8" y2="656.9" stroke="#aaa" stroke-width="1"/>
<text x="0" y="0" class="xl" transform="translate(805.8 673.0) scale(0.93 1)">4.50</text>
<line x1="907.6" y1="655.3" x2="907.6" y2="656.9" stroke="#aaa" stroke-width="1"/>
<text x="0" y="0" class="xl" transform="translate(907.6 673.0) scale(0.93 1)">5.10</text>
<line x1="1009.3" y1="655.3" x2="1009.3" y2="656.9" stroke="#aaa" stroke-width="1"/>
<text x="0" y="0" class="xl" transform="translate(1009.3 673.0) scale(0.93 1)">5.70</text>
<rect x="127.2" y="417.2" width="21.1" height="24.2" rx="1.5" fill="none" stroke="#b8e27c" stroke-width="1.7"/><text x="129.6" y="435.4" class="el">O</text><rect x="115.1" y="518.1" width="16.0" height="24.5" rx="1.5" fill="none" stroke="#8fb2b5" stroke-width="1.7"/><text x="117.8" y="536.6" class="el">Ti</text><rect x="97.2" y="549.6" width="23.4" height="24.6" rx="1.5" fill="none" stroke="#cc7f96" stroke-width="1.7"/><text x="100.2" y="568.2" class="el">Ag</text><rect x="383.9" y="602.9" width="20.2" height="25.3" rx="1.5" fill="none" stroke="#e8d46a" stroke-width="1.7"/><text x="385.8" y="622.2" class="el">Pt</text><rect x="398.4" y="609.1" width="19.5" height="24.7" rx="1.5" fill="none" stroke="#e8d46a" stroke-width="1.7"/><text x="400.3" y="627.8" class="el">Pt</text><rect x="540.2" y="618.4" width="24.3" height="25.0" rx="1.5" fill="none" stroke="#cc7f96" stroke-width="1.7"/><text x="543.2" y="637.4" class="el">Ag</text><rect x="802.8" y="544.6" width="17.1" height="24.9" rx="1.5" fill="none" stroke="#8fb2b5" stroke-width="1.7"/><text x="805.4" y="563.5" class="el">Ti</text><rect x="874.2" y="612.6" width="17.1" height="24.6" rx="1.5" fill="none" stroke="#8fb2b5" stroke-width="1.7"/><text x="876.9" y="631.2" class="el">Ti</text>
<defs><path id="sp1path" d="M52.5 653.1 L52.5 653.1 L53.0 653.1 L53.5 653.1 L54.0 653.1 L54.5 653.1 L55.0 653.1 L55.5 653.1 L56.0 653.1 L56.5 653.1 L57.0 653.1 L57.5 653.1 L58.0 653.1 L58.5 653.1 L59.0 653.1 L59.5 653.1 L60.0 653.1 L60.5 653.1 L61.0 653.1 L61.5 653.1 L62.0 653.1 L62.5 653.1 L63.0 653.1 L63.5 653.1 L64.0 653.1 L64.5 653.1 L65.0 653.1 L65.5 653.1 L66.0 653.1 L66.5 653.0 L67.0 652.9 L67.5 652.8 L68.0 652.7 L68.5 652.6 L69.0 652.4 L69.5 652.3 L70.0 652.1 L70.5 651.9 L71.0 651.8 L71.5 651.6 L72.0 651.3 L72.5 651.0 L73.0 650.6 L73.5 650.2 L74.0 649.8 L74.5 649.4 L75.0 648.9 L75.5 648.4 L76.0 648.0 L76.5 647.6 L77.0 647.2 L77.5 646.8 L78.0 646.3 L78.5 645.9 L79.0 645.4 L79.5 644.9 L80.0 644.3 L80.5 643.7 L81.0 643.0 L81.5 642.1 L82.0 641.0 L82.5 639.7 L83.0 638.3 L83.5 636.8 L84.0 635.2 L84.5 633.6 L85.0 632.0 L85.5 630.2 L86.0 627.9 L86.5 625.6 L87.0 623.2 L87.5 621.2 L88.0 619.6 L88.5 618.8 L89.0 618.8 L89.5 619.5 L90.0 620.6 L90.5 622.0 L91.0 623.5 L91.5 624.9 L92.0 626.0 L92.5 627.0 L93.0 627.9 L93.5 628.8 L94.0 629.7 L94.5 630.4 L95.0 631.0 L95.5 631.6 L96.0 632.1 L96.5 632.5 L97.0 632.7 L97.5 632.6 L98.0 632.3 L98.5 631.7 L99.0 630.8 L99.5 629.7 L100.0 628.3 L100.5 626.7 L101.0 623.6 L101.5 617.3 L102.0 610.0 L102.5 600.8 L103.0 595.6 L103.5 592.8 L104.0 590.0 L104.5 586.1 L105.0 582.0 L105.5 578.8 L106.0 576.4 L106.5 574.2 L107.0 572.2 L107.5 570.7 L108.0 569.9 L108.5 569.8 L109.0 570.5 L109.5 571.5 L110.0 572.0 L110.5 572.0 L111.0 572.0 L111.5 571.9 L112.0 571.9 L112.5 571.8 L113.0 571.8 L113.5 571.8 L114.0 572.0 L114.5 572.2 L115.0 572.6 L115.5 573.0 L116.0 573.4 L116.5 573.8 L117.0 574.3 L117.5 575.0 L118.0 575.9 L118.5 576.9 L119.0 577.7 L119.5 578.4 L120.0 578.8 L120.5 578.6 L121.0 577.9 L121.5 576.9 L122.0 576.2 L122.5 576.1 L123.0 577.5 L123.5 579.4 L124.0 581.1 L124.5 581.4 L125.0 576.6 L125.5 567.0 L126.0 553.0 L126.5 524.6 L127.0 500.0 L127.5 487.4 L128.0 477.8 L128.5 470.0 L129.0 462.2 L129.5 458.0 L130.0 459.3 L130.5 462.0 L131.0 466.7 L131.5 470.0 L132.0 466.5 L132.5 463.0 L133.0 469.0 L133.5 480.0 L134.0 491.8 L134.5 505.0 L135.0 518.9 L135.5 533.5 L136.0 547.5 L136.5 559.6 L137.0 570.6 L137.5 580.7 L138.0 590.0 L138.5 598.4 L139.0 606.2 L139.5 613.6 L140.0 621.1 L140.5 628.9 L141.0 635.0 L141.5 639.1 L142.0 642.4 L142.5 644.4 L143.0 645.1 L143.5 645.7 L144.0 646.1 L144.5 646.3 L145.0 646.5 L145.5 646.6 L146.0 646.7 L146.5 646.7 L147.0 646.8 L147.5 646.8 L148.0 646.8 L148.5 646.9 L149.0 646.9 L149.5 647.0 L150.0 647.0 L150.5 646.4 L151.5 646.6 L152.5 647.0 L153.5 647.6 L154.5 646.4 L155.5 647.0 L156.5 647.4 L157.5 647.7 L158.5 646.5 L159.5 646.4 L160.5 647.6 L161.5 647.7 L162.5 647.0 L163.5 646.3 L164.5 647.6 L165.5 646.8 L166.5 647.6 L167.5 647.2 L168.5 647.5 L169.5 646.5 L170.5 647.4 L171.5 646.6 L172.5 646.9 L173.5 647.5 L174.5 647.5 L175.5 646.6 L176.5 646.6 L177.5 646.9 L178.5 647.1 L179.5 646.9 L180.5 646.5 L181.5 646.7 L182.5 647.4 L183.5 647.7 L184.5 646.4 L185.5 647.2 L186.5 647.5 L187.5 646.4 L188.5 647.6 L189.5 646.5 L190.5 647.2 L191.5 647.2 L192.5 647.3 L193.5 646.8 L194.5 647.0 L195.5 647.2 L196.5 647.0 L197.5 647.3 L198.5 647.0 L199.5 647.0 L200.5 646.4 L201.5 647.3 L202.5 647.1 L203.5 646.7 L204.5 647.5 L205.5 647.6 L206.5 647.1 L207.5 646.7 L208.5 647.1 L209.5 646.6 L210.5 646.6 L211.5 647.1 L212.5 646.5 L213.5 647.1 L214.5 647.2 L215.5 646.5 L216.5 647.4 L217.5 646.5 L218.5 647.5 L219.5 647.6 L220.5 647.2 L221.5 646.5 L222.5 647.2 L223.5 647.0 L224.5 647.9 L225.5 646.7 L226.5 647.7 L227.5 648.0 L228.5 647.6 L229.5 647.7 L230.5 646.8 L231.5 647.9 L232.5 647.2 L233.5 647.9 L234.5 647.9 L235.5 646.7 L236.5 647.7 L237.5 647.9 L238.5 646.6 L239.5 647.0 L240.5 647.6 L241.5 646.7 L242.5 647.9 L243.5 646.9 L244.5 647.7 L245.5 646.7 L246.5 647.3 L247.5 647.9 L248.5 646.8 L249.5 646.9 L250.5 647.3 L251.5 647.0 L252.5 646.6 L253.5 646.8 L254.5 646.8 L255.5 648.0 L256.5 647.6 L257.5 647.9 L258.5 646.8 L259.5 647.7 L260.5 646.7 L261.5 647.4 L262.5 647.5 L263.5 647.1 L264.5 647.9 L265.5 647.4 L266.5 647.5 L267.5 647.9 L268.5 646.8 L269.5 648.1 L270.5 647.5 L271.5 647.2 L272.5 647.8 L273.5 647.0 L274.5 648.1 L275.5 647.5 L276.5 647.2 L277.5 647.8 L278.5 647.3 L279.5 646.9 L280.5 647.8 L281.5 646.7 L282.5 647.9 L283.5 647.0 L284.5 647.6 L285.5 648.1 L286.5 647.5 L287.5 647.7 L288.5 647.1 L289.5 646.7 L290.5 646.7 L291.5 646.9 L292.5 647.6 L293.5 647.3 L294.5 647.4 L295.5 648.0 L296.5 646.9 L297.5 647.0 L298.5 647.6 L299.5 646.7 L300.5 646.6 L301.5 647.1 L302.5 646.6 L303.5 646.9 L304.5 646.6 L305.5 646.9 L306.5 646.7 L307.5 645.9 L308.5 646.3 L309.5 645.9 L310.5 645.2 L311.5 646.2 L312.5 645.1 L313.5 645.0 L314.5 645.0 L315.5 645.9 L316.5 646.5 L317.5 646.6 L318.5 646.3 L319.5 646.3 L320.5 646.1 L321.5 647.3 L322.5 647.3 L323.5 647.1 L324.5 647.6 L325.5 647.4 L326.5 648.1 L327.5 647.9 L328.5 647.1 L329.5 648.1 L330.5 646.9 L331.5 647.6 L332.5 647.4 L333.5 647.2 L334.5 646.9 L335.5 648.0 L336.5 646.8 L337.5 647.6 L338.5 648.2 L339.5 647.0 L340.5 647.1 L341.5 647.7 L342.5 647.6 L343.5 647.8 L344.5 648.1 L345.5 647.1 L346.5 647.3 L347.5 647.3 L348.5 646.9 L349.5 648.2 L350.5 648.0 L351.5 647.9 L352.5 646.9 L353.5 648.1 L354.5 648.0 L355.5 647.6 L356.5 648.0 L357.5 647.6 L358.5 647.2 L359.5 647.0 L360.5 647.2 L361.5 646.9 L362.5 647.4 L363.5 648.0 L364.5 647.9 L365.5 648.2 L366.5 648.0 L367.5 647.3 L368.5 647.7 L369.5 647.6 L370.5 648.1 L371.5 647.7 L372.5 647.3 L373.5 647.8 L374.5 648.3 L375.5 647.1 L376.5 648.0 L377.5 646.5 L378.5 646.6 L379.5 646.1 L380.5 646.3 L381.5 645.8 L382.5 644.6 L383.5 642.8 L384.5 642.2 L385.5 639.8 L386.5 638.0 L387.5 637.3 L388.5 635.3 L389.5 634.0 L390.5 632.9 L391.5 632.6 L392.5 631.5 L393.5 632.0 L394.5 632.1 L395.5 632.9 L396.5 632.8 L397.5 633.9 L398.5 634.3 L399.5 634.4 L400.5 634.7 L401.5 635.8 L402.5 635.4 L403.5 637.3 L404.5 636.8 L405.5 637.5 L406.5 638.6 L407.5 640.9 L408.5 641.1 L409.5 641.9 L410.5 642.8 L411.5 643.8 L412.5 645.6 L413.5 646.2 L414.5 646.8 L415.5 647.3 L416.5 646.6 L417.5 647.6 L418.5 647.4 L419.5 648.2 L420.5 648.2 L421.5 648.4 L422.5 647.2 L423.5 648.4 L424.5 648.4 L425.5 648.5 L426.5 647.2 L427.5 647.3 L428.5 647.1 L429.5 646.9 L430.5 648.0 L431.5 647.8 L432.5 647.4 L433.5 647.5 L434.5 647.0 L435.5 646.4 L436.5 646.0 L437.5 645.9 L438.5 646.8 L439.5 646.0 L440.5 646.3 L441.5 646.5 L442.5 646.1 L443.5 646.6 L444.5 646.9 L445.5 647.7 L446.5 647.3 L447.5 647.4 L448.5 648.4 L449.5 647.8 L450.5 648.4 L451.5 648.1 L452.5 647.2 L453.5 647.8 L454.5 647.9 L455.5 648.4 L456.5 647.8 L457.5 648.3 L458.5 648.1 L459.5 647.6 L460.5 648.6 L461.5 647.4 L462.5 648.5 L463.5 647.5 L464.5 647.3 L465.5 647.6 L466.5 648.4 L467.5 648.8 L468.5 647.3 L469.5 648.0 L470.5 648.1 L471.5 648.5 L472.5 647.6 L473.5 648.1 L474.5 647.9 L475.5 648.6 L476.5 647.7 L477.5 648.8 L478.5 647.8 L479.5 647.7 L480.5 648.4 L481.5 648.1 L482.5 647.5 L483.5 648.3 L484.5 647.5 L485.5 648.6 L486.5 648.4 L487.5 648.6 L488.5 648.3 L489.5 647.9 L490.5 648.0 L491.5 648.0 L492.5 648.8 L493.5 647.6 L494.5 648.8 L495.5 647.5 L496.5 647.7 L497.5 647.8 L498.5 648.8 L499.5 648.2 L500.5 648.0 L501.5 648.8 L502.5 647.8 L503.5 648.2 L504.5 648.3 L505.5 648.6 L506.5 648.6 L507.5 648.5 L508.5 648.0 L509.5 648.0 L510.5 647.7 L511.5 648.8 L512.5 648.5 L513.5 648.6 L514.5 647.8 L515.5 648.2 L516.5 648.7 L517.5 648.4 L518.5 647.7 L519.5 648.2 L520.5 648.9 L521.5 647.9 L522.5 647.8 L523.5 648.0 L524.5 648.6 L525.5 648.8 L526.5 647.8 L527.5 647.8 L528.5 647.9 L529.5 648.1 L530.5 648.4 L531.5 647.8 L532.5 648.1 L533.5 647.9 L534.5 649.0 L535.5 648.6 L536.5 647.6 L537.5 648.9 L538.5 647.5 L539.5 647.8 L540.5 648.5 L541.5 648.0 L542.5 647.7 L543.5 647.0 L544.5 646.4 L545.5 646.9 L546.5 645.9 L547.5 646.0 L548.5 646.3 L549.5 645.8 L550.5 646.5 L551.5 647.2 L552.5 647.3 L553.5 647.3 L554.5 647.7 L555.5 647.7 L556.5 647.4 L557.5 648.2 L558.5 648.1 L559.5 648.7 L560.5 649.0 L561.5 648.3 L562.5 648.6 L563.5 648.8 L564.5 648.4 L565.5 648.1 L566.5 648.8 L567.5 649.1 L568.5 648.9 L569.5 648.8 L570.5 649.0 L571.5 648.8 L572.5 648.7 L573.5 648.5 L574.5 648.3 L575.5 648.7 L576.5 647.9 L577.5 648.4 L578.5 649.0 L579.5 648.9 L580.5 648.8 L581.5 648.2 L582.5 648.5 L583.5 648.5 L584.5 648.8 L585.5 648.4 L586.5 648.9 L587.5 649.2 L588.5 648.1 L589.5 648.8 L590.5 649.0 L591.5 648.4 L592.5 648.6 L593.5 649.3 L594.5 647.9 L595.5 648.7 L596.5 648.1 L597.5 649.1 L598.5 649.3 L599.5 648.7 L600.5 648.1 L601.5 648.8 L602.5 648.7 L603.5 649.0 L604.5 648.7 L605.5 648.9 L606.5 649.2 L607.5 648.7 L608.5 648.6 L609.5 649.4 L610.5 648.3 L611.5 649.0 L612.5 648.5 L613.5 649.1 L614.5 648.1 L615.5 649.4 L616.5 648.5 L617.5 648.1 L618.5 648.4 L619.5 648.6 L620.5 648.0 L621.5 648.6 L622.5 648.6 L623.5 649.1 L624.5 648.5 L625.5 648.4 L626.5 648.4 L627.5 649.1 L628.5 649.4 L629.5 648.8 L630.5 648.4 L631.5 649.2 L632.5 648.6 L633.5 648.4 L634.5 648.2 L635.5 649.2 L636.5 649.3 L637.5 649.0 L638.5 648.8 L639.5 648.9 L640.5 648.4 L641.5 649.5 L642.5 648.6 L643.5 649.1 L644.5 649.3 L645.5 649.3 L646.5 648.8 L647.5 648.6 L648.5 648.9 L649.5 648.3 L650.5 649.4 L651.5 648.7 L652.5 649.4 L653.5 648.5 L654.5 648.7 L655.5 648.5 L656.5 648.8 L657.5 648.4 L658.5 648.2 L659.5 649.2 L660.5 648.6 L661.5 648.5 L662.5 648.6 L663.5 648.9 L664.5 648.8 L665.5 649.1 L666.5 649.2 L667.5 648.7 L668.5 649.6 L669.5 649.5 L670.5 648.3 L671.5 649.5 L672.5 649.6 L673.5 649.4 L674.5 648.4 L675.5 649.5 L676.5 649.2 L677.5 648.3 L678.5 648.3 L679.5 649.7 L680.5 649.2 L681.5 648.6 L682.5 648.4 L683.5 648.5 L684.5 648.6 L685.5 649.4 L686.5 648.8 L687.5 648.5 L688.5 649.6 L689.5 649.5 L690.5 648.6 L691.5 649.6 L692.5 649.2 L693.5 649.5 L694.5 649.3 L695.5 649.7 L696.5 649.5 L697.5 649.6 L698.5 648.7 L699.5 649.4 L700.5 649.1 L701.5 649.5 L702.5 649.0 L703.5 649.7 L704.5 649.2 L705.5 648.8 L706.5 648.7 L707.5 648.6 L708.5 649.1 L709.5 648.5 L710.5 649.1 L711.5 648.6 L712.5 649.1 L713.5 649.2 L714.5 649.2 L715.5 649.7 L716.5 648.5 L717.5 649.7 L718.5 649.1 L719.5 649.3 L720.5 649.4 L721.5 649.7 L722.5 649.0 L723.5 649.1 L724.5 649.9 L725.5 648.6 L726.5 649.4 L727.5 649.4 L728.5 648.6 L729.5 649.4 L730.5 649.5 L731.5 649.8 L732.5 649.0 L733.5 649.9 L734.5 649.3 L735.5 649.2 L736.5 649.8 L737.5 648.6 L738.5 649.6 L739.5 649.5 L740.5 649.1 L741.5 649.8 L742.5 649.1 L743.5 649.3 L744.5 649.3 L745.5 649.7 L746.5 648.9 L747.5 649.2 L748.5 649.2 L749.5 649.4 L750.5 649.8 L751.5 649.1 L752.5 649.8 L753.5 649.2 L754.5 649.4 L755.5 649.0 L756.5 649.4 L757.5 650.0 L758.5 649.6 L759.5 649.8 L760.5 649.2 L761.5 649.1 L762.5 649.1 L763.5 649.5 L764.5 649.6 L765.5 649.8 L766.5 648.8 L767.5 649.7 L768.5 649.9 L769.5 649.5 L770.5 648.8 L771.5 649.2 L772.5 648.8 L773.5 649.0 L774.5 650.0 L775.5 649.6 L776.5 649.7 L777.5 649.8 L778.5 650.0 L779.5 649.6 L780.5 649.6 L781.5 649.6 L782.5 649.6 L783.5 649.4 L784.5 649.4 L785.5 648.6 L786.5 648.8 L787.5 648.1 L788.5 647.8 L789.5 646.0 L790.5 644.9 L791.5 643.1 L792.5 641.9 L793.5 639.4 L794.5 635.8 L795.5 631.5 L796.5 627.5 L797.5 622.3 L798.5 616.3 L799.5 609.8 L800.5 603.5 L801.5 597.3 L802.5 591.1 L803.5 585.7 L804.5 581.3 L805.5 577.9 L806.5 574.5 L807.5 574.1 L808.5 574.0 L809.5 576.0 L810.5 579.9 L811.5 584.0 L812.5 589.7 L813.5 595.1 L814.5 601.0 L815.5 607.8 L816.5 614.3 L817.5 620.6 L818.5 626.0 L819.5 630.4 L820.5 634.5 L821.5 637.8 L822.5 641.2 L823.5 643.2 L824.5 645.0 L825.5 646.3 L826.5 647.4 L827.5 648.8 L828.5 648.9 L829.5 650.1 L830.5 649.5 L831.5 650.5 L832.5 649.9 L833.5 649.9 L834.5 650.6 L835.5 650.3 L836.5 650.7 L837.5 650.3 L838.5 650.2 L839.5 650.9 L840.5 650.8 L841.5 651.0 L842.5 650.9 L843.5 650.3 L844.5 650.8 L845.5 650.9 L846.5 650.7 L847.5 651.1 L848.5 650.6 L849.5 651.2 L850.5 651.0 L851.5 650.4 L852.5 650.5 L853.5 651.0 L854.5 651.1 L855.5 650.6 L856.5 650.7 L857.5 651.0 L858.5 650.6 L859.5 651.0 L860.5 650.7 L861.5 650.2 L862.5 650.3 L863.5 650.2 L864.5 649.8 L865.5 649.7 L866.5 648.9 L867.5 648.8 L868.5 648.0 L869.5 647.6 L870.5 646.9 L871.5 646.1 L872.5 645.4 L873.5 645.0 L874.5 644.5 L875.5 643.8 L876.5 643.3 L877.5 642.8 L878.5 642.5 L879.5 643.0 L880.5 643.0 L881.5 643.4 L882.5 643.5 L883.5 644.2 L884.5 645.1 L885.5 645.7 L886.5 646.3 L887.5 646.9 L888.5 647.7 L889.5 648.6 L890.5 648.9 L891.5 649.6 L892.5 650.1 L893.5 650.6 L894.5 651.0 L895.5 651.0 L896.5 651.2 L897.5 651.5 L898.5 651.7 L899.5 651.9 L900.5 652.0 L901.5 652.1 L902.5 651.8 L903.5 652.1 L904.5 652.2 L905.5 652.2 L906.5 652.1 L907.5 652.0 L908.5 652.2 L909.5 652.2 L910.5 652.2 L911.5 652.2 L912.5 652.0 L913.5 651.9 L914.5 652.1 L915.5 652.2 L916.5 652.0 L917.5 652.2 L918.5 652.3 L919.5 652.0 L920.5 652.2 L921.5 652.2 L922.5 652.1 L923.5 652.0 L924.5 652.0 L925.5 652.2 L926.5 652.2 L927.5 652.1 L928.5 652.0 L929.5 652.2 L930.5 652.2 L931.5 652.1 L932.5 652.2 L933.5 652.3 L934.5 652.3 L935.5 652.2 L936.5 652.1 L937.5 652.2 L938.5 652.1 L939.5 652.1 L940.5 652.1 L941.5 652.2 L942.5 652.1 L943.5 652.2 L944.5 652.1 L945.5 652.2 L946.5 652.1 L947.5 652.0 L948.5 652.4 L949.5 652.1 L950.5 652.1 L951.5 652.2 L952.5 652.3 L953.5 652.1 L954.5 652.2 L955.5 652.2 L956.5 652.2 L957.5 652.1 L958.5 652.1 L959.5 652.4 L960.5 652.3 L961.5 652.2 L962.5 652.2 L963.5 652.1 L964.5 652.3 L965.5 652.2 L966.5 652.4 L967.5 652.3 L968.5 652.3 L969.5 652.4 L970.5 652.2 L971.5 652.1 L972.5 652.2 L973.5 652.2 L974.5 652.1 L975.5 652.1 L976.5 652.3 L977.5 652.4 L978.5 652.2 L979.5 652.4 L980.5 652.4 L981.5 652.1 L982.5 652.3 L983.5 652.2 L984.5 652.2 L985.5 652.4 L986.5 652.2 L987.5 652.3 L988.5 652.3 L989.5 652.4 L990.5 652.3 L991.5 652.3 L992.5 652.3 L993.5 652.2 L994.5 652.4 L995.5 652.4 L996.5 652.2 L997.5 652.2 L998.5 652.2 L999.5 652.3 L1000.5 652.4 L1001.5 652.4 L1002.5 652.4 L1003.5 652.2 L1004.5 652.4 L1005.5 652.4 L1006.5 652.4 L1007.5 652.5 L1008.5 652.2 L1009.5 652.2 L1010.5 652.4 L1011.5 652.5 L1012.5 652.4 L1013.5 652.3 L1014.5 652.4 L1015.5 652.4 L1016.5 652.3 L1017.5 652.3 L1018.5 652.3 L1019.5 652.3 L1020.5 652.4 L1021.5 652.3 L1022.5 652.3 L1023.5 652.3 L1024.5 652.4 L1025.5 652.3 L1026.5 652.4 L1027.5 652.3 L1028.5 652.3 L1029.5 652.5 L1030.5 652.3 L1031.5 652.5 L1032.5 652.5 L1033.5 652.5 L1034.5 652.3 L1035.5 652.4 L1036.5 652.3 L1037.5 652.5 L1038.5 652.5 L1039.5 652.4 L1040.5 652.4 L1041.5 652.4 L1042.5 652.5 L1043.5 652.4 L1044.5 652.5 L1045.5 652.3 L1046.5 652.4 L1047.5 652.3 L1048.5 652.5 L1049.5 652.5 L1050.5 652.4 L1051.5 652.5 L1052.5 652.4 L1053.5 652.4 L1054.5 652.4 L1055.5 652.4 L1056.5 652.5 L1057.5 652.4 L1058.5 652.4 L1059.5 652.5 L1060.5 652.4 L1061.5 652.6 L1062.5 652.4 L1062.5 653.1 Z"/></defs>
<use href="#sp1path" fill="#fd0000"/>
<linearGradient id="bl1" gradientUnits="userSpaceOnUse" x1="52.5" y1="0" x2="1063.0" y2="0"><stop offset="0" stop-color="#b02a3c" stop-opacity="0.7"/><stop offset="0.800" stop-color="#8a5a78"/><stop offset="1" stop-color="#86a4b8"/></linearGradient>
<line x1="72.5" y1="654.3" x2="1063.0" y2="654.3" stroke="#f6cfd6" stroke-width="2"/>
<path d="M52.5 653.1 L53.0 653.1 L53.5 653.1 L54.0 653.1 L54.5 653.1 L55.0 653.1 L55.5 653.1 L56.0 653.1 L56.5 653.1 L57.0 653.1 L57.5 653.1 L58.0 653.1 L58.5 653.1 L59.0 653.1 L59.5 653.1 L60.0 653.1 L60.5 653.1 L61.0 653.0 L61.5 653.0 L62.0 653.0 L62.5 653.0 L63.0 653.0 L63.5 653.0 L64.0 653.0 L64.5 653.0 L65.0 653.0 L65.5 653.0 L66.0 653.0 L66.5 652.9 L67.0 652.9 L67.5 652.8 L68.0 652.7 L68.5 652.7 L69.0 652.6 L69.5 652.5 L70.0 652.4 L70.5 652.3 L71.0 652.2 L71.5 652.1 L72.0 652.0 L72.5 651.9 L73.0 651.7 L73.5 651.6 L74.0 651.4 L74.5 651.2 L75.0 651.0 L75.5 650.8 L76.0 650.5 L76.5 650.3 L77.0 650.0 L77.5 649.8 L78.0 649.5 L78.5 649.3 L79.0 649.0 L79.5 648.7 L80.0 648.5 L80.5 648.3 L81.0 648.0 L81.5 647.7 L82.0 647.4 L82.5 647.1 L83.0 646.8 L83.5 646.5 L84.0 646.2 L84.5 645.9 L85.0 645.6 L85.5 645.3 L86.0 645.0 L86.5 644.7 L87.0 644.5 L87.5 644.2 L88.0 643.9 L88.5 643.7 L89.0 643.4 L89.5 643.2 L90.0 643.0 L90.5 642.8 L91.0 642.6 L91.5 642.4 L92.0 642.3 L92.5 642.1 L93.0 641.9 L93.5 641.7 L94.0 641.6 L94.5 641.4 L95.0 641.3 L95.5 641.1 L96.0 641.0 L96.5 640.8 L97.0 640.7 L97.5 640.6 L98.0 640.4 L98.5 640.3 L99.0 640.2 L99.5 640.1 L100.0 640.0 L100.5 639.9 L101.0 639.8 L101.5 639.7 L102.0 639.6 L102.5 639.5 L103.0 639.4 L103.5 639.3 L104.0 639.2 L104.5 639.1 L105.0 639.0 L105.5 638.9 L106.0 638.8 L106.5 638.8 L107.0 638.7 L107.5 638.6 L108.0 638.6 L108.5 638.6 L109.0 638.5 L109.5 638.5 L110.0 638.5 L110.5 638.5 L111.0 638.5 L111.5 638.5 L112.0 638.5 L112.5 638.6 L113.0 638.6 L113.5 638.6 L114.0 638.6 L114.5 638.7 L115.0 638.7 L115.5 638.8 L116.0 638.8 L116.5 638.9 L117.0 638.9 L117.5 639.0 L118.0 639.0 L118.5 639.1 L119.0 639.1 L119.5 639.2 L120.0 639.3 L120.5 639.3 L121.0 639.4 L121.5 639.5 L122.0 639.5 L122.5 639.6 L123.0 639.7 L123.5 639.8 L124.0 639.8 L124.5 639.9 L125.0 640.0 L125.5 640.1 L126.0 640.2 L126.5 640.3 L127.0 640.4 L127.5 640.6 L128.0 640.7 L128.5 640.9 L129.0 641.0 L129.5 641.2 L130.0 641.4 L130.5 641.6 L131.0 641.8 L131.5 642.0 L132.0 642.2 L132.5 642.4 L133.0 642.6 L133.5 642.9 L134.0 643.1 L134.5 643.3 L135.0 643.5 L135.5 643.7 L136.0 644.0 L136.5 644.2 L137.0 644.4 L137.5 644.6 L138.0 644.8 L138.5 645.0 L139.0 645.2 L139.5 645.3 L140.0 645.5 L140.5 645.7 L141.0 645.8 L141.5 646.0 L142.0 646.2 L142.5 646.4 L143.0 646.6 L143.5 646.8 L144.0 647.0 L144.5 647.2 L145.0 647.4 L145.5 647.6 L146.0 647.7 L146.5 647.9 L147.0 648.0 L147.5 648.2 L148.0 648.3 L148.5 648.4 L149.0 648.4 L149.5 648.5 L150.0 648.5 L150.5 648.5 L151.5 648.5 L152.5 648.5 L153.5 648.5 L154.5 648.5 L155.5 648.5 L156.5 648.6 L157.5 648.6 L158.5 648.6 L159.5 648.6 L160.5 648.6 L161.5 648.6 L162.5 648.6 L163.5 648.6 L164.5 648.6 L165.5 648.6 L166.5 648.6 L167.5 648.6 L168.5 648.6 L169.5 648.7 L170.5 648.7 L171.5 648.7 L172.5 648.7 L173.5 648.7 L174.5 648.7 L175.5 648.7 L176.5 648.7 L177.5 648.7 L178.5 648.7 L179.5 648.7 L180.5 648.7 L181.5 648.7 L182.5 648.7 L183.5 648.7 L184.5 648.7 L185.5 648.7 L186.5 648.7 L187.5 648.8 L188.5 648.8 L189.5 648.8 L190.5 648.8 L191.5 648.8 L192.5 648.8 L193.5 648.8 L194.5 648.8 L195.5 648.8 L196.5 648.8 L197.5 648.8 L198.5 648.8 L199.5 648.8 L200.5 648.8 L201.5 648.8 L202.5 648.8 L203.5 648.8 L204.5 648.8 L205.5 648.8 L206.5 648.8 L207.5 648.8 L208.5 648.8 L209.5 648.8 L210.5 648.8 L211.5 648.8 L212.5 648.8 L213.5 648.8 L214.5 648.8 L215.5 648.8 L216.5 648.8 L217.5 648.8 L218.5 648.9 L219.5 648.9 L220.5 648.9 L221.5 648.9 L222.5 648.9 L223.5 648.9 L224.5 648.9 L225.5 648.9 L226.5 648.9 L227.5 648.9 L228.5 648.9 L229.5 648.9 L230.5 648.9 L231.5 648.9 L232.5 648.9 L233.5 648.9 L234.5 648.9 L235.5 648.9 L236.5 648.9 L237.5 648.9 L238.5 648.9 L239.5 648.9 L240.5 648.9 L241.5 648.9 L242.5 648.9 L243.5 648.9 L244.5 648.9 L245.5 648.9 L246.5 648.9 L247.5 648.9 L248.5 648.9 L249.5 648.9 L250.5 648.9 L251.5 648.9 L252.5 648.9 L253.5 648.9 L254.5 648.9 L255.5 648.9 L256.5 648.9 L257.5 648.9 L258.5 648.9 L259.5 648.9 L260.5 648.9 L261.5 648.9 L262.5 648.9 L263.5 648.9 L264.5 648.9 L265.5 648.9 L266.5 648.9 L267.5 648.9 L268.5 648.9 L269.5 648.9 L270.5 648.9 L271.5 648.9 L272.5 648.9 L273.5 648.9 L274.5 648.9 L275.5 648.9 L276.5 648.9 L277.5 648.9 L278.5 648.9 L279.5 648.9 L280.5 649.0 L281.5 649.0 L282.5 649.0 L283.5 649.0 L284.5 649.0 L285.5 649.0 L286.5 649.0 L287.5 649.0 L288.5 649.0 L289.5 649.0 L290.5 649.0 L291.5 649.0 L292.5 649.0 L293.5 649.0 L294.5 649.0 L295.5 649.0 L296.5 649.0 L297.5 649.0 L298.5 649.0 L299.5 649.0 L300.5 649.0 L301.5 649.0 L302.5 649.0 L303.5 649.0 L304.5 649.0 L305.5 649.0 L306.5 649.0 L307.5 649.0 L308.5 649.0 L309.5 649.0 L310.5 649.0 L311.5 649.0 L312.5 649.0 L313.5 649.0 L314.5 649.0 L315.5 649.0 L316.5 649.1 L317.5 649.1 L318.5 649.1 L319.5 649.1 L320.5 649.1 L321.5 649.1 L322.5 649.1 L323.5 649.1 L324.5 649.1 L325.5 649.1 L326.5 649.1 L327.5 649.1 L328.5 649.1 L329.5 649.1 L330.5 649.1 L331.5 649.1 L332.5 649.1 L333.5 649.1 L334.5 649.1 L335.5 649.1 L336.5 649.1 L337.5 649.1 L338.5 649.1 L339.5 649.1 L340.5 649.1 L341.5 649.1 L342.5 649.1 L343.5 649.1 L344.5 649.1 L345.5 649.1 L346.5 649.1 L347.5 649.2 L348.5 649.2 L349.5 649.2 L350.5 649.2 L351.5 649.2 L352.5 649.2 L353.5 649.2 L354.5 649.2 L355.5 649.2 L356.5 649.2 L357.5 649.2 L358.5 649.2 L359.5 649.2 L360.5 649.2 L361.5 649.2 L362.5 649.2 L363.5 649.2 L364.5 649.2 L365.5 649.2 L366.5 649.2 L367.5 649.2 L368.5 649.2 L369.5 649.2 L370.5 649.2 L371.5 649.2 L372.5 649.2 L373.5 649.2 L374.5 649.2 L375.5 649.2 L376.5 649.2 L377.5 649.2 L378.5 649.2 L379.5 649.2 L380.5 649.2 L381.5 649.3 L382.5 649.3 L383.5 649.3 L384.5 649.3 L385.5 649.3 L386.5 649.3 L387.5 649.3 L388.5 649.3 L389.5 649.3 L390.5 649.3 L391.5 649.3 L392.5 649.3 L393.5 649.3 L394.5 649.3 L395.5 649.3 L396.5 649.3 L397.5 649.3 L398.5 649.3 L399.5 649.3 L400.5 649.3 L401.5 649.3 L402.5 649.3 L403.5 649.3 L404.5 649.3 L405.5 649.3 L406.5 649.3 L407.5 649.3 L408.5 649.3 L409.5 649.3 L410.5 649.3 L411.5 649.3 L412.5 649.3 L413.5 649.3 L414.5 649.3 L415.5 649.3 L416.5 649.3 L417.5 649.3 L418.5 649.3 L419.5 649.3 L420.5 649.3 L421.5 649.3 L422.5 649.4 L423.5 649.4 L424.5 649.4 L425.5 649.4 L426.5 649.4 L427.5 649.4 L428.5 649.4 L429.5 649.4 L430.5 649.4 L431.5 649.4 L432.5 649.4 L433.5 649.4 L434.5 649.4 L435.5 649.4 L436.5 649.4 L437.5 649.4 L438.5 649.4 L439.5 649.4 L440.5 649.4 L441.5 649.4 L442.5 649.4 L443.5 649.4 L444.5 649.4 L445.5 649.4 L446.5 649.4 L447.5 649.4 L448.5 649.4 L449.5 649.4 L450.5 649.4 L451.5 649.4 L452.5 649.4 L453.5 649.4 L454.5 649.4 L455.5 649.4 L456.5 649.4 L457.5 649.4 L458.5 649.4 L459.5 649.4 L460.5 649.4 L461.5 649.4 L462.5 649.4 L463.5 649.4 L464.5 649.4 L465.5 649.4 L466.5 649.4 L467.5 649.4 L468.5 649.4 L469.5 649.4 L470.5 649.4 L471.5 649.4 L472.5 649.4 L473.5 649.4 L474.5 649.5 L475.5 649.5 L476.5 649.5 L477.5 649.5 L478.5 649.5 L479.5 649.5 L480.5 649.5 L481.5 649.5 L482.5 649.5 L483.5 649.5 L484.5 649.5 L485.5 649.5 L486.5 649.5 L487.5 649.5 L488.5 649.5 L489.5 649.5 L490.5 649.5 L491.5 649.5 L492.5 649.5 L493.5 649.5 L494.5 649.5 L495.5 649.5 L496.5 649.5 L497.5 649.5 L498.5 649.5 L499.5 649.5 L500.5 649.5 L501.5 649.5 L502.5 649.5 L503.5 649.5 L504.5 649.5 L505.5 649.5 L506.5 649.5 L507.5 649.5 L508.5 649.5 L509.5 649.5 L510.5 649.5 L511.5 649.5 L512.5 649.5 L513.5 649.5 L514.5 649.5 L515.5 649.5 L516.5 649.5 L517.5 649.5 L518.5 649.5 L519.5 649.5 L520.5 649.5 L521.5 649.5 L522.5 649.5 L523.5 649.5 L524.5 649.5 L525.5 649.5 L526.5 649.5 L527.5 649.5 L528.5 649.5 L529.5 649.5 L530.5 649.5 L531.5 649.6 L532.5 649.6 L533.5 649.6 L534.5 649.6 L535.5 649.6 L536.5 649.6 L537.5 649.6 L538.5 649.6 L539.5 649.6 L540.5 649.6 L541.5 649.6 L542.5 649.6 L543.5 649.6 L544.5 649.6 L545.5 649.6 L546.5 649.6 L547.5 649.6 L548.5 649.6 L549.5 649.6 L550.5 649.6 L551.5 649.6 L552.5 649.6 L553.5 649.6 L554.5 649.6 L555.5 649.6 L556.5 649.6 L557.5 649.6 L558.5 649.6 L559.5 649.6 L560.5 649.6 L561.5 649.6 L562.5 649.6 L563.5 649.6 L564.5 649.6 L565.5 649.6 L566.5 649.6 L567.5 649.6 L568.5 649.6 L569.5 649.6 L570.5 649.6 L571.5 649.6 L572.5 649.6 L573.5 649.6 L574.5 649.6 L575.5 649.6 L576.5 649.6 L577.5 649.6 L578.5 649.6 L579.5 649.6 L580.5 649.7 L581.5 649.7 L582.5 649.7 L583.5 649.7 L584.5 649.7 L585.5 649.7 L586.5 649.7 L587.5 649.7 L588.5 649.7 L589.5 649.7 L590.5 649.7 L591.5 649.7 L592.5 649.7 L593.5 649.7 L594.5 649.7 L595.5 649.7 L596.5 649.7 L597.5 649.7 L598.5 649.7 L599.5 649.7 L600.5 649.7 L601.5 649.7 L602.5 649.7 L603.5 649.7 L604.5 649.7 L605.5 649.7 L606.5 649.7 L607.5 649.7 L608.5 649.7 L609.5 649.7 L610.5 649.7 L611.5 649.7 L612.5 649.7 L613.5 649.7 L614.5 649.7 L615.5 649.7 L616.5 649.7 L617.5 649.8 L618.5 649.8 L619.5 649.8 L620.5 649.8 L621.5 649.8 L622.5 649.8 L623.5 649.8 L624.5 649.8 L625.5 649.8 L626.5 649.8 L627.5 649.8 L628.5 649.8 L629.5 649.8 L630.5 649.8 L631.5 649.8 L632.5 649.8 L633.5 649.8 L634.5 649.8 L635.5 649.8 L636.5 649.8 L637.5 649.8 L638.5 649.8 L639.5 649.8 L640.5 649.8 L641.5 649.8 L642.5 649.8 L643.5 649.8 L644.5 649.8 L645.5 649.8 L646.5 649.8 L647.5 649.8 L648.5 649.9 L649.5 649.9 L650.5 649.9 L651.5 649.9 L652.5 649.9 L653.5 649.9 L654.5 649.9 L655.5 649.9 L656.5 649.9 L657.5 649.9 L658.5 649.9 L659.5 649.9 L660.5 649.9 L661.5 649.9 L662.5 649.9 L663.5 649.9 L664.5 649.9 L665.5 649.9 L666.5 649.9 L667.5 649.9 L668.5 649.9 L669.5 649.9 L670.5 649.9 L671.5 649.9 L672.5 649.9 L673.5 649.9 L674.5 650.0 L675.5 650.0 L676.5 650.0 L677.5 650.0 L678.5 650.0 L679.5 650.0 L680.5 650.0 L681.5 650.0 L682.5 650.0 L683.5 650.0 L684.5 650.0 L685.5 650.0 L686.5 650.0 L687.5 650.0 L688.5 650.0 L689.5 650.0 L690.5 650.0 L691.5 650.0 L692.5 650.0 L693.5 650.0 L694.5 650.0 L695.5 650.0 L696.5 650.0 L697.5 650.0 L698.5 650.1 L699.5 650.1 L700.5 650.1 L701.5 650.1 L702.5 650.1 L703.5 650.1 L704.5 650.1 L705.5 650.1 L706.5 650.1 L707.5 650.1 L708.5 650.1 L709.5 650.1 L710.5 650.1 L711.5 650.1 L712.5 650.1 L713.5 650.1 L714.5 650.1 L715.5 650.1 L716.5 650.1 L717.5 650.1 L718.5 650.1 L719.5 650.1 L720.5 650.1 L721.5 650.1 L722.5 650.2 L723.5 650.2 L724.5 650.2 L725.5 650.2 L726.5 650.2 L727.5 650.2 L728.5 650.2 L729.5 650.2 L730.5 650.2 L731.5 650.2 L732.5 650.2 L733.5 650.2 L734.5 650.2 L735.5 650.2 L736.5 650.2 L737.5 650.2 L738.5 650.2 L739.5 650.2 L740.5 650.2 L741.5 650.2 L742.5 650.2 L743.5 650.2 L744.5 650.3 L745.5 650.3 L746.5 650.3 L747.5 650.3 L748.5 650.3 L749.5 650.3 L750.5 650.3 L751.5 650.3 L752.5 650.3 L753.5 650.3 L754.5 650.3 L755.5 650.3 L756.5 650.3 L757.5 650.3 L758.5 650.3 L759.5 650.3 L760.5 650.3 L761.5 650.3 L762.5 650.3 L763.5 650.3 L764.5 650.3 L765.5 650.3 L766.5 650.4 L767.5 650.4 L768.5 650.4 L769.5 650.4 L770.5 650.4 L771.5 650.4 L772.5 650.4 L773.5 650.4 L774.5 650.4 L775.5 650.4 L776.5 650.4 L777.5 650.4 L778.5 650.4 L779.5 650.4 L780.5 650.4 L781.5 650.4 L782.5 650.4 L783.5 650.4 L784.5 650.4 L785.5 650.4 L786.5 650.4 L787.5 650.4 L788.5 650.4 L789.5 650.5 L790.5 650.5 L791.5 650.5 L792.5 650.5 L793.5 650.5 L794.5 650.5 L795.5 650.5 L796.5 650.5 L797.5 650.5 L798.5 650.5 L799.5 650.5 L800.5 650.5 L801.5 650.5 L802.5 650.5 L803.5 650.5 L804.5 650.5 L805.5 650.5 L806.5 650.5 L807.5 650.5 L808.5 650.5 L809.5 650.5 L810.5 650.5 L811.5 650.6 L812.5 650.6 L813.5 650.6 L814.5 650.6 L815.5 650.6 L816.5 650.6 L817.5 650.6 L818.5 650.6 L819.5 650.6 L820.5 650.6 L821.5 650.6 L822.5 650.6 L823.5 650.6 L824.5 650.6 L825.5 650.6 L826.5 650.6 L827.5 650.6 L828.5 650.6 L829.5 650.6 L830.5 650.6 L831.5 650.6 L832.5 650.6 L833.5 650.7 L834.5 650.7 L835.5 650.7 L836.5 650.7 L837.5 650.7 L838.5 650.7 L839.5 650.7 L840.5 650.7 L841.5 650.7 L842.5 650.7 L843.5 650.7 L844.5 650.7 L845.5 650.7 L846.5 650.7 L847.5 650.7 L848.5 650.7 L849.5 650.7 L850.5 650.7 L851.5 650.7 L852.5 650.7 L853.5 650.7 L854.5 650.8 L855.5 650.8 L856.5 650.8 L857.5 650.8 L858.5 650.8 L859.5 650.8 L860.5 650.8 L861.5 650.8 L862.5 650.8 L863.5 650.8 L864.5 650.8 L865.5 650.8 L866.5 650.8 L867.5 650.8 L868.5 650.8 L869.5 650.8 L870.5 650.8 L871.5 650.8 L872.5 650.8 L873.5 650.8 L874.5 650.8 L875.5 650.9 L876.5 650.9 L877.5 650.9 L878.5 650.9 L879.5 650.9 L880.5 650.9 L881.5 650.9 L882.5 650.9 L883.5 650.9 L884.5 650.9 L885.5 650.9 L886.5 650.9 L887.5 650.9 L888.5 650.9 L889.5 650.9 L890.5 650.9 L891.5 650.9 L892.5 650.9 L893.5 650.9 L894.5 650.9 L895.5 651.0 L896.5 651.0 L897.5 651.0 L898.5 651.0 L899.5 651.0 L900.5 651.0 L901.5 651.0 L902.5 651.0 L903.5 651.0 L904.5 651.0 L905.5 651.0 L906.5 651.0 L907.5 651.0 L908.5 651.0 L909.5 651.0 L910.5 651.0 L911.5 651.0 L912.5 651.0 L913.5 651.0 L914.5 651.0 L915.5 651.1 L916.5 651.1 L917.5 651.1 L918.5 651.1 L919.5 651.1 L920.5 651.1 L921.5 651.1 L922.5 651.1 L923.5 651.1 L924.5 651.1 L925.5 651.1 L926.5 651.1 L927.5 651.1 L928.5 651.1 L929.5 651.1 L930.5 651.1 L931.5 651.1 L932.5 651.1 L933.5 651.1 L934.5 651.1 L935.5 651.2 L936.5 651.2 L937.5 651.2 L938.5 651.2 L939.5 651.2 L940.5 651.2 L941.5 651.2 L942.5 651.2 L943.5 651.2 L944.5 651.2 L945.5 651.2 L946.5 651.2 L947.5 651.2 L948.5 651.2 L949.5 651.2 L950.5 651.2 L951.5 651.2 L952.5 651.2 L953.5 651.2 L954.5 651.2 L955.5 651.3 L956.5 651.3 L957.5 651.3 L958.5 651.3 L959.5 651.3 L960.5 651.3 L961.5 651.3 L962.5 651.3 L963.5 651.3 L964.5 651.3 L965.5 651.3 L966.5 651.3 L967.5 651.3 L968.5 651.3 L969.5 651.3 L970.5 651.3 L971.5 651.3 L972.5 651.3 L973.5 651.3 L974.5 651.4 L975.5 651.4 L976.5 651.4 L977.5 651.4 L978.5 651.4 L979.5 651.4 L980.5 651.4 L981.5 651.4 L982.5 651.4 L983.5 651.4 L984.5 651.4 L985.5 651.4 L986.5 651.4 L987.5 651.4 L988.5 651.4 L989.5 651.4 L990.5 651.4 L991.5 651.4 L992.5 651.4 L993.5 651.4 L994.5 651.5 L995.5 651.5 L996.5 651.5 L997.5 651.5 L998.5 651.5 L999.5 651.5 L1000.5 651.5 L1001.5 651.5 L1002.5 651.5 L1003.5 651.5 L1004.5 651.5 L1005.5 651.5 L1006.5 651.5 L1007.5 651.5 L1008.5 651.5 L1009.5 651.5 L1010.5 651.5 L1011.5 651.5 L1012.5 651.5 L1013.5 651.6 L1014.5 651.6 L1015.5 651.6 L1016.5 651.6 L1017.5 651.6 L1018.5 651.6 L1019.5 651.6 L1020.5 651.6 L1021.5 651.6 L1022.5 651.6 L1023.5 651.6 L1024.5 651.6 L1025.5 651.6 L1026.5 651.6 L1027.5 651.6 L1028.5 651.6 L1029.5 651.6 L1030.5 651.6 L1031.5 651.6 L1032.5 651.6 L1033.5 651.7 L1034.5 651.7 L1035.5 651.7 L1036.5 651.7 L1037.5 651.7 L1038.5 651.7 L1039.5 651.7 L1040.5 651.7 L1041.5 651.7 L1042.5 651.7 L1043.5 651.7 L1044.5 651.7 L1045.5 651.7 L1046.5 651.7 L1047.5 651.7 L1048.5 651.7 L1049.5 651.7 L1050.5 651.7 L1051.5 651.7 L1052.5 651.7 L1053.5 651.8 L1054.5 651.8 L1055.5 651.8 L1056.5 651.8 L1057.5 651.8 L1058.5 651.8 L1059.5 651.8 L1060.5 651.8 L1061.5 651.8 L1062.5 651.8" fill="none" stroke="#7a2890" stroke-opacity="0.65" stroke-width="2"/>
<path d="M72.0 652.5 L72.5 652.2 L73.0 651.9 L73.5 651.6 L74.0 651.4 L74.5 651.1 L75.0 650.8 L75.5 650.5 L76.0 650.2 L76.5 649.9 L77.0 649.7 L77.5 649.4 L78.0 649.1 L78.5 648.8 L79.0 648.5 L79.5 648.3 L80.0 648.0 L80.5 647.7 L81.0 647.5 L81.5 647.2 L82.0 646.9 L82.5 646.7 L83.0 646.4 L83.5 646.1 L84.0 645.9 L84.5 645.6 L85.0 645.4 L85.5 645.1 L86.0 644.9 L86.5 644.6 L87.0 644.4 L87.5 644.1 L88.0 643.9 L88.5 643.7 L89.0 643.4 L89.5 643.2 L90.0 643.0 L90.5 642.8 L91.0 642.6 L91.5 642.5 L92.0 642.3 L92.5 642.2 L93.0 642.1 L93.5 641.9 L94.0 641.8 L94.5 641.7 L95.0 641.5 L95.5 641.3 L96.0 641.1 L96.5 640.9 L97.0 640.7 L97.5 640.3 L98.0 640.0 L98.5 639.5 L99.0 638.7 L99.5 637.6 L100.0 636.2 L100.5 634.3 L101.0 632.0 L101.5 625.6 L102.0 614.8 L102.5 605.0 L103.0 597.9 L103.5 591.4 L104.0 585.0" fill="none" stroke="#ffd8d8" stroke-width="1.2"/>
<path d="M107.0 575.0 L107.5 568.0 L108.0 561.0 L108.5 555.0 L109.0 549.4 L109.5 543.9 L110.0 539.7 L110.5 538.0 L111.0 541.0 L111.5 547.9 L112.0 555.0 L112.5 561.4 L113.0 568.2 L113.5 575.0 M128.0 470.0 L128.5 461.1 L129.0 452.3 L129.5 445.0 L130.0 438.8 L130.5 435.5 L131.0 440.9 L131.5 450.0 L132.0 457.5 L132.5 465.0 M299.2 647.5 L299.7 647.5 L300.2 647.4 L300.7 647.4 L301.2 647.3 L301.7 647.3 L302.2 647.2 L302.7 647.0 L303.2 646.9 L303.7 646.7 L304.2 646.5 L304.7 646.3 L305.2 646.0 L305.7 645.7 L306.2 645.3 L306.7 645.0 L307.2 644.5 L307.7 644.1 L308.2 643.7 L308.7 643.2 L309.2 642.8 L309.7 642.3 L310.2 641.9 L310.7 641.5 L311.2 641.2 L311.7 641.0 L312.2 640.8 L312.7 640.7 L313.2 640.6 L313.7 640.7 L314.2 640.8 L314.7 641.0 L315.2 641.3 L315.7 641.6 L316.2 642.0 L316.7 642.4 L317.2 642.9 L317.7 643.3 L318.2 643.8 L318.7 644.2 L319.2 644.7 L319.7 645.1 L320.2 645.5 L320.7 645.8 L321.2 646.1 L321.7 646.4 L322.2 646.6 L322.7 646.8 L323.2 647.0 L323.7 647.1 L324.2 647.3 L324.7 647.4 L325.2 647.4 L325.7 647.5 L326.2 647.5 L326.7 647.6 L327.2 647.6" fill="none" stroke="#a8f0f4" stroke-opacity="0.75" stroke-width="2"/><path d="M107.0 575.0 L107.5 568.0 L108.0 561.0 L108.5 555.0 L109.0 549.4 L109.5 543.9 L110.0 539.7 L110.5 538.0 L111.0 541.0 L111.5 547.9 L112.0 555.0 L112.5 561.4 L113.0 568.2 L113.5 575.0 M128.0 470.0 L128.5 461.1 L129.0 452.3 L129.5 445.0 L130.0 438.8 L130.5 435.5 L131.0 440.9 L131.5 450.0 L132.0 457.5 L132.5 465.0 M299.2 647.5 L299.7 647.5 L300.2 647.4 L300.7 647.4 L301.2 647.3 L301.7 647.3 L302.2 647.2 L302.7 647.0 L303.2 646.9 L303.7 646.7 L304.2 646.5 L304.7 646.3 L305.2 646.0 L305.7 645.7 L306.2 645.3 L306.7 645.0 L307.2 644.5 L307.7 644.1 L308.2 643.7 L308.7 643.2 L309.2 642.8 L309.7 642.3 L310.2 641.9 L310.7 641.5 L311.2 641.2 L311.7 641.0 L312.2 640.8 L312.7 640.7 L313.2 640.6 L313.7 640.7 L314.2 640.8 L314.7 641.0 L315.2 641.3 L315.7 641.6 L316.2 642.0 L316.7 642.4 L317.2 642.9 L317.7 643.3 L318.2 643.8 L318.7 644.2 L319.2 644.7 L319.7 645.1 L320.2 645.5 L320.7 645.8 L321.2 646.1 L321.7 646.4 L322.2 646.6 L322.7 646.8 L323.2 647.0 L323.7 647.1 L324.2 647.3 L324.7 647.4 L325.2 647.4 L325.7 647.5 L326.2 647.5 L326.7 647.6 L327.2 647.6" fill="none" stroke="#78b8bc" stroke-opacity="0.85" stroke-width="0.8"/>
<path d="M52.5 653.1 L53.0 653.1 L53.5 653.1 L54.0 653.1 L54.5 653.1 L55.0 653.1 L55.5 653.1 L56.0 653.1 L56.5 653.1 L57.0 653.1 L57.5 653.1 L58.0 653.1 L58.5 653.1 L59.0 653.1 L59.5 653.1 L60.0 653.1 L60.5 653.1 L61.0 653.1 L61.5 653.1 L62.0 653.1 L62.5 653.1 L63.0 653.1 L63.5 653.1 L64.0 653.1 L64.5 653.1 L65.0 653.1 L65.5 653.1 L66.0 653.1 L66.5 653.0 L67.0 652.9 L67.5 652.8 L68.0 652.7 L68.5 652.6 L69.0 652.4 L69.5 652.3 L70.0 652.1 L70.5 651.9 L71.0 651.8 L71.5 651.6 L72.0 651.3 L72.5 651.0 L73.0 650.6 L73.5 650.2 L74.0 649.8 L74.5 649.4 L75.0 648.9 L75.5 648.4 L76.0 648.0 L76.5 647.6 L77.0 647.2 L77.5 646.8 L78.0 646.3 L78.5 645.9 L79.0 645.4 L79.5 644.9 L80.0 644.3 L80.5 643.7 L81.0 643.0 L81.5 642.1 L82.0 641.0 L82.5 639.7 L83.0 638.3 L83.5 636.8 L84.0 635.2 L84.5 633.6 L85.0 632.0 L85.5 630.2 L86.0 627.9 L86.5 625.6 L87.0 623.2 L87.5 621.2 L88.0 619.6 L88.5 618.8 L89.0 618.8 L89.5 619.5 L90.0 620.6 L90.5 622.0 L91.0 623.5 L91.5 624.9 L92.0 626.0 L92.5 627.0 L93.0 627.9 L93.5 628.8 L94.0 629.7 L94.5 630.4 L95.0 631.0 L95.5 631.6 L96.0 632.1 L96.5 632.5 L97.0 632.7 L97.5 632.6 L98.0 632.3 L98.5 631.7 L99.0 630.8 L99.5 629.7 L100.0 628.3 L100.5 626.7 L101.0 623.6 L101.5 617.3 L102.0 610.0 L102.5 600.8 L103.0 595.6 L103.5 592.8 L104.0 590.0 L104.5 586.1 L105.0 582.0 L105.5 578.8 L106.0 576.4 L106.5 574.2 L107.0 572.2 L107.5 570.7 L108.0 569.9 L108.5 569.8 L109.0 570.5 L109.5 571.5 L110.0 572.0 L110.5 572.0 L111.0 572.0 L111.5 571.9 L112.0 571.9 L112.5 571.8 L113.0 571.8 L113.5 571.8 L114.0 572.0 L114.5 572.2 L115.0 572.6 L115.5 573.0 L116.0 573.4 L116.5 573.8 L117.0 574.3 L117.5 575.0 L118.0 575.9 L118.5 576.9 L119.0 577.7 L119.5 578.4 L120.0 578.8 L120.5 578.6 L121.0 577.9 L121.5 576.9 L122.0 576.2 L122.5 576.1 L123.0 577.5 L123.5 579.4 L124.0 581.1 L124.5 581.4 L125.0 576.6 L125.5 567.0 L126.0 553.0 L126.5 524.6 L127.0 500.0 L127.5 487.4 L128.0 477.8 L128.5 470.0 L129.0 462.2 L129.5 458.0 L130.0 459.3 L130.5 462.0 L131.0 466.7 L131.5 470.0 L132.0 466.5 L132.5 463.0 L133.0 469.0 L133.5 480.0 L134.0 491.8 L134.5 505.0 L135.0 518.9 L135.5 533.5 L136.0 547.5 L136.5 559.6 L137.0 570.6 L137.5 580.7 L138.0 590.0 L138.5 598.4 L139.0 606.2 L139.5 613.6 L140.0 621.1 L140.5 628.9 L141.0 635.0 L141.5 639.1 L142.0 642.4 L142.5 644.4 L143.0 645.1 L143.5 645.7 L144.0 646.1 L144.5 646.3 L145.0 646.5 L145.5 646.6 L146.0 646.7 L146.5 646.7 L147.0 646.8 L147.5 646.8 L148.0 646.8 L148.5 646.9 L149.0 646.9 L149.5 647.0 L150.0 647.0 L150.5 646.4 L151.5 646.6 L152.5 647.0 L153.5 647.6 L154.5 646.4 L155.5 647.0 L156.5 647.4 L157.5 647.7 L158.5 646.5 L159.5 646.4 L160.5 647.6 L161.5 647.7 L162.5 647.0 L163.5 646.3 L164.5 647.6 L165.5 646.8 L166.5 647.6 L167.5 647.2 L168.5 647.5 L169.5 646.5 L170.5 647.4 L171.5 646.6 L172.5 646.9 L173.5 647.5 L174.5 647.5 L175.5 646.6 L176.5 646.6 L177.5 646.9 L178.5 647.1 L179.5 646.9 L180.5 646.5 L181.5 646.7 L182.5 647.4 L183.5 647.7 L184.5 646.4 L185.5 647.2 L186.5 647.5 L187.5 646.4 L188.5 647.6 L189.5 646.5 L190.5 647.2 L191.5 647.2 L192.5 647.3 L193.5 646.8 L194.5 647.0 L195.5 647.2 L196.5 647.0 L197.5 647.3 L198.5 647.0 L199.5 647.0 L200.5 646.4 L201.5 647.3 L202.5 647.1 L203.5 646.7 L204.5 647.5 L205.5 647.6 L206.5 647.1 L207.5 646.7 L208.5 647.1 L209.5 646.6 L210.5 646.6 L211.5 647.1 L212.5 646.5 L213.5 647.1 L214.5 647.2 L215.5 646.5 L216.5 647.4 L217.5 646.5 L218.5 647.5 L219.5 647.6 L220.5 647.2 L221.5 646.5 L222.5 647.2 L223.5 647.0 L224.5 647.9 L225.5 646.7 L226.5 647.7 L227.5 648.0 L228.5 647.6 L229.5 647.7 L230.5 646.8 L231.5 647.9 L232.5 647.2 L233.5 647.9 L234.5 647.9 L235.5 646.7 L236.5 647.7 L237.5 647.9 L238.5 646.6 L239.5 647.0 L240.5 647.6 L241.5 646.7 L242.5 647.9 L243.5 646.9 L244.5 647.7 L245.5 646.7 L246.5 647.3 L247.5 647.9 L248.5 646.8 L249.5 646.9 L250.5 647.3 L251.5 647.0 L252.5 646.6 L253.5 646.8 L254.5 646.8 L255.5 648.0 L256.5 647.6 L257.5 647.9 L258.5 646.8 L259.5 647.7 L260.5 646.7 L261.5 647.4 L262.5 647.5 L263.5 647.1 L264.5 647.9 L265.5 647.4 L266.5 647.5 L267.5 647.9 L268.5 646.8 L269.5 648.1 L270.5 647.5 L271.5 647.2 L272.5 647.8 L273.5 647.0 L274.5 648.1 L275.5 647.5 L276.5 647.2 L277.5 647.8 L278.5 647.3 L279.5 646.9 L280.5 647.8 L281.5 646.7 L282.5 647.9 L283.5 647.0 L284.5 647.6 L285.5 648.1 L286.5 647.5 L287.5 647.7 L288.5 647.1 L289.5 646.7 L290.5 646.7 L291.5 646.9 L292.5 647.6 L293.5 647.3 L294.5 647.4 L295.5 648.0 L296.5 646.9 L297.5 647.0 L298.5 647.6 L299.5 646.7 L300.5 646.6 L301.5 647.1 L302.5 646.6 L303.5 646.9 L304.5 646.6 L305.5 646.9 L306.5 646.7 L307.5 645.9 L308.5 646.3 L309.5 645.9 L310.5 645.2 L311.5 646.2 L312.5 645.1 L313.5 645.0 L314.5 645.0 L315.5 645.9 L316.5 646.5 L317.5 646.6 L318.5 646.3 L319.5 646.3 L320.5 646.1 L321.5 647.3 L322.5 647.3 L323.5 647.1 L324.5 647.6 L325.5 647.4 L326.5 648.1 L327.5 647.9 L328.5 647.1 L329.5 648.1 L330.5 646.9 L331.5 647.6 L332.5 647.4 L333.5 647.2 L334.5 646.9 L335.5 648.0 L336.5 646.8 L337.5 647.6 L338.5 648.2 L339.5 647.0 L340.5 647.1 L341.5 647.7 L342.5 647.6 L343.5 647.8 L344.5 648.1 L345.5 647.1 L346.5 647.3 L347.5 647.3 L348.5 646.9 L349.5 648.2 L350.5 648.0 L351.5 647.9 L352.5 646.9 L353.5 648.1 L354.5 648.0 L355.5 647.6 L356.5 648.0 L357.5 647.6 L358.5 647.2 L359.5 647.0 L360.5 647.2 L361.5 646.9 L362.5 647.4 L363.5 648.0 L364.5 647.9 L365.5 648.2 L366.5 648.0 L367.5 647.3 L368.5 647.7 L369.5 647.6 L370.5 648.1 L371.5 647.7 L372.5 647.3 L373.5 647.8 L374.5 648.3 L375.5 647.1 L376.5 648.0 L377.5 646.5 L378.5 646.6 L379.5 646.1 L380.5 646.3 L381.5 645.8 L382.5 644.6 L383.5 642.8 L384.5 642.2 L385.5 639.8 L386.5 638.0 L387.5 637.3 L388.5 635.3 L389.5 634.0 L390.5 632.9 L391.5 632.6 L392.5 631.5 L393.5 632.0 L394.5 632.1 L395.5 632.9 L396.5 632.8 L397.5 633.9 L398.5 634.3 L399.5 634.4 L400.5 634.7 L401.5 635.8 L402.5 635.4 L403.5 637.3 L404.5 636.8 L405.5 637.5 L406.5 638.6 L407.5 640.9 L408.5 641.1 L409.5 641.9 L410.5 642.8 L411.5 643.8 L412.5 645.6 L413.5 646.2 L414.5 646.8 L415.5 647.3 L416.5 646.6 L417.5 647.6 L418.5 647.4 L419.5 648.2 L420.5 648.2 L421.5 648.4 L422.5 647.2 L423.5 648.4 L424.5 648.4 L425.5 648.5 L426.5 647.2 L427.5 647.3 L428.5 647.1 L429.5 646.9 L430.5 648.0 L431.5 647.8 L432.5 647.4 L433.5 647.5 L434.5 647.0 L435.5 646.4 L436.5 646.0 L437.5 645.9 L438.5 646.8 L439.5 646.0 L440.5 646.3 L441.5 646.5 L442.5 646.1 L443.5 646.6 L444.5 646.9 L445.5 647.7 L446.5 647.3 L447.5 647.4 L448.5 648.4 L449.5 647.8 L450.5 648.4 L451.5 648.1 L452.5 647.2 L453.5 647.8 L454.5 647.9 L455.5 648.4 L456.5 647.8 L457.5 648.3 L458.5 648.1 L459.5 647.6 L460.5 648.6 L461.5 647.4 L462.5 648.5 L463.5 647.5 L464.5 647.3 L465.5 647.6 L466.5 648.4 L467.5 648.8 L468.5 647.3 L469.5 648.0 L470.5 648.1 L471.5 648.5 L472.5 647.6 L473.5 648.1 L474.5 647.9 L475.5 648.6 L476.5 647.7 L477.5 648.8 L478.5 647.8 L479.5 647.7 L480.5 648.4 L481.5 648.1 L482.5 647.5 L483.5 648.3 L484.5 647.5 L485.5 648.6 L486.5 648.4 L487.5 648.6 L488.5 648.3 L489.5 647.9 L490.5 648.0 L491.5 648.0 L492.5 648.8 L493.5 647.6 L494.5 648.8 L495.5 647.5 L496.5 647.7 L497.5 647.8 L498.5 648.8 L499.5 648.2 L500.5 648.0 L501.5 648.8 L502.5 647.8 L503.5 648.2 L504.5 648.3 L505.5 648.6 L506.5 648.6 L507.5 648.5 L508.5 648.0 L509.5 648.0 L510.5 647.7 L511.5 648.8 L512.5 648.5 L513.5 648.6 L514.5 647.8 L515.5 648.2 L516.5 648.7 L517.5 648.4 L518.5 647.7 L519.5 648.2 L520.5 648.9 L521.5 647.9 L522.5 647.8 L523.5 648.0 L524.5 648.6 L525.5 648.8 L526.5 647.8 L527.5 647.8 L528.5 647.9 L529.5 648.1 L530.5 648.4 L531.5 647.8 L532.5 648.1 L533.5 647.9 L534.5 649.0 L535.5 648.6 L536.5 647.6 L537.5 648.9 L538.5 647.5 L539.5 647.8 L540.5 648.5 L541.5 648.0 L542.5 647.7 L543.5 647.0 L544.5 646.4 L545.5 646.9 L546.5 645.9 L547.5 646.0 L548.5 646.3 L549.5 645.8 L550.5 646.5 L551.5 647.2 L552.5 647.3 L553.5 647.3 L554.5 647.7 L555.5 647.7 L556.5 647.4 L557.5 648.2 L558.5 648.1 L559.5 648.7 L560.5 649.0 L561.5 648.3 L562.5 648.6 L563.5 648.8 L564.5 648.4 L565.5 648.1 L566.5 648.8 L567.5 649.1 L568.5 648.9 L569.5 648.8 L570.5 649.0 L571.5 648.8 L572.5 648.7 L573.5 648.5 L574.5 648.3 L575.5 648.7 L576.5 647.9 L577.5 648.4 L578.5 649.0 L579.5 648.9 L580.5 648.8 L581.5 648.2 L582.5 648.5 L583.5 648.5 L584.5 648.8 L585.5 648.4 L586.5 648.9 L587.5 649.2 L588.5 648.1 L589.5 648.8 L590.5 649.0 L591.5 648.4 L592.5 648.6 L593.5 649.3 L594.5 647.9 L595.5 648.7 L596.5 648.1 L597.5 649.1 L598.5 649.3 L599.5 648.7 L600.5 648.1 L601.5 648.8 L602.5 648.7 L603.5 649.0 L604.5 648.7 L605.5 648.9 L606.5 649.2 L607.5 648.7 L608.5 648.6 L609.5 649.4 L610.5 648.3 L611.5 649.0 L612.5 648.5 L613.5 649.1 L614.5 648.1 L615.5 649.4 L616.5 648.5 L617.5 648.1 L618.5 648.4 L619.5 648.6 L620.5 648.0 L621.5 648.6 L622.5 648.6 L623.5 649.1 L624.5 648.5 L625.5 648.4 L626.5 648.4 L627.5 649.1 L628.5 649.4 L629.5 648.8 L630.5 648.4 L631.5 649.2 L632.5 648.6 L633.5 648.4 L634.5 648.2 L635.5 649.2 L636.5 649.3 L637.5 649.0 L638.5 648.8 L639.5 648.9 L640.5 648.4 L641.5 649.5 L642.5 648.6 L643.5 649.1 L644.5 649.3 L645.5 649.3 L646.5 648.8 L647.5 648.6 L648.5 648.9 L649.5 648.3 L650.5 649.4 L651.5 648.7 L652.5 649.4 L653.5 648.5 L654.5 648.7 L655.5 648.5 L656.5 648.8 L657.5 648.4 L658.5 648.2 L659.5 649.2 L660.5 648.6 L661.5 648.5 L662.5 648.6 L663.5 648.9 L664.5 648.8 L665.5 649.1 L666.5 649.2 L667.5 648.7 L668.5 649.6 L669.5 649.5 L670.5 648.3 L671.5 649.5 L672.5 649.6 L673.5 649.4 L674.5 648.4 L675.5 649.5 L676.5 649.2 L677.5 648.3 L678.5 648.3 L679.5 649.7 L680.5 649.2 L681.5 648.6 L682.5 648.4 L683.5 648.5 L684.5 648.6 L685.5 649.4 L686.5 648.8 L687.5 648.5 L688.5 649.6 L689.5 649.5 L690.5 648.6 L691.5 649.6 L692.5 649.2 L693.5 649.5 L694.5 649.3 L695.5 649.7 L696.5 649.5 L697.5 649.6 L698.5 648.7 L699.5 649.4 L700.5 649.1 L701.5 649.5 L702.5 649.0 L703.5 649.7 L704.5 649.2 L705.5 648.8 L706.5 648.7 L707.5 648.6 L708.5 649.1 L709.5 648.5 L710.5 649.1 L711.5 648.6 L712.5 649.1 L713.5 649.2 L714.5 649.2 L715.5 649.7 L716.5 648.5 L717.5 649.7 L718.5 649.1 L719.5 649.3 L720.5 649.4 L721.5 649.7 L722.5 649.0 L723.5 649.1 L724.5 649.9 L725.5 648.6 L726.5 649.4 L727.5 649.4 L728.5 648.6 L729.5 649.4 L730.5 649.5 L731.5 649.8 L732.5 649.0 L733.5 649.9 L734.5 649.3 L735.5 649.2 L736.5 649.8 L737.5 648.6 L738.5 649.6 L739.5 649.5 L740.5 649.1 L741.5 649.8 L742.5 649.1 L743.5 649.3 L744.5 649.3 L745.5 649.7 L746.5 648.9 L747.5 649.2 L748.5 649.2 L749.5 649.4 L750.5 649.8 L751.5 649.1 L752.5 649.8 L753.5 649.2 L754.5 649.4 L755.5 649.0 L756.5 649.4 L757.5 650.0 L758.5 649.6 L759.5 649.8 L760.5 649.2 L761.5 649.1 L762.5 649.1 L763.5 649.5 L764.5 649.6 L765.5 649.8 L766.5 648.8 L767.5 649.7 L768.5 649.9 L769.5 649.5 L770.5 648.8 L771.5 649.2 L772.5 648.8 L773.5 649.0 L774.5 650.0 L775.5 649.6 L776.5 649.7 L777.5 649.8 L778.5 650.0 L779.5 649.6 L780.5 649.6 L781.5 649.6 L782.5 649.6 L783.5 649.4 L784.5 649.4 L785.5 648.6 L786.5 648.8 L787.5 648.1 L788.5 647.8 L789.5 646.0 L790.5 644.9 L791.5 643.1 L792.5 641.9 L793.5 639.4 L794.5 635.8 L795.5 631.5 L796.5 627.5 L797.5 622.3 L798.5 616.3 L799.5 609.8 L800.5 603.5 L801.5 597.3 L802.5 591.1 L803.5 585.7 L804.5 581.3 L805.5 577.9 L806.5 574.5 L807.5 574.1 L808.5 574.0 L809.5 576.0 L810.5 579.9 L811.5 584.0 L812.5 589.7 L813.5 595.1 L814.5 601.0 L815.5 607.8 L816.5 614.3 L817.5 620.6 L818.5 626.0 L819.5 630.4 L820.5 634.5 L821.5 637.8 L822.5 641.2 L823.5 643.2 L824.5 645.0 L825.5 646.3 L826.5 647.4 L827.5 648.8 L828.5 648.9 L829.5 650.1 L830.5 649.5 L831.5 650.5 L832.5 649.9 L833.5 649.9 L834.5 650.6 L835.5 650.3 L836.5 650.7 L837.5 650.3 L838.5 650.2 L839.5 650.9 L840.5 650.8 L841.5 651.0 L842.5 650.9 L843.5 650.3 L844.5 650.8 L845.5 650.9 L846.5 650.7 L847.5 651.1 L848.5 650.6 L849.5 651.2 L850.5 651.0 L851.5 650.4 L852.5 650.5 L853.5 651.0 L854.5 651.1 L855.5 650.6 L856.5 650.7 L857.5 651.0 L858.5 650.6 L859.5 651.0 L860.5 650.7 L861.5 650.2 L862.5 650.3 L863.5 650.2 L864.5 649.8 L865.5 649.7 L866.5 648.9 L867.5 648.8 L868.5 648.0 L869.5 647.6 L870.5 646.9 L871.5 646.1 L872.5 645.4 L873.5 645.0 L874.5 644.5 L875.5 643.8 L876.5 643.3 L877.5 642.8 L878.5 642.5 L879.5 643.0 L880.5 643.0 L881.5 643.4 L882.5 643.5 L883.5 644.2 L884.5 645.1 L885.5 645.7 L886.5 646.3 L887.5 646.9 L888.5 647.7 L889.5 648.6 L890.5 648.9 L891.5 649.6 L892.5 650.1 L893.5 650.6 L894.5 651.0 L895.5 651.0 L896.5 651.2 L897.5 651.5 L898.5 651.7 L899.5 651.9 L900.5 652.0 L901.5 652.1 L902.5 651.8 L903.5 652.1 L904.5 652.2 L905.5 652.2 L906.5 652.1 L907.5 652.0 L908.5 652.2 L909.5 652.2 L910.5 652.2 L911.5 652.2 L912.5 652.0 L913.5 651.9 L914.5 652.1 L915.5 652.2 L916.5 652.0 L917.5 652.2 L918.5 652.3 L919.5 652.0 L920.5 652.2 L921.5 652.2 L922.5 652.1 L923.5 652.0 L924.5 652.0 L925.5 652.2 L926.5 652.2 L927.5 652.1 L928.5 652.0 L929.5 652.2 L930.5 652.2 L931.5 652.1 L932.5 652.2 L933.5 652.3 L934.5 652.3 L935.5 652.2 L936.5 652.1 L937.5 652.2 L938.5 652.1 L939.5 652.1 L940.5 652.1 L941.5 652.2 L942.5 652.1 L943.5 652.2 L944.5 652.1 L945.5 652.2 L946.5 652.1 L947.5 652.0 L948.5 652.4 L949.5 652.1 L950.5 652.1 L951.5 652.2 L952.5 652.3 L953.5 652.1 L954.5 652.2 L955.5 652.2 L956.5 652.2 L957.5 652.1 L958.5 652.1 L959.5 652.4 L960.5 652.3 L961.5 652.2 L962.5 652.2 L963.5 652.1 L964.5 652.3 L965.5 652.2 L966.5 652.4 L967.5 652.3 L968.5 652.3 L969.5 652.4 L970.5 652.2 L971.5 652.1 L972.5 652.2 L973.5 652.2 L974.5 652.1 L975.5 652.1 L976.5 652.3 L977.5 652.4 L978.5 652.2 L979.5 652.4 L980.5 652.4 L981.5 652.1 L982.5 652.3 L983.5 652.2 L984.5 652.2 L985.5 652.4 L986.5 652.2 L987.5 652.3 L988.5 652.3 L989.5 652.4 L990.5 652.3 L991.5 652.3 L992.5 652.3 L993.5 652.2 L994.5 652.4 L995.5 652.4 L996.5 652.2 L997.5 652.2 L998.5 652.2 L999.5 652.3 L1000.5 652.4 L1001.5 652.4 L1002.5 652.4 L1003.5 652.2 L1004.5 652.4 L1005.5 652.4 L1006.5 652.4 L1007.5 652.5 L1008.5 652.2 L1009.5 652.2 L1010.5 652.4 L1011.5 652.5 L1012.5 652.4 L1013.5 652.3 L1014.5 652.4 L1015.5 652.4 L1016.5 652.3 L1017.5 652.3 L1018.5 652.3 L1019.5 652.3 L1020.5 652.4 L1021.5 652.3 L1022.5 652.3 L1023.5 652.3 L1024.5 652.4 L1025.5 652.3 L1026.5 652.4 L1027.5 652.3 L1028.5 652.3 L1029.5 652.5 L1030.5 652.3 L1031.5 652.5 L1032.5 652.5 L1033.5 652.5 L1034.5 652.3 L1035.5 652.4 L1036.5 652.3 L1037.5 652.5 L1038.5 652.5 L1039.5 652.4 L1040.5 652.4 L1041.5 652.4 L1042.5 652.5 L1043.5 652.4 L1044.5 652.5 L1045.5 652.3 L1046.5 652.4 L1047.5 652.3 L1048.5 652.5 L1049.5 652.5 L1050.5 652.4 L1051.5 652.5 L1052.5 652.4 L1053.5 652.4 L1054.5 652.4 L1055.5 652.4 L1056.5 652.5 L1057.5 652.4 L1058.5 652.4 L1059.5 652.5 L1060.5 652.4 L1061.5 652.6 L1062.5 652.4" fill="none" stroke="#7a1f2e" stroke-opacity="0.55" stroke-width="1.2"/>
<line x1="60.5" y1="652.2" x2="1063.0" y2="652.2" stroke="url(#bl1)" stroke-width="1.8"/>
<clipPath id="sp1"><use href="#sp1path"/></clipPath>
<g clip-path="url(#sp1)" opacity="0.4"><rect x="127.2" y="417.2" width="21.1" height="24.2" rx="1.5" fill="none" stroke="#b8e27c" stroke-width="1.7"/><text x="129.6" y="435.4" class="el">O</text><rect x="115.1" y="518.1" width="16.0" height="24.5" rx="1.5" fill="none" stroke="#8fb2b5" stroke-width="1.7"/><text x="117.8" y="536.6" class="el">Ti</text><rect x="97.2" y="549.6" width="23.4" height="24.6" rx="1.5" fill="none" stroke="#cc7f96" stroke-width="1.7"/><text x="100.2" y="568.2" class="el">Ag</text><rect x="383.9" y="602.9" width="20.2" height="25.3" rx="1.5" fill="none" stroke="#e8d46a" stroke-width="1.7"/><text x="385.8" y="622.2" class="el">Pt</text><rect x="398.4" y="609.1" width="19.5" height="24.7" rx="1.5" fill="none" stroke="#e8d46a" stroke-width="1.7"/><text x="400.3" y="627.8" class="el">Pt</text><rect x="540.2" y="618.4" width="24.3" height="25.0" rx="1.5" fill="none" stroke="#cc7f96" stroke-width="1.7"/><text x="543.2" y="637.4" class="el">Ag</text><rect x="802.8" y="544.6" width="17.1" height="24.9" rx="1.5" fill="none" stroke="#8fb2b5" stroke-width="1.7"/><text x="805.4" y="563.5" class="el">Ti</text><rect x="874.2" y="612.6" width="17.1" height="24.6" rx="1.5" fill="none" stroke="#8fb2b5" stroke-width="1.7"/><text x="876.9" y="631.2" class="el">Ti</text></g>
<mask id="nm1" maskUnits="userSpaceOnUse" x="0" y="0" width="1077" height="1000"><rect width="1077" height="1000" fill="#fff"/><use href="#sp1path" fill="#000"/></mask>
<g mask="url(#nm1)"><text x="129.6" y="435.4" class="el">O</text><text x="117.8" y="536.6" class="el">Ti</text><text x="100.2" y="568.2" class="el">Ag</text><text x="385.8" y="622.2" class="el">Pt</text><text x="400.3" y="627.8" class="el">Pt</text><text x="543.2" y="637.4" class="el">Ag</text><text x="805.4" y="563.5" class="el">Ti</text><text x="876.9" y="631.2" class="el">Ti</text></g>
<text x="558.1" y="511.1" class="ti">TAg3</text>
<text x="0" y="0" class="le" style="font-size:51px" transform="translate(954.6 456.8) scale(0.84 1)">b</text></g>
<g><line x1="63.3" y1="754.7" x2="63.3" y2="971.0" stroke="#cfcfcf" stroke-width="1.2"/>
<line x1="60.8" y1="971.0" x2="63.3" y2="971.0" stroke="#bbb" stroke-width="1"/>
<text x="0" y="0" class="yl" transform="translate(61.4 976.9) scale(0.88 1)">0.0K</text>
<line x1="60.8" y1="937.2" x2="63.3" y2="937.2" stroke="#bbb" stroke-width="1"/>
<text x="0" y="0" class="yl" transform="translate(61.4 943.1) scale(0.88 1)">3.2K</text>
<line x1="60.8" y1="903.4" x2="63.3" y2="903.4" stroke="#bbb" stroke-width="1"/>
<text x="0" y="0" class="yl" transform="translate(61.4 909.3) scale(0.88 1)">6.4K</text>
<line x1="60.8" y1="869.6" x2="63.3" y2="869.6" stroke="#bbb" stroke-width="1"/>
<text x="0" y="0" class="yl" transform="translate(61.4 875.5) scale(0.88 1)">9.6K</text>
<line x1="60.8" y1="835.8" x2="63.3" y2="835.8" stroke="#bbb" stroke-width="1"/>
<text x="0" y="0" class="yl" transform="translate(61.4 841.7) scale(0.88 1)">12.8K</text>
<line x1="60.8" y1="802.0" x2="63.3" y2="802.0" stroke="#bbb" stroke-width="1"/>
<text x="0" y="0" class="yl" transform="translate(61.4 807.9) scale(0.88 1)">16.0K</text>
<line x1="60.8" y1="768.2" x2="63.3" y2="768.2" stroke="#bbb" stroke-width="1"/>
<text x="0" y="0" class="yl" transform="translate(61.4 774.1) scale(0.88 1)">19.2K</text>
<line x1="100.8" y1="973.2" x2="100.8" y2="974.8" stroke="#aaa" stroke-width="1"/>
<text x="0" y="0" class="xl" transform="translate(100.8 990.9) scale(0.93 1)">0.30</text>
<line x1="201.5" y1="973.2" x2="201.5" y2="974.8" stroke="#aaa" stroke-width="1"/>
<text x="0" y="0" class="xl" transform="translate(201.5 990.9) scale(0.93 1)">0.87</text>
<line x1="302.3" y1="973.2" x2="302.3" y2="974.8" stroke="#aaa" stroke-width="1"/>
<text x="0" y="0" class="xl" transform="translate(302.3 990.9) scale(0.93 1)">1.44</text>
<line x1="403.0" y1="973.2" x2="403.0" y2="974.8" stroke="#aaa" stroke-width="1"/>
<text x="0" y="0" class="xl" transform="translate(403.0 990.9) scale(0.93 1)">2.01</text>
<line x1="503.7" y1="973.2" x2="503.7" y2="974.8" stroke="#aaa" stroke-width="1"/>
<text x="0" y="0" class="xl" transform="translate(503.7 990.9) scale(0.93 1)">2.58</text>
<line x1="604.5" y1="973.2" x2="604.5" y2="974.8" stroke="#aaa" stroke-width="1"/>
<text x="0" y="0" class="xl" transform="translate(604.5 990.9) scale(0.93 1)">3.15</text>
<line x1="705.2" y1="973.2" x2="705.2" y2="974.8" stroke="#aaa" stroke-width="1"/>
<text x="0" y="0" class="xl" transform="translate(705.2 990.9) scale(0.93 1)">3.72</text>
<line x1="805.9" y1="973.2" x2="805.9" y2="974.8" stroke="#aaa" stroke-width="1"/>
<text x="0" y="0" class="xl" transform="translate(805.9 990.9) scale(0.93 1)">4.29</text>
<line x1="906.6" y1="973.2" x2="906.6" y2="974.8" stroke="#aaa" stroke-width="1"/>
<text x="0" y="0" class="xl" transform="translate(906.6 990.9) scale(0.93 1)">4.86</text>
<line x1="1007.4" y1="973.2" x2="1007.4" y2="974.8" stroke="#aaa" stroke-width="1"/>
<text x="0" y="0" class="xl" transform="translate(1007.4 990.9) scale(0.93 1)">5.43</text>
<rect x="135.7" y="773.0" width="21.4" height="25.8" rx="1.5" fill="none" stroke="#b8e27c" stroke-width="1.7"/><text x="138.0" y="792.8" class="el">O</text><rect x="104.8" y="867.5" width="23.6" height="24.7" rx="1.5" fill="none" stroke="#cc7f96" stroke-width="1.7"/><text x="107.8" y="886.2" class="el">Ag</text><rect x="123.5" y="889.5" width="15.9" height="24.7" rx="1.5" fill="none" stroke="#8fb2b5" stroke-width="1.7"/><text x="126.2" y="908.2" class="el">Ti</text><rect x="404.4" y="922.1" width="18.7" height="24.9" rx="1.5" fill="none" stroke="#e8d46a" stroke-width="1.7"/><text x="406.3" y="941.0" class="el">Pt</text><rect x="417.7" y="928.2" width="19.7" height="24.2" rx="1.5" fill="none" stroke="#e8d46a" stroke-width="1.7"/><text x="419.6" y="946.5" class="el">Pt</text><rect x="566.8" y="936.4" width="23.8" height="24.9" rx="1.5" fill="none" stroke="#cc7f96" stroke-width="1.7"/><text x="569.7" y="955.3" class="el">Ag</text><rect x="840.5" y="887.1" width="17.1" height="24.7" rx="1.5" fill="none" stroke="#8fb2b5" stroke-width="1.7"/><text x="843.1" y="905.9" class="el">Ti</text><rect x="914.9" y="934.9" width="16.8" height="24.7" rx="1.5" fill="none" stroke="#8fb2b5" stroke-width="1.7"/><text x="917.5" y="953.6" class="el">Ti</text>
<defs><path id="sp2path" d="M63.3 971.0 L63.3 971.0 L63.8 971.0 L64.3 971.0 L64.8 971.0 L65.3 971.0 L65.8 971.0 L66.3 971.0 L66.8 971.0 L67.3 971.0 L67.8 971.0 L68.3 971.0 L68.8 971.0 L69.3 971.0 L69.8 971.0 L70.3 971.0 L70.8 971.0 L71.3 971.0 L71.8 971.0 L72.3 971.0 L72.8 971.0 L73.3 970.9 L73.8 970.8 L74.3 970.7 L74.8 970.5 L75.3 970.4 L75.8 970.2 L76.3 970.0 L76.8 969.8 L77.3 969.6 L77.8 969.2 L78.3 968.8 L78.8 968.3 L79.3 967.8 L79.8 967.3 L80.3 966.8 L80.8 966.2 L81.3 965.7 L81.8 965.1 L82.3 964.6 L82.8 964.1 L83.3 963.5 L83.8 962.8 L84.3 962.1 L84.8 961.4 L85.3 960.5 L85.8 959.5 L86.3 958.3 L86.8 956.9 L87.3 954.6 L87.8 951.7 L88.3 948.2 L88.8 944.3 L89.3 940.1 L89.8 935.8 L90.3 930.6 L90.8 924.3 L91.3 917.6 L91.8 911.6 L92.3 906.6 L92.8 901.8 L93.3 897.5 L93.8 894.1 L94.3 891.5 L94.8 889.2 L95.3 887.3 L95.8 886.4 L96.3 887.3 L96.8 890.1 L97.3 893.6 L97.8 897.1 L98.3 901.1 L98.8 905.6 L99.3 910.2 L99.8 914.7 L100.3 919.2 L100.8 923.8 L101.3 928.3 L101.8 932.7 L102.3 937.3 L102.8 941.2 L103.3 943.9 L103.8 946.2 L104.3 948.1 L104.8 949.5 L105.3 950.6 L105.8 951.6 L106.3 952.5 L106.8 953.1 L107.3 953.4 L107.8 953.2 L108.3 952.6 L108.8 951.6 L109.3 950.5 L109.8 949.2 L110.3 947.5 L110.8 945.5 L111.3 943.0 L111.8 940.2 L112.3 936.4 L112.8 931.6 L113.3 926.7 L113.8 922.4 L114.3 918.0 L114.8 914.6 L115.3 912.9 L115.8 911.5 L116.3 910.5 L116.8 909.8 L117.3 909.5 L117.8 910.1 L118.3 911.5 L118.8 913.2 L119.3 914.6 L119.8 915.4 L120.3 916.1 L120.8 916.6 L121.3 917.1 L121.8 917.5 L122.3 917.9 L122.8 918.3 L123.3 918.6 L123.8 919.0 L124.3 919.3 L124.8 919.6 L125.3 919.8 L125.8 920.0 L126.3 920.1 L126.8 920.2 L127.3 920.2 L127.8 920.3 L128.3 920.4 L128.8 920.4 L129.3 920.4 L129.8 920.3 L130.3 920.0 L130.8 919.6 L131.3 919.2 L131.8 918.7 L132.3 918.3 L132.8 917.7 L133.3 916.9 L133.8 915.5 L134.3 908.6 L134.8 896.9 L135.3 884.3 L135.8 874.1 L136.3 864.3 L136.8 854.2 L137.3 842.6 L137.8 828.5 L138.3 817.3 L138.8 812.9 L139.3 810.0 L139.8 808.0 L140.3 807.3 L140.8 810.4 L141.3 817.8 L141.8 826.7 L142.3 835.0 L142.8 844.3 L143.3 854.5 L143.8 865.0 L144.3 875.2 L144.8 884.8 L145.3 893.9 L145.8 902.6 L146.3 911.4 L146.8 920.8 L147.3 931.2 L147.8 940.0 L148.3 945.3 L148.8 949.9 L149.3 954.0 L149.8 957.5 L150.3 960.3 L150.8 962.3 L151.3 963.3 L151.8 963.8 L152.3 964.3 L152.8 964.7 L153.3 965.0 L153.8 965.2 L154.3 965.4 L154.8 965.5 L155.3 965.5 L155.8 965.5 L156.3 965.5 L156.8 965.5 L157.3 965.5 L157.8 965.5 L158.3 965.5 L158.8 965.5 L159.3 965.5 L159.8 965.5 L160.3 966.4 L161.3 965.0 L162.3 966.3 L163.3 965.9 L164.3 965.2 L165.3 965.6 L166.3 965.4 L167.3 965.3 L168.3 965.2 L169.3 965.5 L170.3 966.4 L171.3 966.4 L172.3 966.3 L173.3 965.1 L174.3 965.4 L175.3 966.3 L176.3 965.0 L177.3 966.1 L178.3 965.4 L179.3 966.4 L180.3 965.0 L181.3 966.2 L182.3 965.5 L183.3 965.2 L184.3 965.0 L185.3 966.2 L186.3 965.8 L187.3 965.3 L188.3 965.7 L189.3 966.4 L190.3 965.3 L191.3 965.9 L192.3 965.2 L193.3 965.3 L194.3 966.2 L195.3 966.1 L196.3 965.3 L197.3 965.2 L198.3 965.2 L199.3 966.0 L200.3 965.8 L201.3 965.5 L202.3 965.4 L203.3 966.0 L204.3 966.1 L205.3 966.3 L206.3 965.9 L207.3 965.4 L208.3 965.2 L209.3 966.2 L210.3 965.7 L211.3 966.2 L212.3 965.2 L213.3 966.3 L214.3 965.6 L215.3 966.4 L216.3 966.4 L217.3 965.8 L218.3 965.1 L219.3 966.5 L220.3 965.8 L221.3 966.4 L222.3 965.5 L223.3 965.4 L224.3 966.4 L225.3 965.7 L226.3 965.4 L227.3 965.7 L228.3 966.0 L229.3 965.2 L230.3 965.9 L231.3 965.8 L232.3 965.9 L233.3 965.3 L234.3 966.2 L235.3 966.4 L236.3 966.5 L237.3 965.7 L238.3 966.2 L239.3 965.8 L240.3 966.3 L241.3 965.3 L242.3 966.5 L243.3 966.6 L244.3 965.9 L245.3 966.0 L246.3 966.0 L247.3 966.0 L248.3 965.2 L249.3 966.7 L250.3 965.6 L251.3 965.5 L252.3 965.4 L253.3 965.6 L254.3 966.5 L255.3 965.3 L256.3 965.4 L257.3 966.3 L258.3 965.5 L259.3 965.3 L260.3 966.2 L261.3 966.1 L262.3 966.0 L263.3 966.3 L264.3 965.4 L265.3 966.6 L266.3 966.4 L267.3 965.4 L268.3 965.5 L269.3 966.0 L270.3 966.0 L271.3 965.7 L272.3 965.5 L273.3 965.9 L274.3 965.5 L275.3 966.2 L276.3 966.6 L277.3 965.5 L278.3 966.2 L279.3 966.4 L280.3 965.6 L281.3 966.6 L282.3 966.7 L283.3 965.9 L284.3 966.0 L285.3 966.6 L286.3 966.1 L287.3 965.9 L288.3 966.8 L289.3 966.5 L290.3 965.9 L291.3 965.7 L292.3 965.9 L293.3 966.0 L294.3 966.9 L295.3 966.6 L296.3 966.8 L297.3 966.6 L298.3 966.7 L299.3 965.5 L300.3 966.2 L301.3 966.8 L302.3 966.8 L303.3 965.8 L304.3 966.0 L305.3 966.4 L306.3 966.0 L307.3 966.2 L308.3 965.5 L309.3 966.1 L310.3 966.2 L311.3 965.5 L312.3 965.6 L313.3 966.9 L314.3 966.6 L315.3 966.8 L316.3 966.4 L317.3 966.6 L318.3 966.7 L319.3 966.6 L320.3 965.2 L321.3 966.0 L322.3 965.3 L323.3 965.8 L324.3 965.0 L325.3 965.2 L326.3 965.6 L327.3 965.0 L328.3 964.4 L329.3 964.8 L330.3 964.7 L331.3 965.5 L332.3 964.7 L333.3 964.8 L334.3 965.5 L335.3 964.9 L336.3 965.8 L337.3 966.5 L338.3 966.0 L339.3 965.7 L340.3 966.0 L341.3 966.1 L342.3 965.6 L343.3 965.5 L344.3 965.5 L345.3 965.6 L346.3 965.7 L347.3 965.4 L348.3 965.3 L349.3 964.9 L350.3 965.5 L351.3 965.8 L352.3 965.4 L353.3 965.3 L354.3 965.3 L355.3 964.7 L356.3 965.5 L357.3 965.1 L358.3 965.4 L359.3 965.6 L360.3 965.5 L361.3 965.4 L362.3 965.4 L363.3 965.5 L364.3 966.0 L365.3 965.9 L366.3 966.3 L367.3 965.5 L368.3 966.0 L369.3 966.8 L370.3 965.9 L371.3 966.4 L372.3 966.3 L373.3 966.0 L374.3 967.1 L375.3 966.1 L376.3 966.8 L377.3 965.9 L378.3 965.7 L379.3 966.9 L380.3 966.3 L381.3 965.7 L382.3 966.2 L383.3 966.3 L384.3 966.8 L385.3 965.8 L386.3 966.0 L387.3 967.1 L388.3 966.8 L389.3 965.9 L390.3 966.2 L391.3 966.2 L392.3 966.7 L393.3 966.6 L394.3 966.9 L395.3 966.8 L396.3 966.2 L397.3 966.3 L398.3 966.1 L399.3 965.7 L400.3 964.8 L401.3 964.5 L402.3 963.5 L403.3 962.7 L404.3 960.2 L405.3 959.9 L406.3 957.0 L407.3 956.6 L408.3 954.8 L409.3 953.4 L410.3 953.1 L411.3 951.8 L412.3 951.3 L413.3 951.8 L414.3 952.3 L415.3 952.4 L416.3 952.7 L417.3 953.4 L418.3 954.1 L419.3 955.1 L420.3 955.0 L421.3 955.7 L422.3 956.5 L423.3 956.9 L424.3 957.5 L425.3 959.0 L426.3 960.0 L427.3 960.4 L428.3 961.3 L429.3 961.9 L430.3 962.9 L431.3 963.5 L432.3 964.8 L433.3 965.3 L434.3 965.0 L435.3 966.6 L436.3 965.9 L437.3 966.8 L438.3 966.9 L439.3 967.2 L440.3 966.1 L441.3 966.5 L442.3 967.2 L443.3 965.9 L444.3 965.9 L445.3 966.7 L446.3 966.6 L447.3 967.2 L448.3 967.0 L449.3 966.6 L450.3 967.2 L451.3 966.5 L452.3 966.4 L453.3 966.5 L454.3 966.0 L455.3 965.8 L456.3 966.1 L457.3 965.6 L458.3 966.4 L459.3 966.0 L460.3 965.7 L461.3 965.1 L462.3 965.6 L463.3 965.8 L464.3 966.1 L465.3 966.3 L466.3 966.8 L467.3 967.1 L468.3 966.5 L469.3 966.5 L470.3 966.8 L471.3 967.4 L472.3 966.5 L473.3 966.8 L474.3 967.2 L475.3 966.2 L476.3 966.5 L477.3 967.5 L478.3 967.3 L479.3 966.8 L480.3 966.2 L481.3 967.4 L482.3 967.1 L483.3 967.3 L484.3 967.5 L485.3 967.4 L486.3 966.7 L487.3 966.3 L488.3 966.5 L489.3 966.8 L490.3 966.8 L491.3 966.3 L492.3 966.3 L493.3 967.0 L494.3 967.0 L495.3 966.6 L496.3 967.6 L497.3 967.0 L498.3 966.2 L499.3 966.7 L500.3 967.3 L501.3 966.6 L502.3 967.1 L503.3 966.1 L504.3 966.6 L505.3 967.4 L506.3 967.0 L507.3 967.1 L508.3 966.4 L509.3 966.9 L510.3 967.0 L511.3 966.5 L512.3 967.1 L513.3 967.0 L514.3 967.6 L515.3 967.0 L516.3 966.8 L517.3 966.4 L518.3 966.4 L519.3 967.3 L520.3 966.4 L521.3 966.4 L522.3 966.5 L523.3 967.0 L524.3 967.4 L525.3 967.1 L526.3 967.4 L527.3 966.3 L528.3 966.3 L529.3 967.4 L530.3 966.7 L531.3 967.3 L532.3 966.8 L533.3 966.5 L534.3 966.7 L535.3 966.4 L536.3 967.6 L537.3 967.1 L538.3 966.8 L539.3 966.9 L540.3 966.9 L541.3 966.4 L542.3 967.6 L543.3 967.1 L544.3 967.7 L545.3 967.0 L546.3 967.2 L547.3 966.7 L548.3 966.4 L549.3 967.7 L550.3 967.6 L551.3 966.8 L552.3 967.6 L553.3 967.5 L554.3 966.8 L555.3 967.2 L556.3 967.7 L557.3 967.1 L558.3 967.7 L559.3 966.7 L560.3 966.9 L561.3 967.4 L562.3 966.6 L563.3 966.7 L564.3 967.4 L565.3 966.8 L566.3 967.0 L567.3 966.1 L568.3 965.8 L569.3 965.8 L570.3 965.3 L571.3 966.1 L572.3 964.9 L573.3 965.1 L574.3 964.4 L575.3 964.9 L576.3 964.8 L577.3 964.9 L578.3 964.7 L579.3 965.0 L580.3 966.3 L581.3 965.9 L582.3 966.0 L583.3 966.2 L584.3 966.5 L585.3 966.6 L586.3 966.4 L587.3 967.3 L588.3 966.9 L589.3 966.7 L590.3 967.5 L591.3 966.7 L592.3 966.9 L593.3 967.7 L594.3 966.7 L595.3 967.2 L596.3 967.7 L597.3 967.7 L598.3 966.8 L599.3 967.1 L600.3 967.6 L601.3 967.1 L602.3 967.9 L603.3 966.9 L604.3 967.9 L605.3 967.3 L606.3 966.9 L607.3 967.2 L608.3 966.8 L609.3 967.6 L610.3 967.0 L611.3 967.9 L612.3 967.5 L613.3 967.2 L614.3 967.0 L615.3 967.5 L616.3 967.0 L617.3 967.9 L618.3 966.9 L619.3 967.4 L620.3 967.4 L621.3 967.1 L622.3 967.7 L623.3 967.2 L624.3 967.6 L625.3 967.5 L626.3 967.2 L627.3 967.3 L628.3 966.9 L629.3 967.0 L630.3 967.9 L631.3 967.2 L632.3 967.7 L633.3 967.0 L634.3 967.5 L635.3 967.3 L636.3 967.5 L637.3 967.2 L638.3 966.9 L639.3 967.2 L640.3 967.1 L641.3 967.0 L642.3 967.8 L643.3 967.2 L644.3 967.4 L645.3 968.0 L646.3 967.9 L647.3 968.0 L648.3 968.0 L649.3 967.1 L650.3 967.3 L651.3 967.0 L652.3 967.8 L653.3 967.8 L654.3 967.4 L655.3 967.5 L656.3 967.8 L657.3 967.8 L658.3 967.3 L659.3 968.0 L660.3 967.4 L661.3 967.8 L662.3 967.2 L663.3 967.2 L664.3 968.1 L665.3 967.9 L666.3 967.9 L667.3 967.1 L668.3 967.1 L669.3 967.3 L670.3 967.3 L671.3 967.4 L672.3 967.5 L673.3 967.1 L674.3 967.5 L675.3 967.9 L676.3 967.3 L677.3 968.1 L678.3 967.8 L679.3 968.0 L680.3 967.4 L681.3 967.7 L682.3 968.0 L683.3 967.6 L684.3 967.2 L685.3 968.1 L686.3 968.1 L687.3 967.5 L688.3 967.2 L689.3 968.2 L690.3 967.9 L691.3 967.3 L692.3 967.5 L693.3 967.3 L694.3 968.1 L695.3 967.5 L696.3 968.3 L697.3 968.1 L698.3 967.4 L699.3 968.1 L700.3 967.7 L701.3 968.1 L702.3 968.2 L703.3 967.6 L704.3 967.4 L705.3 968.4 L706.3 967.8 L707.3 968.4 L708.3 968.1 L709.3 968.2 L710.3 968.3 L711.3 968.0 L712.3 967.9 L713.3 967.4 L714.3 968.1 L715.3 967.8 L716.3 967.9 L717.3 968.4 L718.3 967.5 L719.3 968.2 L720.3 967.4 L721.3 968.2 L722.3 968.3 L723.3 967.7 L724.3 968.0 L725.3 968.5 L726.3 968.1 L727.3 968.0 L728.3 967.7 L729.3 967.5 L730.3 967.9 L731.3 967.9 L732.3 967.7 L733.3 967.8 L734.3 967.6 L735.3 968.3 L736.3 968.2 L737.3 967.8 L738.3 967.8 L739.3 968.1 L740.3 968.0 L741.3 968.5 L742.3 967.9 L743.3 967.9 L744.3 968.5 L745.3 967.7 L746.3 968.2 L747.3 967.9 L748.3 968.4 L749.3 968.2 L750.3 968.4 L751.3 967.8 L752.3 968.3 L753.3 968.2 L754.3 968.1 L755.3 968.4 L756.3 968.5 L757.3 967.8 L758.3 968.0 L759.3 968.0 L760.3 967.9 L761.3 967.7 L762.3 968.0 L763.3 967.9 L764.3 968.4 L765.3 968.2 L766.3 967.8 L767.3 968.0 L768.3 968.2 L769.3 968.1 L770.3 967.9 L771.3 967.8 L772.3 967.8 L773.3 968.7 L774.3 968.5 L775.3 967.9 L776.3 968.5 L777.3 968.7 L778.3 968.3 L779.3 967.9 L780.3 968.3 L781.3 968.2 L782.3 968.0 L783.3 968.4 L784.3 967.8 L785.3 968.7 L786.3 968.5 L787.3 968.5 L788.3 968.8 L789.3 968.5 L790.3 968.1 L791.3 968.1 L792.3 968.0 L793.3 967.9 L794.3 968.6 L795.3 968.7 L796.3 968.2 L797.3 968.1 L798.3 968.5 L799.3 968.7 L800.3 968.8 L801.3 968.1 L802.3 968.7 L803.3 968.7 L804.3 968.7 L805.3 968.3 L806.3 968.2 L807.3 968.8 L808.3 968.3 L809.3 968.4 L810.3 968.5 L811.3 968.4 L812.3 968.8 L813.3 968.3 L814.3 968.1 L815.3 968.6 L816.3 968.6 L817.3 968.8 L818.3 968.6 L819.3 968.8 L820.3 968.7 L821.3 968.2 L822.3 968.0 L823.3 967.5 L824.3 967.2 L825.3 967.0 L826.3 965.9 L827.3 965.6 L828.3 964.0 L829.3 962.9 L830.3 961.6 L831.3 958.8 L832.3 956.3 L833.3 953.8 L834.3 950.4 L835.3 947.3 L836.3 942.9 L837.3 939.7 L838.3 935.7 L839.3 931.7 L840.3 927.7 L841.3 924.3 L842.3 921.9 L843.3 919.6 L844.3 918.2 L845.3 917.7 L846.3 918.1 L847.3 919.5 L848.3 921.6 L849.3 924.3 L850.3 926.9 L851.3 930.6 L852.3 934.7 L853.3 938.8 L854.3 942.6 L855.3 946.3 L856.3 949.8 L857.3 953.3 L858.3 956.3 L859.3 959.3 L860.3 961.4 L861.3 963.1 L862.3 964.7 L863.3 965.9 L864.3 966.5 L865.3 967.4 L866.3 967.3 L867.3 968.2 L868.3 968.4 L869.3 968.4 L870.3 968.8 L871.3 969.1 L872.3 968.9 L873.3 969.0 L874.3 968.8 L875.3 968.9 L876.3 969.3 L877.3 968.7 L878.3 968.8 L879.3 969.2 L880.3 969.0 L881.3 968.8 L882.3 969.2 L883.3 969.0 L884.3 969.2 L885.3 969.1 L886.3 969.1 L887.3 969.2 L888.3 969.1 L889.3 968.9 L890.3 968.9 L891.3 969.4 L892.3 969.2 L893.3 968.9 L894.3 969.4 L895.3 969.0 L896.3 968.8 L897.3 969.1 L898.3 968.9 L899.3 969.0 L900.3 968.9 L901.3 968.6 L902.3 968.7 L903.3 968.2 L904.3 968.3 L905.3 968.1 L906.3 967.4 L907.3 967.3 L908.3 966.8 L909.3 966.6 L910.3 966.4 L911.3 965.8 L912.3 965.5 L913.3 965.1 L914.3 964.3 L915.3 964.5 L916.3 964.1 L917.3 963.5 L918.3 963.8 L919.3 963.5 L920.3 963.5 L921.3 964.1 L922.3 964.1 L923.3 964.5 L924.3 964.5 L925.3 965.3 L926.3 965.3 L927.3 965.8 L928.3 966.4 L929.3 966.6 L930.3 967.3 L931.3 967.5 L932.3 967.9 L933.3 968.4 L934.3 968.5 L935.3 969.0 L936.3 969.0 L937.3 969.3 L938.3 969.3 L939.3 969.5 L940.3 969.6 L941.3 969.3 L942.3 969.6 L943.3 969.5 L944.3 969.7 L945.3 969.7 L946.3 969.8 L947.3 969.4 L948.3 969.6 L949.3 969.8 L950.3 969.9 L951.3 969.8 L952.3 969.5 L953.3 969.7 L954.3 969.5 L955.3 969.8 L956.3 969.9 L957.3 969.6 L958.3 970.0 L959.3 969.9 L960.3 969.7 L961.3 969.7 L962.3 969.8 L963.3 970.0 L964.3 969.9 L965.3 969.7 L966.3 969.7 L967.3 969.7 L968.3 970.0 L969.3 969.8 L970.3 970.0 L971.3 969.9 L972.3 970.0 L973.3 969.9 L974.3 969.9 L975.3 970.2 L976.3 970.0 L977.3 970.1 L978.3 970.2 L979.3 970.2 L980.3 969.9 L981.3 970.1 L982.3 970.0 L983.3 970.1 L984.3 970.3 L985.3 970.3 L986.3 970.0 L987.3 970.1 L988.3 970.3 L989.3 970.3 L990.3 970.2 L991.3 970.2 L992.3 970.2 L993.3 970.4 L994.3 970.3 L995.3 970.4 L996.3 970.4 L997.3 970.2 L998.3 970.3 L999.3 970.3 L1000.3 970.5 L1001.3 970.4 L1002.3 970.3 L1003.3 970.3 L1004.3 970.4 L1005.3 970.4 L1006.3 970.4 L1007.3 970.4 L1008.3 970.4 L1009.3 970.3 L1010.3 970.4 L1011.3 970.4 L1012.3 970.3 L1013.3 970.4 L1014.3 970.5 L1015.3 970.3 L1016.3 970.3 L1017.3 970.4 L1018.3 970.4 L1019.3 970.4 L1020.3 970.4 L1021.3 970.4 L1022.3 970.4 L1023.3 970.4 L1024.3 970.5 L1025.3 970.5 L1026.3 970.3 L1027.3 970.4 L1028.3 970.5 L1029.3 970.5 L1030.3 970.5 L1031.3 970.5 L1032.3 970.5 L1033.3 970.4 L1034.3 970.4 L1035.3 970.5 L1036.3 970.5 L1037.3 970.5 L1038.3 970.5 L1039.3 970.4 L1040.3 970.5 L1041.3 970.5 L1042.3 970.4 L1043.3 970.5 L1044.3 970.4 L1045.3 970.5 L1046.3 970.4 L1047.3 970.4 L1048.3 970.4 L1049.3 970.4 L1050.3 970.6 L1051.3 970.5 L1052.3 970.4 L1053.3 970.4 L1054.3 970.4 L1055.3 970.4 L1056.3 970.4 L1057.3 970.4 L1058.3 970.5 L1059.3 970.5 L1060.3 970.5 L1061.3 970.5 L1062.3 970.4 L1063.3 970.4 L1064.3 970.4 L1065.3 970.4 L1066.3 970.4 L1066.3 971.0 Z"/></defs>
<use href="#sp2path" fill="#fd0000"/>
<linearGradient id="bl2" gradientUnits="userSpaceOnUse" x1="63.3" y1="0" x2="1067.0" y2="0"><stop offset="0" stop-color="#b02a3c" stop-opacity="0.7"/><stop offset="0.870" stop-color="#8a5a78"/><stop offset="1" stop-color="#86a4b8"/></linearGradient>
<line x1="83.3" y1="972.2" x2="1067.0" y2="972.2" stroke="#f6cfd6" stroke-width="2"/>
<path d="M63.3 971.0 L63.8 971.0 L64.3 971.0 L64.8 971.0 L65.3 971.0 L65.8 971.0 L66.3 971.0 L66.8 971.0 L67.3 971.0 L67.8 971.0 L68.3 971.0 L68.8 971.0 L69.3 971.0 L69.8 971.0 L70.3 971.0 L70.8 971.0 L71.3 971.0 L71.8 971.0 L72.3 971.0 L72.8 971.0 L73.3 970.9 L73.8 970.8 L74.3 970.7 L74.8 970.6 L75.3 970.5 L75.8 970.3 L76.3 970.2 L76.8 970.0 L77.3 969.9 L77.8 969.7 L78.3 969.5 L78.8 969.4 L79.3 969.2 L79.8 969.1 L80.3 968.9 L80.8 968.8 L81.3 968.6 L81.8 968.5 L82.3 968.3 L82.8 968.2 L83.3 968.0 L83.8 967.9 L84.3 967.7 L84.8 967.6 L85.3 967.4 L85.8 967.3 L86.3 967.1 L86.8 966.9 L87.3 966.8 L87.8 966.6 L88.3 966.5 L88.8 966.3 L89.3 966.2 L89.8 966.1 L90.3 965.9 L90.8 965.8 L91.3 965.6 L91.8 965.5 L92.3 965.4 L92.8 965.2 L93.3 965.1 L93.8 965.0 L94.3 964.8 L94.8 964.7 L95.3 964.6 L95.8 964.5 L96.3 964.3 L96.8 964.2 L97.3 964.1 L97.8 964.0 L98.3 963.9 L98.8 963.8 L99.3 963.6 L99.8 963.5 L100.3 963.4 L100.8 963.3 L101.3 963.2 L101.8 963.1 L102.3 963.0 L102.8 962.9 L103.3 962.8 L103.8 962.7 L104.3 962.6 L104.8 962.4 L105.3 962.3 L105.8 962.2 L106.3 962.1 L106.8 962.0 L107.3 961.9 L107.8 961.8 L108.3 961.7 L108.8 961.6 L109.3 961.5 L109.8 961.5 L110.3 961.4 L110.8 961.3 L111.3 961.2 L111.8 961.2 L112.3 961.1 L112.8 961.1 L113.3 961.1 L113.8 961.0 L114.3 961.0 L114.8 961.0 L115.3 961.0 L115.8 961.0 L116.3 961.0 L116.8 961.0 L117.3 961.0 L117.8 961.0 L118.3 961.0 L118.8 961.0 L119.3 961.0 L119.8 961.0 L120.3 961.0 L120.8 961.0 L121.3 961.0 L121.8 961.0 L122.3 961.0 L122.8 961.0 L123.3 961.0 L123.8 961.0 L124.3 961.0 L124.8 961.0 L125.3 961.0 L125.8 961.0 L126.3 961.0 L126.8 961.0 L127.3 961.0 L127.8 961.0 L128.3 961.0 L128.8 961.0 L129.3 961.0 L129.8 961.0 L130.3 961.0 L130.8 961.0 L131.3 961.0 L131.8 961.1 L132.3 961.1 L132.8 961.2 L133.3 961.3 L133.8 961.3 L134.3 961.4 L134.8 961.5 L135.3 961.6 L135.8 961.7 L136.3 961.8 L136.8 962.0 L137.3 962.1 L137.8 962.2 L138.3 962.3 L138.8 962.5 L139.3 962.6 L139.8 962.7 L140.3 962.9 L140.8 963.0 L141.3 963.1 L141.8 963.3 L142.3 963.4 L142.8 963.5 L143.3 963.6 L143.8 963.7 L144.3 963.9 L144.8 964.0 L145.3 964.1 L145.8 964.2 L146.3 964.3 L146.8 964.4 L147.3 964.5 L147.8 964.6 L148.3 964.7 L148.8 964.9 L149.3 965.0 L149.8 965.1 L150.3 965.2 L150.8 965.3 L151.3 965.5 L151.8 965.6 L152.3 965.7 L152.8 965.8 L153.3 965.9 L153.8 966.0 L154.3 966.1 L154.8 966.2 L155.3 966.3 L155.8 966.4 L156.3 966.5 L156.8 966.6 L157.3 966.6 L157.8 966.7 L158.3 966.7 L158.8 966.8 L159.3 966.8 L159.8 966.8 L160.3 966.8 L161.3 966.8 L162.3 966.8 L163.3 966.8 L164.3 966.8 L165.3 966.8 L166.3 966.8 L167.3 966.8 L168.3 966.8 L169.3 966.8 L170.3 966.8 L171.3 966.8 L172.3 966.8 L173.3 966.8 L174.3 966.8 L175.3 966.9 L176.3 966.9 L177.3 966.9 L178.3 966.9 L179.3 966.9 L180.3 966.9 L181.3 966.9 L182.3 966.9 L183.3 966.9 L184.3 966.9 L185.3 966.9 L186.3 966.9 L187.3 966.9 L188.3 966.9 L189.3 966.9 L190.3 966.9 L191.3 966.9 L192.3 966.9 L193.3 966.9 L194.3 966.9 L195.3 966.9 L196.3 966.9 L197.3 966.9 L198.3 966.9 L199.3 966.9 L200.3 966.9 L201.3 966.9 L202.3 966.9 L203.3 966.9 L204.3 966.9 L205.3 966.9 L206.3 966.9 L207.3 966.9 L208.3 966.9 L209.3 966.9 L210.3 966.9 L211.3 966.9 L212.3 966.9 L213.3 966.9 L214.3 966.9 L215.3 966.9 L216.3 966.9 L217.3 966.9 L218.3 966.9 L219.3 966.9 L220.3 966.9 L221.3 966.9 L222.3 966.9 L223.3 966.9 L224.3 966.9 L225.3 966.9 L226.3 966.9 L227.3 966.9 L228.3 966.9 L229.3 966.9 L230.3 966.9 L231.3 966.9 L232.3 966.9 L233.3 966.9 L234.3 966.9 L235.3 966.9 L236.3 966.9 L237.3 966.9 L238.3 966.9 L239.3 966.9 L240.3 966.9 L241.3 966.9 L242.3 966.9 L243.3 966.9 L244.3 966.9 L245.3 966.9 L246.3 966.9 L247.3 966.9 L248.3 967.0 L249.3 967.0 L250.3 967.0 L251.3 967.0 L252.3 967.0 L253.3 967.0 L254.3 967.0 L255.3 967.0 L256.3 967.0 L257.3 967.0 L258.3 967.0 L259.3 967.0 L260.3 967.0 L261.3 967.0 L262.3 967.0 L263.3 967.0 L264.3 967.0 L265.3 967.0 L266.3 967.0 L267.3 967.0 L268.3 967.0 L269.3 967.0 L270.3 967.0 L271.3 967.0 L272.3 967.0 L273.3 967.0 L274.3 967.0 L275.3 967.0 L276.3 967.0 L277.3 967.0 L278.3 967.0 L279.3 967.0 L280.3 967.0 L281.3 967.0 L282.3 967.0 L283.3 967.0 L284.3 967.0 L285.3 967.0 L286.3 967.0 L287.3 967.0 L288.3 967.0 L289.3 967.0 L290.3 967.0 L291.3 967.0 L292.3 967.0 L293.3 967.0 L294.3 967.0 L295.3 967.0 L296.3 967.0 L297.3 967.0 L298.3 967.0 L299.3 967.0 L300.3 967.0 L301.3 967.0 L302.3 967.0 L303.3 967.0 L304.3 967.0 L305.3 967.0 L306.3 967.0 L307.3 967.0 L308.3 967.0 L309.3 967.0 L310.3 967.0 L311.3 967.0 L312.3 967.0 L313.3 967.0 L314.3 967.0 L315.3 967.0 L316.3 967.0 L317.3 967.0 L318.3 967.0 L319.3 967.0 L320.3 967.0 L321.3 967.0 L322.3 967.0 L323.3 967.0 L324.3 967.0 L325.3 967.0 L326.3 967.0 L327.3 967.0 L328.3 967.0 L329.3 967.1 L330.3 967.1 L331.3 967.1 L332.3 967.1 L333.3 967.1 L334.3 967.1 L335.3 967.1 L336.3 967.1 L337.3 967.1 L338.3 967.1 L339.3 967.1 L340.3 967.1 L341.3 967.1 L342.3 967.1 L343.3 967.1 L344.3 967.1 L345.3 967.1 L346.3 967.1 L347.3 967.1 L348.3 967.1 L349.3 967.1 L350.3 967.1 L351.3 967.1 L352.3 967.1 L353.3 967.1 L354.3 967.1 L355.3 967.1 L356.3 967.1 L357.3 967.1 L358.3 967.1 L359.3 967.1 L360.3 967.1 L361.3 967.1 L362.3 967.1 L363.3 967.1 L364.3 967.1 L365.3 967.1 L366.3 967.1 L367.3 967.1 L368.3 967.1 L369.3 967.1 L370.3 967.1 L371.3 967.1 L372.3 967.1 L373.3 967.1 L374.3 967.1 L375.3 967.1 L376.3 967.1 L377.3 967.1 L378.3 967.1 L379.3 967.2 L380.3 967.2 L381.3 967.2 L382.3 967.2 L383.3 967.2 L384.3 967.2 L385.3 967.2 L386.3 967.2 L387.3 967.2 L388.3 967.2 L389.3 967.2 L390.3 967.2 L391.3 967.2 L392.3 967.2 L393.3 967.2 L394.3 967.2 L395.3 967.2 L396.3 967.2 L397.3 967.2 L398.3 967.2 L399.3 967.2 L400.3 967.2 L401.3 967.2 L402.3 967.2 L403.3 967.2 L404.3 967.2 L405.3 967.2 L406.3 967.2 L407.3 967.2 L408.3 967.2 L409.3 967.2 L410.3 967.2 L411.3 967.2 L412.3 967.2 L413.3 967.2 L414.3 967.2 L415.3 967.2 L416.3 967.2 L417.3 967.2 L418.3 967.2 L419.3 967.3 L420.3 967.3 L421.3 967.3 L422.3 967.3 L423.3 967.3 L424.3 967.3 L425.3 967.3 L426.3 967.3 L427.3 967.3 L428.3 967.3 L429.3 967.3 L430.3 967.3 L431.3 967.3 L432.3 967.3 L433.3 967.3 L434.3 967.3 L435.3 967.3 L436.3 967.3 L437.3 967.3 L438.3 967.3 L439.3 967.3 L440.3 967.3 L441.3 967.3 L442.3 967.3 L443.3 967.3 L444.3 967.3 L445.3 967.3 L446.3 967.3 L447.3 967.3 L448.3 967.3 L449.3 967.3 L450.3 967.3 L451.3 967.3 L452.3 967.4 L453.3 967.4 L454.3 967.4 L455.3 967.4 L456.3 967.4 L457.3 967.4 L458.3 967.4 L459.3 967.4 L460.3 967.4 L461.3 967.4 L462.3 967.4 L463.3 967.4 L464.3 967.4 L465.3 967.4 L466.3 967.4 L467.3 967.4 L468.3 967.4 L469.3 967.4 L470.3 967.4 L471.3 967.4 L472.3 967.4 L473.3 967.4 L474.3 967.4 L475.3 967.4 L476.3 967.4 L477.3 967.4 L478.3 967.4 L479.3 967.4 L480.3 967.4 L481.3 967.5 L482.3 967.5 L483.3 967.5 L484.3 967.5 L485.3 967.5 L486.3 967.5 L487.3 967.5 L488.3 967.5 L489.3 967.5 L490.3 967.5 L491.3 967.5 L492.3 967.5 L493.3 967.5 L494.3 967.5 L495.3 967.5 L496.3 967.5 L497.3 967.5 L498.3 967.5 L499.3 967.5 L500.3 967.5 L501.3 967.5 L502.3 967.5 L503.3 967.5 L504.3 967.5 L505.3 967.5 L506.3 967.5 L507.3 967.5 L508.3 967.5 L509.3 967.6 L510.3 967.6 L511.3 967.6 L512.3 967.6 L513.3 967.6 L514.3 967.6 L515.3 967.6 L516.3 967.6 L517.3 967.6 L518.3 967.6 L519.3 967.6 L520.3 967.6 L521.3 967.6 L522.3 967.6 L523.3 967.6 L524.3 967.6 L525.3 967.6 L526.3 967.6 L527.3 967.6 L528.3 967.6 L529.3 967.6 L530.3 967.6 L531.3 967.6 L532.3 967.6 L533.3 967.6 L534.3 967.6 L535.3 967.7 L536.3 967.7 L537.3 967.7 L538.3 967.7 L539.3 967.7 L540.3 967.7 L541.3 967.7 L542.3 967.7 L543.3 967.7 L544.3 967.7 L545.3 967.7 L546.3 967.7 L547.3 967.7 L548.3 967.7 L549.3 967.7 L550.3 967.7 L551.3 967.7 L552.3 967.7 L553.3 967.7 L554.3 967.7 L555.3 967.7 L556.3 967.7 L557.3 967.7 L558.3 967.7 L559.3 967.7 L560.3 967.7 L561.3 967.8 L562.3 967.8 L563.3 967.8 L564.3 967.8 L565.3 967.8 L566.3 967.8 L567.3 967.8 L568.3 967.8 L569.3 967.8 L570.3 967.8 L571.3 967.8 L572.3 967.8 L573.3 967.8 L574.3 967.8 L575.3 967.8 L576.3 967.8 L577.3 967.8 L578.3 967.8 L579.3 967.8 L580.3 967.8 L581.3 967.8 L582.3 967.8 L583.3 967.8 L584.3 967.8 L585.3 967.8 L586.3 967.8 L587.3 967.9 L588.3 967.9 L589.3 967.9 L590.3 967.9 L591.3 967.9 L592.3 967.9 L593.3 967.9 L594.3 967.9 L595.3 967.9 L596.3 967.9 L597.3 967.9 L598.3 967.9 L599.3 967.9 L600.3 967.9 L601.3 967.9 L602.3 967.9 L603.3 967.9 L604.3 967.9 L605.3 967.9 L606.3 967.9 L607.3 967.9 L608.3 967.9 L609.3 967.9 L610.3 967.9 L611.3 967.9 L612.3 967.9 L613.3 967.9 L614.3 968.0 L615.3 968.0 L616.3 968.0 L617.3 968.0 L618.3 968.0 L619.3 968.0 L620.3 968.0 L621.3 968.0 L622.3 968.0 L623.3 968.0 L624.3 968.0 L625.3 968.0 L626.3 968.0 L627.3 968.0 L628.3 968.0 L629.3 968.0 L630.3 968.0 L631.3 968.0 L632.3 968.0 L633.3 968.0 L634.3 968.0 L635.3 968.0 L636.3 968.0 L637.3 968.0 L638.3 968.0 L639.3 968.0 L640.3 968.1 L641.3 968.1 L642.3 968.1 L643.3 968.1 L644.3 968.1 L645.3 968.1 L646.3 968.1 L647.3 968.1 L648.3 968.1 L649.3 968.1 L650.3 968.1 L651.3 968.1 L652.3 968.1 L653.3 968.1 L654.3 968.1 L655.3 968.1 L656.3 968.1 L657.3 968.1 L658.3 968.1 L659.3 968.1 L660.3 968.1 L661.3 968.1 L662.3 968.1 L663.3 968.1 L664.3 968.1 L665.3 968.1 L666.3 968.2 L667.3 968.2 L668.3 968.2 L669.3 968.2 L670.3 968.2 L671.3 968.2 L672.3 968.2 L673.3 968.2 L674.3 968.2 L675.3 968.2 L676.3 968.2 L677.3 968.2 L678.3 968.2 L679.3 968.2 L680.3 968.2 L681.3 968.2 L682.3 968.2 L683.3 968.2 L684.3 968.2 L685.3 968.2 L686.3 968.2 L687.3 968.2 L688.3 968.2 L689.3 968.2 L690.3 968.2 L691.3 968.2 L692.3 968.3 L693.3 968.3 L694.3 968.3 L695.3 968.3 L696.3 968.3 L697.3 968.3 L698.3 968.3 L699.3 968.3 L700.3 968.3 L701.3 968.3 L702.3 968.3 L703.3 968.3 L704.3 968.3 L705.3 968.3 L706.3 968.3 L707.3 968.3 L708.3 968.3 L709.3 968.3 L710.3 968.3 L711.3 968.3 L712.3 968.3 L713.3 968.3 L714.3 968.3 L715.3 968.3 L716.3 968.3 L717.3 968.4 L718.3 968.4 L719.3 968.4 L720.3 968.4 L721.3 968.4 L722.3 968.4 L723.3 968.4 L724.3 968.4 L725.3 968.4 L726.3 968.4 L727.3 968.4 L728.3 968.4 L729.3 968.4 L730.3 968.4 L731.3 968.4 L732.3 968.4 L733.3 968.4 L734.3 968.4 L735.3 968.4 L736.3 968.4 L737.3 968.4 L738.3 968.4 L739.3 968.4 L740.3 968.4 L741.3 968.5 L742.3 968.5 L743.3 968.5 L744.3 968.5 L745.3 968.5 L746.3 968.5 L747.3 968.5 L748.3 968.5 L749.3 968.5 L750.3 968.5 L751.3 968.5 L752.3 968.5 L753.3 968.5 L754.3 968.5 L755.3 968.5 L756.3 968.5 L757.3 968.5 L758.3 968.5 L759.3 968.5 L760.3 968.5 L761.3 968.5 L762.3 968.5 L763.3 968.5 L764.3 968.5 L765.3 968.6 L766.3 968.6 L767.3 968.6 L768.3 968.6 L769.3 968.6 L770.3 968.6 L771.3 968.6 L772.3 968.6 L773.3 968.6 L774.3 968.6 L775.3 968.6 L776.3 968.6 L777.3 968.6 L778.3 968.6 L779.3 968.6 L780.3 968.6 L781.3 968.6 L782.3 968.6 L783.3 968.6 L784.3 968.6 L785.3 968.6 L786.3 968.6 L787.3 968.6 L788.3 968.6 L789.3 968.7 L790.3 968.7 L791.3 968.7 L792.3 968.7 L793.3 968.7 L794.3 968.7 L795.3 968.7 L796.3 968.7 L797.3 968.7 L798.3 968.7 L799.3 968.7 L800.3 968.7 L801.3 968.7 L802.3 968.7 L803.3 968.7 L804.3 968.7 L805.3 968.7 L806.3 968.7 L807.3 968.7 L808.3 968.7 L809.3 968.7 L810.3 968.7 L811.3 968.7 L812.3 968.8 L813.3 968.8 L814.3 968.8 L815.3 968.8 L816.3 968.8 L817.3 968.8 L818.3 968.8 L819.3 968.8 L820.3 968.8 L821.3 968.8 L822.3 968.8 L823.3 968.8 L824.3 968.8 L825.3 968.8 L826.3 968.8 L827.3 968.8 L828.3 968.8 L829.3 968.8 L830.3 968.8 L831.3 968.8 L832.3 968.8 L833.3 968.8 L834.3 968.9 L835.3 968.9 L836.3 968.9 L837.3 968.9 L838.3 968.9 L839.3 968.9 L840.3 968.9 L841.3 968.9 L842.3 968.9 L843.3 968.9 L844.3 968.9 L845.3 968.9 L846.3 968.9 L847.3 968.9 L848.3 968.9 L849.3 968.9 L850.3 968.9 L851.3 968.9 L852.3 968.9 L853.3 968.9 L854.3 968.9 L855.3 969.0 L856.3 969.0 L857.3 969.0 L858.3 969.0 L859.3 969.0 L860.3 969.0 L861.3 969.0 L862.3 969.0 L863.3 969.0 L864.3 969.0 L865.3 969.0 L866.3 969.0 L867.3 969.0 L868.3 969.0 L869.3 969.0 L870.3 969.0 L871.3 969.0 L872.3 969.0 L873.3 969.0 L874.3 969.0 L875.3 969.0 L876.3 969.1 L877.3 969.1 L878.3 969.1 L879.3 969.1 L880.3 969.1 L881.3 969.1 L882.3 969.1 L883.3 969.1 L884.3 969.1 L885.3 969.1 L886.3 969.1 L887.3 969.1 L888.3 969.1 L889.3 969.1 L890.3 969.1 L891.3 969.1 L892.3 969.1 L893.3 969.1 L894.3 969.1 L895.3 969.1 L896.3 969.1 L897.3 969.2 L898.3 969.2 L899.3 969.2 L900.3 969.2 L901.3 969.2 L902.3 969.2 L903.3 969.2 L904.3 969.2 L905.3 969.2 L906.3 969.2 L907.3 969.2 L908.3 969.2 L909.3 969.2 L910.3 969.2 L911.3 969.2 L912.3 969.2 L913.3 969.2 L914.3 969.2 L915.3 969.2 L916.3 969.2 L917.3 969.3 L918.3 969.3 L919.3 969.3 L920.3 969.3 L921.3 969.3 L922.3 969.3 L923.3 969.3 L924.3 969.3 L925.3 969.3 L926.3 969.3 L927.3 969.3 L928.3 969.3 L929.3 969.3 L930.3 969.3 L931.3 969.3 L932.3 969.3 L933.3 969.3 L934.3 969.3 L935.3 969.3 L936.3 969.3 L937.3 969.4 L938.3 969.4 L939.3 969.4 L940.3 969.4 L941.3 969.4 L942.3 969.4 L943.3 969.4 L944.3 969.4 L945.3 969.4 L946.3 969.4 L947.3 969.4 L948.3 969.4 L949.3 969.4 L950.3 969.4 L951.3 969.4 L952.3 969.4 L953.3 969.4 L954.3 969.4 L955.3 969.4 L956.3 969.4 L957.3 969.5 L958.3 969.5 L959.3 969.5 L960.3 969.5 L961.3 969.5 L962.3 969.5 L963.3 969.5 L964.3 969.5 L965.3 969.5 L966.3 969.5 L967.3 969.5 L968.3 969.5 L969.3 969.5 L970.3 969.5 L971.3 969.5 L972.3 969.5 L973.3 969.5 L974.3 969.5 L975.3 969.5 L976.3 969.5 L977.3 969.6 L978.3 969.6 L979.3 969.6 L980.3 969.6 L981.3 969.6 L982.3 969.6 L983.3 969.6 L984.3 969.6 L985.3 969.6 L986.3 969.6 L987.3 969.6 L988.3 969.6 L989.3 969.6 L990.3 969.6 L991.3 969.6 L992.3 969.6 L993.3 969.6 L994.3 969.6 L995.3 969.6 L996.3 969.6 L997.3 969.7 L998.3 969.7 L999.3 969.7 L1000.3 969.7 L1001.3 969.7 L1002.3 969.7 L1003.3 969.7 L1004.3 969.7 L1005.3 969.7 L1006.3 969.7 L1007.3 969.7 L1008.3 969.7 L1009.3 969.7 L1010.3 969.7 L1011.3 969.7 L1012.3 969.7 L1013.3 969.7 L1014.3 969.7 L1015.3 969.7 L1016.3 969.7 L1017.3 969.8 L1018.3 969.8 L1019.3 969.8 L1020.3 969.8 L1021.3 969.8 L1022.3 969.8 L1023.3 969.8 L1024.3 969.8 L1025.3 969.8 L1026.3 969.8 L1027.3 969.8 L1028.3 969.8 L1029.3 969.8 L1030.3 969.8 L1031.3 969.8 L1032.3 969.8 L1033.3 969.8 L1034.3 969.8 L1035.3 969.8 L1036.3 969.8 L1037.3 969.9 L1038.3 969.9 L1039.3 969.9 L1040.3 969.9 L1041.3 969.9 L1042.3 969.9 L1043.3 969.9 L1044.3 969.9 L1045.3 969.9 L1046.3 969.9 L1047.3 969.9 L1048.3 969.9 L1049.3 969.9 L1050.3 969.9 L1051.3 969.9 L1052.3 969.9 L1053.3 969.9 L1054.3 969.9 L1055.3 969.9 L1056.3 969.9 L1057.3 970.0 L1058.3 970.0 L1059.3 970.0 L1060.3 970.0 L1061.3 970.0 L1062.3 970.0 L1063.3 970.0 L1064.3 970.0 L1065.3 970.0 L1066.3 970.0" fill="none" stroke="#7a2890" stroke-opacity="0.65" stroke-width="2"/>
<path d="M76.3 969.9 L76.8 969.6 L77.3 969.4 L77.8 969.1 L78.3 968.9 L78.8 968.6 L79.3 968.3 L79.8 968.1 L80.3 967.9 L80.8 967.6 L81.3 967.3 L81.8 967.1 L82.3 966.8 L82.8 966.6 L83.3 966.3 L83.8 966.0 L84.3 965.8 L84.8 965.5 L85.3 965.2 L85.8 964.9 L86.3 964.7 L86.8 964.4 L87.3 964.2 L87.8 963.9 L88.3 963.7 L88.8 963.5 L89.3 963.3 L89.8 963.1 L90.3 962.9 L90.8 962.7 L91.3 962.6 L91.8 962.5 L92.3 962.3 L92.8 962.2 L93.3 962.1 L93.8 962.0 L94.3 961.9 L94.8 961.8 L95.3 961.7 L95.8 961.6 L96.3 961.4 L96.8 961.3 L97.3 961.2 L97.8 961.1 L98.3 960.9 L98.8 960.8 L99.3 960.6 L99.8 960.5 L100.3 960.3 L100.8 960.2 L101.3 960.0 L101.8 959.8 L102.3 959.6 L102.8 959.5 L103.3 959.3 L103.8 959.1 L104.3 958.9 L104.8 958.7 L105.3 958.5 L105.8 958.3 L106.3 958.1 L106.8 957.9 L107.3 957.5 L107.8 957.2 L108.3 956.7 L108.8 955.7 L109.3 954.4 L109.8 952.8 L110.3 950.8 L110.8 948.5 L111.3 946.1 L111.8 943.0 L112.3 938.3 L112.8 932.7 L113.3 927.1" fill="none" stroke="#ffd8d8" stroke-width="1.2"/>
<path d="M63.3 971.0 L63.8 971.0 L64.3 971.0 L64.8 971.0 L65.3 971.0 L65.8 971.0 L66.3 970.9 L66.8 970.9 L67.3 970.9 L67.8 970.9 L68.3 970.9 L68.8 970.9 L69.3 970.9 L69.8 970.9 L70.3 970.9 L70.8 970.8 L71.3 970.8 L71.8 970.8 L72.3 970.8 L72.8 970.7 L73.3 970.6 L73.8 970.5 L74.3 970.3 L74.8 970.2 L75.3 970.0 L75.8 969.7 L76.3 969.5 L76.8 969.2 L77.3 968.9 L77.8 968.6 L78.3 968.2 L78.8 967.9 L79.3 967.5 L79.8 967.2 L80.3 966.8 L80.8 966.3 L81.3 965.9 L81.8 965.3 L82.3 964.8 L82.8 964.1 L83.3 963.3 L83.8 962.4 L84.3 961.4 L84.8 960.2 L85.3 958.9 L85.8 957.4 L86.3 955.7 L86.8 953.3 L87.3 948.0 L87.8 940.7 L88.3 932.1 L88.8 923.4 L89.3 914.8 L89.8 905.0 L90.3 894.4 L90.8 883.5 L91.3 873.0 L91.8 863.4 L92.3 855.0 L92.8 846.6 L93.3 838.7 L93.8 831.8 L94.3 826.5 L94.8 823.0 L95.3 820.1 L95.8 818.4 L96.3 818.6 L96.8 820.6 L97.3 823.7 L97.8 827.4 L98.3 833.0 L98.8 840.2 L99.3 848.3 L99.8 856.7 L100.3 865.2 L100.8 875.1 L101.3 885.9 L101.8 896.9 L102.3 907.4 L102.8 916.7 L103.3 924.8 L103.8 933.1 L104.3 941.1 L104.8 948.3 L105.3 954.0 L105.8 957.4 L106.3 958.5 L106.8 959.2 L107.3 959.7 L107.8 960.0 L108.3 959.8 L108.8 958.8 L109.3 957.1 L109.8 954.8 L110.3 952.1 L110.8 949.2 L111.3 945.9 L111.8 941.1 L112.3 935.2 L112.8 928.8 L113.3 922.5 L113.8 916.9 L114.3 912.2 L114.8 907.1 L115.3 902.0 L115.8 897.4 L116.3 894.0 L116.8 892.1 L117.3 892.2 L117.8 893.8 L118.3 896.3 L118.8 899.3 L119.3 902.1 L119.8 904.4 L120.3 905.8 L120.8 907.0 L121.3 908.2 L121.8 909.4 L122.3 910.3 L122.8 911.1 L123.3 911.7 L123.8 912.0 L124.3 912.0 L124.8 912.0 L125.3 912.0 L125.8 912.0 L126.3 912.0 L126.8 912.0 L127.3 912.0 L127.8 912.0 L128.3 912.0 L128.8 912.0 L129.3 912.0 L129.8 912.0 L130.3 911.9 L130.8 911.5 L131.3 910.6 L131.8 909.4 L132.3 907.8 L132.8 905.9 L133.3 902.1 L133.8 892.0 L134.3 878.3 L134.8 864.6 L135.3 853.4 L135.8 842.0 L136.3 830.4 L136.8 819.5 L137.3 809.9 L137.8 802.3 L138.3 796.8 L138.8 791.9 L139.3 788.9 L139.8 790.0 L140.3 797.1 L140.8 806.5 L141.3 815.0 L141.8 824.2 L142.3 834.1 L142.8 844.3 L143.3 854.8 L143.8 865.2 L144.3 875.3 L144.8 884.8 L145.3 893.9 L145.8 902.6 L146.3 911.4 L146.8 920.8 L147.3 931.2 L147.8 940.0 L148.3 945.3 L148.8 949.9 L149.3 954.0 L149.8 957.5 L150.3 960.3 L150.8 962.3 L151.3 963.3 L151.8 963.8 L152.3 964.2 L152.8 964.5 L153.3 964.7 L153.8 964.9 L154.3 965.1 L154.8 965.4 M315.4 966.3 L315.9 966.3 L316.4 966.2 L316.9 966.2 L317.4 966.1 L317.9 966.1 L318.4 966.0 L318.9 965.9 L319.4 965.7 L319.9 965.6 L320.4 965.4 L320.9 965.2 L321.4 964.9 L321.9 964.6 L322.4 964.3 L322.9 964.0 L323.4 963.6 L323.9 963.2 L324.4 962.8 L324.9 962.3 L325.4 961.9 L325.9 961.5 L326.4 961.1 L326.9 960.8 L327.4 960.5 L327.9 960.2 L328.4 960.0 L328.9 959.9 L329.4 959.9 L329.9 959.9 L330.4 960.0 L330.9 960.2 L331.4 960.5 L331.9 960.8 L332.4 961.1 L332.9 961.5 L333.4 961.9 L333.9 962.4 L334.4 962.8 L334.9 963.2 L335.4 963.6 L335.9 964.0 L336.4 964.3 L336.9 964.7 L337.4 964.9 L337.9 965.2 L338.4 965.4 L338.9 965.6 L339.4 965.8 L339.9 965.9 L340.4 966.0 L340.9 966.0 L341.4 966.1 L341.9 966.1 L342.4 966.2 L342.9 966.2 L343.4 966.2" fill="none" stroke="#a8f0f4" stroke-opacity="0.75" stroke-width="2"/><path d="M63.3 971.0 L63.8 971.0 L64.3 971.0 L64.8 971.0 L65.3 971.0 L65.8 971.0 L66.3 970.9 L66.8 970.9 L67.3 970.9 L67.8 970.9 L68.3 970.9 L68.8 970.9 L69.3 970.9 L69.8 970.9 L70.3 970.9 L70.8 970.8 L71.3 970.8 L71.8 970.8 L72.3 970.8 L72.8 970.7 L73.3 970.6 L73.8 970.5 L74.3 970.3 L74.8 970.2 L75.3 970.0 L75.8 969.7 L76.3 969.5 L76.8 969.2 L77.3 968.9 L77.8 968.6 L78.3 968.2 L78.8 967.9 L79.3 967.5 L79.8 967.2 L80.3 966.8 L80.8 966.3 L81.3 965.9 L81.8 965.3 L82.3 964.8 L82.8 964.1 L83.3 963.3 L83.8 962.4 L84.3 961.4 L84.8 960.2 L85.3 958.9 L85.8 957.4 L86.3 955.7 L86.8 953.3 L87.3 948.0 L87.8 940.7 L88.3 932.1 L88.8 923.4 L89.3 914.8 L89.8 905.0 L90.3 894.4 L90.8 883.5 L91.3 873.0 L91.8 863.4 L92.3 855.0 L92.8 846.6 L93.3 838.7 L93.8 831.8 L94.3 826.5 L94.8 823.0 L95.3 820.1 L95.8 818.4 L96.3 818.6 L96.8 820.6 L97.3 823.7 L97.8 827.4 L98.3 833.0 L98.8 840.2 L99.3 848.3 L99.8 856.7 L100.3 865.2 L100.8 875.1 L101.3 885.9 L101.8 896.9 L102.3 907.4 L102.8 916.7 L103.3 924.8 L103.8 933.1 L104.3 941.1 L104.8 948.3 L105.3 954.0 L105.8 957.4 L106.3 958.5 L106.8 959.2 L107.3 959.7 L107.8 960.0 L108.3 959.8 L108.8 958.8 L109.3 957.1 L109.8 954.8 L110.3 952.1 L110.8 949.2 L111.3 945.9 L111.8 941.1 L112.3 935.2 L112.8 928.8 L113.3 922.5 L113.8 916.9 L114.3 912.2 L114.8 907.1 L115.3 902.0 L115.8 897.4 L116.3 894.0 L116.8 892.1 L117.3 892.2 L117.8 893.8 L118.3 896.3 L118.8 899.3 L119.3 902.1 L119.8 904.4 L120.3 905.8 L120.8 907.0 L121.3 908.2 L121.8 909.4 L122.3 910.3 L122.8 911.1 L123.3 911.7 L123.8 912.0 L124.3 912.0 L124.8 912.0 L125.3 912.0 L125.8 912.0 L126.3 912.0 L126.8 912.0 L127.3 912.0 L127.8 912.0 L128.3 912.0 L128.8 912.0 L129.3 912.0 L129.8 912.0 L130.3 911.9 L130.8 911.5 L131.3 910.6 L131.8 909.4 L132.3 907.8 L132.8 905.9 L133.3 902.1 L133.8 892.0 L134.3 878.3 L134.8 864.6 L135.3 853.4 L135.8 842.0 L136.3 830.4 L136.8 819.5 L137.3 809.9 L137.8 802.3 L138.3 796.8 L138.8 791.9 L139.3 788.9 L139.8 790.0 L140.3 797.1 L140.8 806.5 L141.3 815.0 L141.8 824.2 L142.3 834.1 L142.8 844.3 L143.3 854.8 L143.8 865.2 L144.3 875.3 L144.8 884.8 L145.3 893.9 L145.8 902.6 L146.3 911.4 L146.8 920.8 L147.3 931.2 L147.8 940.0 L148.3 945.3 L148.8 949.9 L149.3 954.0 L149.8 957.5 L150.3 960.3 L150.8 962.3 L151.3 963.3 L151.8 963.8 L152.3 964.2 L152.8 964.5 L153.3 964.7 L153.8 964.9 L154.3 965.1 L154.8 965.4 M315.4 966.3 L315.9 966.3 L316.4 966.2 L316.9 966.2 L317.4 966.1 L317.9 966.1 L318.4 966.0 L318.9 965.9 L319.4 965.7 L319.9 965.6 L320.4 965.4 L320.9 965.2 L321.4 964.9 L321.9 964.6 L322.4 964.3 L322.9 964.0 L323.4 963.6 L323.9 963.2 L324.4 962.8 L324.9 962.3 L325.4 961.9 L325.9 961.5 L326.4 961.1 L326.9 960.8 L327.4 960.5 L327.9 960.2 L328.4 960.0 L328.9 959.9 L329.4 959.9 L329.9 959.9 L330.4 960.0 L330.9 960.2 L331.4 960.5 L331.9 960.8 L332.4 961.1 L332.9 961.5 L333.4 961.9 L333.9 962.4 L334.4 962.8 L334.9 963.2 L335.4 963.6 L335.9 964.0 L336.4 964.3 L336.9 964.7 L337.4 964.9 L337.9 965.2 L338.4 965.4 L338.9 965.6 L339.4 965.8 L339.9 965.9 L340.4 966.0 L340.9 966.0 L341.4 966.1 L341.9 966.1 L342.4 966.2 L342.9 966.2 L343.4 966.2" fill="none" stroke="#78b8bc" stroke-opacity="0.85" stroke-width="0.8"/>
<path d="M63.3 971.0 L63.8 971.0 L64.3 971.0 L64.8 971.0 L65.3 971.0 L65.8 971.0 L66.3 971.0 L66.8 971.0 L67.3 971.0 L67.8 971.0 L68.3 971.0 L68.8 971.0 L69.3 971.0 L69.8 971.0 L70.3 971.0 L70.8 971.0 L71.3 971.0 L71.8 971.0 L72.3 971.0 L72.8 971.0 L73.3 970.9 L73.8 970.8 L74.3 970.7 L74.8 970.5 L75.3 970.4 L75.8 970.2 L76.3 970.0 L76.8 969.8 L77.3 969.6 L77.8 969.2 L78.3 968.8 L78.8 968.3 L79.3 967.8 L79.8 967.3 L80.3 966.8 L80.8 966.2 L81.3 965.7 L81.8 965.1 L82.3 964.6 L82.8 964.1 L83.3 963.5 L83.8 962.8 L84.3 962.1 L84.8 961.4 L85.3 960.5 L85.8 959.5 L86.3 958.3 L86.8 956.9 L87.3 954.6 L87.8 951.7 L88.3 948.2 L88.8 944.3 L89.3 940.1 L89.8 935.8 L90.3 930.6 L90.8 924.3 L91.3 917.6 L91.8 911.6 L92.3 906.6 L92.8 901.8 L93.3 897.5 L93.8 894.1 L94.3 891.5 L94.8 889.2 L95.3 887.3 L95.8 886.4 L96.3 887.3 L96.8 890.1 L97.3 893.6 L97.8 897.1 L98.3 901.1 L98.8 905.6 L99.3 910.2 L99.8 914.7 L100.3 919.2 L100.8 923.8 L101.3 928.3 L101.8 932.7 L102.3 937.3 L102.8 941.2 L103.3 943.9 L103.8 946.2 L104.3 948.1 L104.8 949.5 L105.3 950.6 L105.8 951.6 L106.3 952.5 L106.8 953.1 L107.3 953.4 L107.8 953.2 L108.3 952.6 L108.8 951.6 L109.3 950.5 L109.8 949.2 L110.3 947.5 L110.8 945.5 L111.3 943.0 L111.8 940.2 L112.3 936.4 L112.8 931.6 L113.3 926.7 L113.8 922.4 L114.3 918.0 L114.8 914.6 L115.3 912.9 L115.8 911.5 L116.3 910.5 L116.8 909.8 L117.3 909.5 L117.8 910.1 L118.3 911.5 L118.8 913.2 L119.3 914.6 L119.8 915.4 L120.3 916.1 L120.8 916.6 L121.3 917.1 L121.8 917.5 L122.3 917.9 L122.8 918.3 L123.3 918.6 L123.8 919.0 L124.3 919.3 L124.8 919.6 L125.3 919.8 L125.8 920.0 L126.3 920.1 L126.8 920.2 L127.3 920.2 L127.8 920.3 L128.3 920.4 L128.8 920.4 L129.3 920.4 L129.8 920.3 L130.3 920.0 L130.8 919.6 L131.3 919.2 L131.8 918.7 L132.3 918.3 L132.8 917.7 L133.3 916.9 L133.8 915.5 L134.3 908.6 L134.8 896.9 L135.3 884.3 L135.8 874.1 L136.3 864.3 L136.8 854.2 L137.3 842.6 L137.8 828.5 L138.3 817.3 L138.8 812.9 L139.3 810.0 L139.8 808.0 L140.3 807.3 L140.8 810.4 L141.3 817.8 L141.8 826.7 L142.3 835.0 L142.8 844.3 L143.3 854.5 L143.8 865.0 L144.3 875.2 L144.8 884.8 L145.3 893.9 L145.8 902.6 L146.3 911.4 L146.8 920.8 L147.3 931.2 L147.8 940.0 L148.3 945.3 L148.8 949.9 L149.3 954.0 L149.8 957.5 L150.3 960.3 L150.8 962.3 L151.3 963.3 L151.8 963.8 L152.3 964.3 L152.8 964.7 L153.3 965.0 L153.8 965.2 L154.3 965.4 L154.8 965.5 L155.3 965.5 L155.8 965.5 L156.3 965.5 L156.8 965.5 L157.3 965.5 L157.8 965.5 L158.3 965.5 L158.8 965.5 L159.3 965.5 L159.8 965.5 L160.3 966.4 L161.3 965.0 L162.3 966.3 L163.3 965.9 L164.3 965.2 L165.3 965.6 L166.3 965.4 L167.3 965.3 L168.3 965.2 L169.3 965.5 L170.3 966.4 L171.3 966.4 L172.3 966.3 L173.3 965.1 L174.3 965.4 L175.3 966.3 L176.3 965.0 L177.3 966.1 L178.3 965.4 L179.3 966.4 L180.3 965.0 L181.3 966.2 L182.3 965.5 L183.3 965.2 L184.3 965.0 L185.3 966.2 L186.3 965.8 L187.3 965.3 L188.3 965.7 L189.3 966.4 L190.3 965.3 L191.3 965.9 L192.3 965.2 L193.3 965.3 L194.3 966.2 L195.3 966.1 L196.3 965.3 L197.3 965.2 L198.3 965.2 L199.3 966.0 L200.3 965.8 L201.3 965.5 L202.3 965.4 L203.3 966.0 L204.3 966.1 L205.3 966.3 L206.3 965.9 L207.3 965.4 L208.3 965.2 L209.3 966.2 L210.3 965.7 L211.3 966.2 L212.3 965.2 L213.3 966.3 L214.3 965.6 L215.3 966.4 L216.3 966.4 L217.3 965.8 L218.3 965.1 L219.3 966.5 L220.3 965.8 L221.3 966.4 L222.3 965.5 L223.3 965.4 L224.3 966.4 L225.3 965.7 L226.3 965.4 L227.3 965.7 L228.3 966.0 L229.3 965.2 L230.3 965.9 L231.3 965.8 L232.3 965.9 L233.3 965.3 L234.3 966.2 L235.3 966.4 L236.3 966.5 L237.3 965.7 L238.3 966.2 L239.3 965.8 L240.3 966.3 L241.3 965.3 L242.3 966.5 L243.3 966.6 L244.3 965.9 L245.3 966.0 L246.3 966.0 L247.3 966.0 L248.3 965.2 L249.3 966.7 L250.3 965.6 L251.3 965.5 L252.3 965.4 L253.3 965.6 L254.3 966.5 L255.3 965.3 L256.3 965.4 L257.3 966.3 L258.3 965.5 L259.3 965.3 L260.3 966.2 L261.3 966.1 L262.3 966.0 L263.3 966.3 L264.3 965.4 L265.3 966.6 L266.3 966.4 L267.3 965.4 L268.3 965.5 L269.3 966.0 L270.3 966.0 L271.3 965.7 L272.3 965.5 L273.3 965.9 L274.3 965.5 L275.3 966.2 L276.3 966.6 L277.3 965.5 L278.3 966.2 L279.3 966.4 L280.3 965.6 L281.3 966.6 L282.3 966.7 L283.3 965.9 L284.3 966.0 L285.3 966.6 L286.3 966.1 L287.3 965.9 L288.3 966.8 L289.3 966.5 L290.3 965.9 L291.3 965.7 L292.3 965.9 L293.3 966.0 L294.3 966.9 L295.3 966.6 L296.3 966.8 L297.3 966.6 L298.3 966.7 L299.3 965.5 L300.3 966.2 L301.3 966.8 L302.3 966.8 L303.3 965.8 L304.3 966.0 L305.3 966.4 L306.3 966.0 L307.3 966.2 L308.3 965.5 L309.3 966.1 L310.3 966.2 L311.3 965.5 L312.3 965.6 L313.3 966.9 L314.3 966.6 L315.3 966.8 L316.3 966.4 L317.3 966.6 L318.3 966.7 L319.3 966.6 L320.3 965.2 L321.3 966.0 L322.3 965.3 L323.3 965.8 L324.3 965.0 L325.3 965.2 L326.3 965.6 L327.3 965.0 L328.3 964.4 L329.3 964.8 L330.3 964.7 L331.3 965.5 L332.3 964.7 L333.3 964.8 L334.3 965.5 L335.3 964.9 L336.3 965.8 L337.3 966.5 L338.3 966.0 L339.3 965.7 L340.3 966.0 L341.3 966.1 L342.3 965.6 L343.3 965.5 L344.3 965.5 L345.3 965.6 L346.3 965.7 L347.3 965.4 L348.3 965.3 L349.3 964.9 L350.3 965.5 L351.3 965.8 L352.3 965.4 L353.3 965.3 L354.3 965.3 L355.3 964.7 L356.3 965.5 L357.3 965.1 L358.3 965.4 L359.3 965.6 L360.3 965.5 L361.3 965.4 L362.3 965.4 L363.3 965.5 L364.3 966.0 L365.3 965.9 L366.3 966.3 L367.3 965.5 L368.3 966.0 L369.3 966.8 L370.3 965.9 L371.3 966.4 L372.3 966.3 L373.3 966.0 L374.3 967.1 L375.3 966.1 L376.3 966.8 L377.3 965.9 L378.3 965.7 L379.3 966.9 L380.3 966.3 L381.3 965.7 L382.3 966.2 L383.3 966.3 L384.3 966.8 L385.3 965.8 L386.3 966.0 L387.3 967.1 L388.3 966.8 L389.3 965.9 L390.3 966.2 L391.3 966.2 L392.3 966.7 L393.3 966.6 L394.3 966.9 L395.3 966.8 L396.3 966.2 L397.3 966.3 L398.3 966.1 L399.3 965.7 L400.3 964.8 L401.3 964.5 L402.3 963.5 L403.3 962.7 L404.3 960.2 L405.3 959.9 L406.3 957.0 L407.3 956.6 L408.3 954.8 L409.3 953.4 L410.3 953.1 L411.3 951.8 L412.3 951.3 L413.3 951.8 L414.3 952.3 L415.3 952.4 L416.3 952.7 L417.3 953.4 L418.3 954.1 L419.3 955.1 L420.3 955.0 L421.3 955.7 L422.3 956.5 L423.3 956.9 L424.3 957.5 L425.3 959.0 L426.3 960.0 L427.3 960.4 L428.3 961.3 L429.3 961.9 L430.3 962.9 L431.3 963.5 L432.3 964.8 L433.3 965.3 L434.3 965.0 L435.3 966.6 L436.3 965.9 L437.3 966.8 L438.3 966.9 L439.3 967.2 L440.3 966.1 L441.3 966.5 L442.3 967.2 L443.3 965.9 L444.3 965.9 L445.3 966.7 L446.3 966.6 L447.3 967.2 L448.3 967.0 L449.3 966.6 L450.3 967.2 L451.3 966.5 L452.3 966.4 L453.3 966.5 L454.3 966.0 L455.3 965.8 L456.3 966.1 L457.3 965.6 L458.3 966.4 L459.3 966.0 L460.3 965.7 L461.3 965.1 L462.3 965.6 L463.3 965.8 L464.3 966.1 L465.3 966.3 L466.3 966.8 L467.3 967.1 L468.3 966.5 L469.3 966.5 L470.3 966.8 L471.3 967.4 L472.3 966.5 L473.3 966.8 L474.3 967.2 L475.3 966.2 L476.3 966.5 L477.3 967.5 L478.3 967.3 L479.3 966.8 L480.3 966.2 L481.3 967.4 L482.3 967.1 L483.3 967.3 L484.3 967.5 L485.3 967.4 L486.3 966.7 L487.3 966.3 L488.3 966.5 L489.3 966.8 L490.3 966.8 L491.3 966.3 L492.3 966.3 L493.3 967.0 L494.3 967.0 L495.3 966.6 L496.3 967.6 L497.3 967.0 L498.3 966.2 L499.3 966.7 L500.3 967.3 L501.3 966.6 L502.3 967.1 L503.3 966.1 L504.3 966.6 L505.3 967.4 L506.3 967.0 L507.3 967.1 L508.3 966.4 L509.3 966.9 L510.3 967.0 L511.3 966.5 L512.3 967.1 L513.3 967.0 L514.3 967.6 L515.3 967.0 L516.3 966.8 L517.3 966.4 L518.3 966.4 L519.3 967.3 L520.3 966.4 L521.3 966.4 L522.3 966.5 L523.3 967.0 L524.3 967.4 L525.3 967.1 L526.3 967.4 L527.3 966.3 L528.3 966.3 L529.3 967.4 L530.3 966.7 L531.3 967.3 L532.3 966.8 L533.3 966.5 L534.3 966.7 L535.3 966.4 L536.3 967.6 L537.3 967.1 L538.3 966.8 L539.3 966.9 L540.3 966.9 L541.3 966.4 L542.3 967.6 L543.3 967.1 L544.3 967.7 L545.3 967.0 L546.3 967.2 L547.3 966.7 L548.3 966.4 L549.3 967.7 L550.3 967.6 L551.3 966.8 L552.3 967.6 L553.3 967.5 L554.3 966.8 L555.3 967.2 L556.3 967.7 L557.3 967.1 L558.3 967.7 L559.3 966.7 L560.3 966.9 L561.3 967.4 L562.3 966.6 L563.3 966.7 L564.3 967.4 L565.3 966.8 L566.3 967.0 L567.3 966.1 L568.3 965.8 L569.3 965.8 L570.3 965.3 L571.3 966.1 L572.3 964.9 L573.3 965.1 L574.3 964.4 L575.3 964.9 L576.3 964.8 L577.3 964.9 L578.3 964.7 L579.3 965.0 L580.3 966.3 L581.3 965.9 L582.3 966.0 L583.3 966.2 L584.3 966.5 L585.3 966.6 L586.3 966.4 L587.3 967.3 L588.3 966.9 L589.3 966.7 L590.3 967.5 L591.3 966.7 L592.3 966.9 L593.3 967.7 L594.3 966.7 L595.3 967.2 L596.3 967.7 L597.3 967.7 L598.3 966.8 L599.3 967.1 L600.3 967.6 L601.3 967.1 L602.3 967.9 L603.3 966.9 L604.3 967.9 L605.3 967.3 L606.3 966.9 L607.3 967.2 L608.3 966.8 L609.3 967.6 L610.3 967.0 L611.3 967.9 L612.3 967.5 L613.3 967.2 L614.3 967.0 L615.3 967.5 L616.3 967.0 L617.3 967.9 L618.3 966.9 L619.3 967.4 L620.3 967.4 L621.3 967.1 L622.3 967.7 L623.3 967.2 L624.3 967.6 L625.3 967.5 L626.3 967.2 L627.3 967.3 L628.3 966.9 L629.3 967.0 L630.3 967.9 L631.3 967.2 L632.3 967.7 L633.3 967.0 L634.3 967.5 L635.3 967.3 L636.3 967.5 L637.3 967.2 L638.3 966.9 L639.3 967.2 L640.3 967.1 L641.3 967.0 L642.3 967.8 L643.3 967.2 L644.3 967.4 L645.3 968.0 L646.3 967.9 L647.3 968.0 L648.3 968.0 L649.3 967.1 L650.3 967.3 L651.3 967.0 L652.3 967.8 L653.3 967.8 L654.3 967.4 L655.3 967.5 L656.3 967.8 L657.3 967.8 L658.3 967.3 L659.3 968.0 L660.3 967.4 L661.3 967.8 L662.3 967.2 L663.3 967.2 L664.3 968.1 L665.3 967.9 L666.3 967.9 L667.3 967.1 L668.3 967.1 L669.3 967.3 L670.3 967.3 L671.3 967.4 L672.3 967.5 L673.3 967.1 L674.3 967.5 L675.3 967.9 L676.3 967.3 L677.3 968.1 L678.3 967.8 L679.3 968.0 L680.3 967.4 L681.3 967.7 L682.3 968.0 L683.3 967.6 L684.3 967.2 L685.3 968.1 L686.3 968.1 L687.3 967.5 L688.3 967.2 L689.3 968.2 L690.3 967.9 L691.3 967.3 L692.3 967.5 L693.3 967.3 L694.3 968.1 L695.3 967.5 L696.3 968.3 L697.3 968.1 L698.3 967.4 L699.3 968.1 L700.3 967.7 L701.3 968.1 L702.3 968.2 L703.3 967.6 L704.3 967.4 L705.3 968.4 L706.3 967.8 L707.3 968.4 L708.3 968.1 L709.3 968.2 L710.3 968.3 L711.3 968.0 L712.3 967.9 L713.3 967.4 L714.3 968.1 L715.3 967.8 L716.3 967.9 L717.3 968.4 L718.3 967.5 L719.3 968.2 L720.3 967.4 L721.3 968.2 L722.3 968.3 L723.3 967.7 L724.3 968.0 L725.3 968.5 L726.3 968.1 L727.3 968.0 L728.3 967.7 L729.3 967.5 L730.3 967.9 L731.3 967.9 L732.3 967.7 L733.3 967.8 L734.3 967.6 L735.3 968.3 L736.3 968.2 L737.3 967.8 L738.3 967.8 L739.3 968.1 L740.3 968.0 L741.3 968.5 L742.3 967.9 L743.3 967.9 L744.3 968.5 L745.3 967.7 L746.3 968.2 L747.3 967.9 L748.3 968.4 L749.3 968.2 L750.3 968.4 L751.3 967.8 L752.3 968.3 L753.3 968.2 L754.3 968.1 L755.3 968.4 L756.3 968.5 L757.3 967.8 L758.3 968.0 L759.3 968.0 L760.3 967.9 L761.3 967.7 L762.3 968.0 L763.3 967.9 L764.3 968.4 L765.3 968.2 L766.3 967.8 L767.3 968.0 L768.3 968.2 L769.3 968.1 L770.3 967.9 L771.3 967.8 L772.3 967.8 L773.3 968.7 L774.3 968.5 L775.3 967.9 L776.3 968.5 L777.3 968.7 L778.3 968.3 L779.3 967.9 L780.3 968.3 L781.3 968.2 L782.3 968.0 L783.3 968.4 L784.3 967.8 L785.3 968.7 L786.3 968.5 L787.3 968.5 L788.3 968.8 L789.3 968.5 L790.3 968.1 L791.3 968.1 L792.3 968.0 L793.3 967.9 L794.3 968.6 L795.3 968.7 L796.3 968.2 L797.3 968.1 L798.3 968.5 L799.3 968.7 L800.3 968.8 L801.3 968.1 L802.3 968.7 L803.3 968.7 L804.3 968.7 L805.3 968.3 L806.3 968.2 L807.3 968.8 L808.3 968.3 L809.3 968.4 L810.3 968.5 L811.3 968.4 L812.3 968.8 L813.3 968.3 L814.3 968.1 L815.3 968.6 L816.3 968.6 L817.3 968.8 L818.3 968.6 L819.3 968.8 L820.3 968.7 L821.3 968.2 L822.3 968.0 L823.3 967.5 L824.3 967.2 L825.3 967.0 L826.3 965.9 L827.3 965.6 L828.3 964.0 L829.3 962.9 L830.3 961.6 L831.3 958.8 L832.3 956.3 L833.3 953.8 L834.3 950.4 L835.3 947.3 L836.3 942.9 L837.3 939.7 L838.3 935.7 L839.3 931.7 L840.3 927.7 L841.3 924.3 L842.3 921.9 L843.3 919.6 L844.3 918.2 L845.3 917.7 L846.3 918.1 L847.3 919.5 L848.3 921.6 L849.3 924.3 L850.3 926.9 L851.3 930.6 L852.3 934.7 L853.3 938.8 L854.3 942.6 L855.3 946.3 L856.3 949.8 L857.3 953.3 L858.3 956.3 L859.3 959.3 L860.3 961.4 L861.3 963.1 L862.3 964.7 L863.3 965.9 L864.3 966.5 L865.3 967.4 L866.3 967.3 L867.3 968.2 L868.3 968.4 L869.3 968.4 L870.3 968.8 L871.3 969.1 L872.3 968.9 L873.3 969.0 L874.3 968.8 L875.3 968.9 L876.3 969.3 L877.3 968.7 L878.3 968.8 L879.3 969.2 L880.3 969.0 L881.3 968.8 L882.3 969.2 L883.3 969.0 L884.3 969.2 L885.3 969.1 L886.3 969.1 L887.3 969.2 L888.3 969.1 L889.3 968.9 L890.3 968.9 L891.3 969.4 L892.3 969.2 L893.3 968.9 L894.3 969.4 L895.3 969.0 L896.3 968.8 L897.3 969.1 L898.3 968.9 L899.3 969.0 L900.3 968.9 L901.3 968.6 L902.3 968.7 L903.3 968.2 L904.3 968.3 L905.3 968.1 L906.3 967.4 L907.3 967.3 L908.3 966.8 L909.3 966.6 L910.3 966.4 L911.3 965.8 L912.3 965.5 L913.3 965.1 L914.3 964.3 L915.3 964.5 L916.3 964.1 L917.3 963.5 L918.3 963.8 L919.3 963.5 L920.3 963.5 L921.3 964.1 L922.3 964.1 L923.3 964.5 L924.3 964.5 L925.3 965.3 L926.3 965.3 L927.3 965.8 L928.3 966.4 L929.3 966.6 L930.3 967.3 L931.3 967.5 L932.3 967.9 L933.3 968.4 L934.3 968.5 L935.3 969.0 L936.3 969.0 L937.3 969.3 L938.3 969.3 L939.3 969.5 L940.3 969.6 L941.3 969.3 L942.3 969.6 L943.3 969.5 L944.3 969.7 L945.3 969.7 L946.3 969.8 L947.3 969.4 L948.3 969.6 L949.3 969.8 L950.3 969.9 L951.3 969.8 L952.3 969.5 L953.3 969.7 L954.3 969.5 L955.3 969.8 L956.3 969.9 L957.3 969.6 L958.3 970.0 L959.3 969.9 L960.3 969.7 L961.3 969.7 L962.3 969.8 L963.3 970.0 L964.3 969.9 L965.3 969.7 L966.3 969.7 L967.3 969.7 L968.3 970.0 L969.3 969.8 L970.3 970.0 L971.3 969.9 L972.3 970.0 L973.3 969.9 L974.3 969.9 L975.3 970.2 L976.3 970.0 L977.3 970.1 L978.3 970.2 L979.3 970.2 L980.3 969.9 L981.3 970.1 L982.3 970.0 L983.3 970.1 L984.3 970.3 L985.3 970.3 L986.3 970.0 L987.3 970.1 L988.3 970.3 L989.3 970.3 L990.3 970.2 L991.3 970.2 L992.3 970.2 L993.3 970.4 L994.3 970.3 L995.3 970.4 L996.3 970.4 L997.3 970.2 L998.3 970.3 L999.3 970.3 L1000.3 970.5 L1001.3 970.4 L1002.3 970.3 L1003.3 970.3 L1004.3 970.4 L1005.3 970.4 L1006.3 970.4 L1007.3 970.4 L1008.3 970.4 L1009.3 970.3 L1010.3 970.4 L1011.3 970.4 L1012.3 970.3 L1013.3 970.4 L1014.3 970.5 L1015.3 970.3 L1016.3 970.3 L1017.3 970.4 L1018.3 970.4 L1019.3 970.4 L1020.3 970.4 L1021.3 970.4 L1022.3 970.4 L1023.3 970.4 L1024.3 970.5 L1025.3 970.5 L1026.3 970.3 L1027.3 970.4 L1028.3 970.5 L1029.3 970.5 L1030.3 970.5 L1031.3 970.5 L1032.3 970.5 L1033.3 970.4 L1034.3 970.4 L1035.3 970.5 L1036.3 970.5 L1037.3 970.5 L1038.3 970.5 L1039.3 970.4 L1040.3 970.5 L1041.3 970.5 L1042.3 970.4 L1043.3 970.5 L1044.3 970.4 L1045.3 970.5 L1046.3 970.4 L1047.3 970.4 L1048.3 970.4 L1049.3 970.4 L1050.3 970.6 L1051.3 970.5 L1052.3 970.4 L1053.3 970.4 L1054.3 970.4 L1055.3 970.4 L1056.3 970.4 L1057.3 970.4 L1058.3 970.5 L1059.3 970.5 L1060.3 970.5 L1061.3 970.5 L1062.3 970.4 L1063.3 970.4 L1064.3 970.4 L1065.3 970.4 L1066.3 970.4" fill="none" stroke="#7a1f2e" stroke-opacity="0.55" stroke-width="1.2"/>
<line x1="71.3" y1="970.1" x2="1067.0" y2="970.1" stroke="url(#bl2)" stroke-width="1.8"/>
<clipPath id="sp2"><use href="#sp2path"/></clipPath>
<g clip-path="url(#sp2)" opacity="0.4"><rect x="135.7" y="773.0" width="21.4" height="25.8" rx="1.5" fill="none" stroke="#b8e27c" stroke-width="1.7"/><text x="138.0" y="792.8" class="el">O</text><rect x="104.8" y="867.5" width="23.6" height="24.7" rx="1.5" fill="none" stroke="#cc7f96" stroke-width="1.7"/><text x="107.8" y="886.2" class="el">Ag</text><rect x="123.5" y="889.5" width="15.9" height="24.7" rx="1.5" fill="none" stroke="#8fb2b5" stroke-width="1.7"/><text x="126.2" y="908.2" class="el">Ti</text><rect x="404.4" y="922.1" width="18.7" height="24.9" rx="1.5" fill="none" stroke="#e8d46a" stroke-width="1.7"/><text x="406.3" y="941.0" class="el">Pt</text><rect x="417.7" y="928.2" width="19.7" height="24.2" rx="1.5" fill="none" stroke="#e8d46a" stroke-width="1.7"/><text x="419.6" y="946.5" class="el">Pt</text><rect x="566.8" y="936.4" width="23.8" height="24.9" rx="1.5" fill="none" stroke="#cc7f96" stroke-width="1.7"/><text x="569.7" y="955.3" class="el">Ag</text><rect x="840.5" y="887.1" width="17.1" height="24.7" rx="1.5" fill="none" stroke="#8fb2b5" stroke-width="1.7"/><text x="843.1" y="905.9" class="el">Ti</text><rect x="914.9" y="934.9" width="16.8" height="24.7" rx="1.5" fill="none" stroke="#8fb2b5" stroke-width="1.7"/><text x="917.5" y="953.6" class="el">Ti</text></g>
<mask id="nm2" maskUnits="userSpaceOnUse" x="0" y="0" width="1077" height="1000"><rect width="1077" height="1000" fill="#fff"/><use href="#sp2path" fill="#000"/></mask>
<g mask="url(#nm2)"><text x="138.0" y="792.8" class="el">O</text><text x="107.8" y="886.2" class="el">Ag</text><text x="126.2" y="908.2" class="el">Ti</text><text x="406.3" y="941.0" class="el">Pt</text><text x="419.6" y="946.5" class="el">Pt</text><text x="569.7" y="955.3" class="el">Ag</text><text x="843.1" y="905.9" class="el">Ti</text><text x="917.5" y="953.6" class="el">Ti</text></g>
<text x="560.0" y="840.2" class="ti">TAg5</text>
<text x="0" y="0" class="le" style="font-size:50px" transform="translate(957.5 769.7) scale(0.88 1)">c</text></g>
</svg>
</body></html>
